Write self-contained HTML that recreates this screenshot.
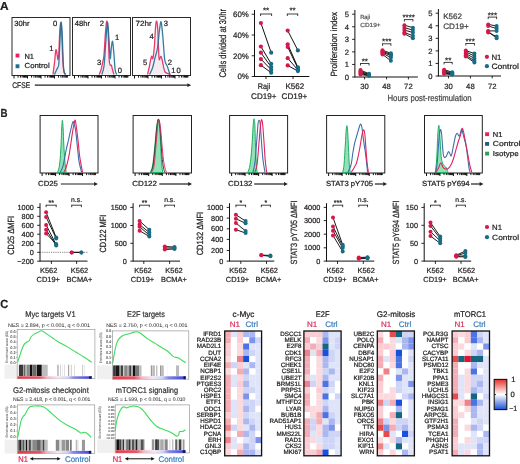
<!DOCTYPE html>
<html><head><meta charset="utf-8"><style>
html,body{margin:0;padding:0;background:#fff;}
svg{display:block;will-change:transform;}
text{font-family:"Liberation Sans", sans-serif;text-rendering:geometricPrecision;}
</style></head><body>
<svg width="520" height="464" viewBox="0 0 520 464">
<rect width="520" height="464" fill="#fff"/>
<text x="0.00" y="9.60" font-size="11.5" fill="#231f20" stroke="#231f20" stroke-width="0.22" font-weight="bold" textLength="8.6" lengthAdjust="spacingAndGlyphs">A</text>
<rect x="12.00" y="17.50" width="58.00" height="58.00" fill="none" stroke="#2b2b2b" stroke-width="1"/>
<rect x="72.50" y="17.50" width="58.00" height="58.00" fill="none" stroke="#2b2b2b" stroke-width="1"/>
<rect x="132.50" y="17.50" width="58.00" height="58.00" fill="none" stroke="#2b2b2b" stroke-width="1"/>
<path d="M53.00,74.50 C53.27,72.42 54.12,66.12 54.60,62.00 C55.08,57.88 55.47,50.97 55.90,49.80 C56.33,48.63 56.87,53.38 57.20,55.00 C57.53,56.62 57.63,59.67 57.90,59.50 C58.17,59.33 58.52,58.08 58.80,54.00 C59.08,49.92 59.30,40.17 59.60,35.00 C59.90,29.83 60.27,23.83 60.60,23.00 C60.93,22.17 61.27,24.67 61.60,30.00 C61.93,35.33 62.27,48.33 62.60,55.00 C62.93,61.67 63.20,66.75 63.60,70.00 C64.00,73.25 64.77,73.75 65.00,74.50 Z" fill="#f37aa0" fill-opacity="0.105"/>
<path d="M53.00,74.50 C53.27,72.42 54.12,66.12 54.60,62.00 C55.08,57.88 55.47,50.97 55.90,49.80 C56.33,48.63 56.87,53.38 57.20,55.00 C57.53,56.62 57.63,59.67 57.90,59.50 C58.17,59.33 58.52,58.08 58.80,54.00 C59.08,49.92 59.30,40.17 59.60,35.00 C59.90,29.83 60.27,23.83 60.60,23.00 C60.93,22.17 61.27,24.67 61.60,30.00 C61.93,35.33 62.27,48.33 62.60,55.00 C62.93,61.67 63.20,66.75 63.60,70.00 C64.00,73.25 64.77,73.75 65.00,74.50" fill="none" stroke="#e8245c" stroke-width="1.3" stroke-linejoin="round" stroke-opacity="0.9"/>
<path d="M54.50,74.50 C54.83,73.75 55.93,71.22 56.50,70.00 C57.07,68.78 57.52,68.20 57.90,67.20 C58.28,66.20 58.48,67.87 58.80,64.00 C59.12,60.13 59.43,50.93 59.80,44.00 C60.17,37.07 60.60,24.07 61.00,22.40 C61.40,20.73 61.83,27.40 62.20,34.00 C62.57,40.60 62.87,55.67 63.20,62.00 C63.53,68.33 63.73,69.92 64.20,72.00 C64.67,74.08 65.70,74.08 66.00,74.50 Z" fill="#6ab0d0" fill-opacity="0.06"/>
<path d="M54.50,74.50 C54.83,73.75 55.93,71.22 56.50,70.00 C57.07,68.78 57.52,68.20 57.90,67.20 C58.28,66.20 58.48,67.87 58.80,64.00 C59.12,60.13 59.43,50.93 59.80,44.00 C60.17,37.07 60.60,24.07 61.00,22.40 C61.40,20.73 61.83,27.40 62.20,34.00 C62.57,40.60 62.87,55.67 63.20,62.00 C63.53,68.33 63.73,69.92 64.20,72.00 C64.67,74.08 65.70,74.08 66.00,74.50" fill="none" stroke="#1f6f93" stroke-width="1.3" stroke-linejoin="round" stroke-opacity="0.9"/>
<path d="M99.10,74.50 C99.42,73.75 100.43,71.90 101.00,70.00 C101.57,68.10 102.00,65.60 102.50,63.10 C103.00,60.60 103.50,60.18 104.00,55.00 C104.50,49.82 105.02,37.65 105.50,32.00 C105.98,26.35 106.45,20.77 106.90,21.10 C107.35,21.43 107.82,27.52 108.20,34.00 C108.58,40.48 108.87,54.83 109.20,60.00 C109.53,65.17 109.85,64.13 110.20,65.00 C110.55,65.87 110.90,64.37 111.30,65.20 C111.70,66.03 112.15,68.45 112.60,70.00 C113.05,71.55 113.77,73.75 114.00,74.50 Z" fill="#f37aa0" fill-opacity="0.105"/>
<path d="M99.10,74.50 C99.42,73.75 100.43,71.90 101.00,70.00 C101.57,68.10 102.00,65.60 102.50,63.10 C103.00,60.60 103.50,60.18 104.00,55.00 C104.50,49.82 105.02,37.65 105.50,32.00 C105.98,26.35 106.45,20.77 106.90,21.10 C107.35,21.43 107.82,27.52 108.20,34.00 C108.58,40.48 108.87,54.83 109.20,60.00 C109.53,65.17 109.85,64.13 110.20,65.00 C110.55,65.87 110.90,64.37 111.30,65.20 C111.70,66.03 112.15,68.45 112.60,70.00 C113.05,71.55 113.77,73.75 114.00,74.50" fill="none" stroke="#e8245c" stroke-width="1.3" stroke-linejoin="round" stroke-opacity="0.9"/>
<path d="M101.80,74.50 C102.17,73.08 103.33,71.42 104.00,66.00 C104.67,60.58 105.22,49.27 105.80,42.00 C106.38,34.73 106.97,22.73 107.50,22.40 C108.03,22.07 108.55,34.00 109.00,40.00 C109.45,46.00 109.82,57.07 110.20,58.40 C110.58,59.73 110.90,50.83 111.30,48.00 C111.70,45.17 112.15,40.23 112.60,41.40 C113.05,42.57 113.57,50.23 114.00,55.00 C114.43,59.77 114.75,66.75 115.20,70.00 C115.65,73.25 116.45,73.75 116.70,74.50 Z" fill="#6ab0d0" fill-opacity="0.06"/>
<path d="M101.80,74.50 C102.17,73.08 103.33,71.42 104.00,66.00 C104.67,60.58 105.22,49.27 105.80,42.00 C106.38,34.73 106.97,22.73 107.50,22.40 C108.03,22.07 108.55,34.00 109.00,40.00 C109.45,46.00 109.82,57.07 110.20,58.40 C110.58,59.73 110.90,50.83 111.30,48.00 C111.70,45.17 112.15,40.23 112.60,41.40 C113.05,42.57 113.57,50.23 114.00,55.00 C114.43,59.77 114.75,66.75 115.20,70.00 C115.65,73.25 116.45,73.75 116.70,74.50" fill="none" stroke="#1f6f93" stroke-width="1.3" stroke-linejoin="round" stroke-opacity="0.9"/>
<path d="M147.50,74.50 C147.83,73.08 148.83,69.02 149.50,66.00 C150.17,62.98 150.93,57.67 151.50,56.40 C152.07,55.13 152.40,60.30 152.90,58.40 C153.40,56.50 154.07,50.07 154.50,45.00 C154.93,39.93 155.15,31.98 155.50,28.00 C155.85,24.02 156.22,20.77 156.60,21.10 C156.98,21.43 157.40,23.88 157.80,30.00 C158.20,36.12 158.60,53.22 159.00,57.80 C159.40,62.38 159.85,57.73 160.20,57.50 C160.55,57.27 160.77,55.98 161.10,56.40 C161.43,56.82 161.87,58.65 162.20,60.00 C162.53,61.35 162.62,62.50 163.10,64.50 C163.58,66.50 163.85,70.33 165.10,72.00 C166.35,73.67 169.68,74.08 170.60,74.50 Z" fill="#f37aa0" fill-opacity="0.105"/>
<path d="M147.50,74.50 C147.83,73.08 148.83,69.02 149.50,66.00 C150.17,62.98 150.93,57.67 151.50,56.40 C152.07,55.13 152.40,60.30 152.90,58.40 C153.40,56.50 154.07,50.07 154.50,45.00 C154.93,39.93 155.15,31.98 155.50,28.00 C155.85,24.02 156.22,20.77 156.60,21.10 C156.98,21.43 157.40,23.88 157.80,30.00 C158.20,36.12 158.60,53.22 159.00,57.80 C159.40,62.38 159.85,57.73 160.20,57.50 C160.55,57.27 160.77,55.98 161.10,56.40 C161.43,56.82 161.87,58.65 162.20,60.00 C162.53,61.35 162.62,62.50 163.10,64.50 C163.58,66.50 163.85,70.33 165.10,72.00 C166.35,73.67 169.68,74.08 170.60,74.50" fill="none" stroke="#e8245c" stroke-width="1.3" stroke-linejoin="round" stroke-opacity="0.9"/>
<path d="M149.50,74.50 C150.00,73.42 151.58,70.78 152.50,68.00 C153.42,65.22 154.17,61.13 155.00,57.80 C155.83,54.47 156.75,52.63 157.50,48.00 C158.25,43.37 158.90,34.37 159.50,30.00 C160.10,25.63 160.57,20.97 161.10,21.80 C161.63,22.63 162.13,29.00 162.70,35.00 C163.27,41.00 164.02,53.13 164.50,57.80 C164.98,62.47 165.15,61.65 165.60,63.00 C166.05,64.35 166.72,64.73 167.20,65.90 C167.68,67.07 168.05,68.57 168.50,70.00 C168.95,71.43 169.67,73.75 169.90,74.50 Z" fill="#6ab0d0" fill-opacity="0.06"/>
<path d="M149.50,74.50 C150.00,73.42 151.58,70.78 152.50,68.00 C153.42,65.22 154.17,61.13 155.00,57.80 C155.83,54.47 156.75,52.63 157.50,48.00 C158.25,43.37 158.90,34.37 159.50,30.00 C160.10,25.63 160.57,20.97 161.10,21.80 C161.63,22.63 162.13,29.00 162.70,35.00 C163.27,41.00 164.02,53.13 164.50,57.80 C164.98,62.47 165.15,61.65 165.60,63.00 C166.05,64.35 166.72,64.73 167.20,65.90 C167.68,67.07 168.05,68.57 168.50,70.00 C168.95,71.43 169.67,73.75 169.90,74.50" fill="none" stroke="#1f6f93" stroke-width="1.3" stroke-linejoin="round" stroke-opacity="0.9"/>
<line x1="14.00" y1="75.50" x2="14.00" y2="78.50" stroke="#111" stroke-width="1.0"/>
<line x1="18.06" y1="75.50" x2="18.06" y2="77.60" stroke="#111" stroke-width="1.0"/>
<line x1="20.44" y1="75.50" x2="20.44" y2="77.60" stroke="#111" stroke-width="1.0"/>
<line x1="22.13" y1="75.50" x2="22.13" y2="77.60" stroke="#111" stroke-width="1.0"/>
<line x1="23.44" y1="75.50" x2="23.44" y2="77.60" stroke="#111" stroke-width="1.0"/>
<line x1="24.51" y1="75.50" x2="24.51" y2="77.60" stroke="#111" stroke-width="1.0"/>
<line x1="25.41" y1="75.50" x2="25.41" y2="77.60" stroke="#111" stroke-width="1.0"/>
<line x1="26.19" y1="75.50" x2="26.19" y2="77.60" stroke="#111" stroke-width="1.0"/>
<line x1="26.88" y1="75.50" x2="26.88" y2="77.60" stroke="#111" stroke-width="1.0"/>
<line x1="27.50" y1="75.50" x2="27.50" y2="78.50" stroke="#111" stroke-width="1.0"/>
<line x1="31.56" y1="75.50" x2="31.56" y2="77.60" stroke="#111" stroke-width="1.0"/>
<line x1="33.94" y1="75.50" x2="33.94" y2="77.60" stroke="#111" stroke-width="1.0"/>
<line x1="35.63" y1="75.50" x2="35.63" y2="77.60" stroke="#111" stroke-width="1.0"/>
<line x1="36.94" y1="75.50" x2="36.94" y2="77.60" stroke="#111" stroke-width="1.0"/>
<line x1="38.01" y1="75.50" x2="38.01" y2="77.60" stroke="#111" stroke-width="1.0"/>
<line x1="38.91" y1="75.50" x2="38.91" y2="77.60" stroke="#111" stroke-width="1.0"/>
<line x1="39.69" y1="75.50" x2="39.69" y2="77.60" stroke="#111" stroke-width="1.0"/>
<line x1="40.38" y1="75.50" x2="40.38" y2="77.60" stroke="#111" stroke-width="1.0"/>
<line x1="41.00" y1="75.50" x2="41.00" y2="78.50" stroke="#111" stroke-width="1.0"/>
<line x1="45.06" y1="75.50" x2="45.06" y2="77.60" stroke="#111" stroke-width="1.0"/>
<line x1="47.44" y1="75.50" x2="47.44" y2="77.60" stroke="#111" stroke-width="1.0"/>
<line x1="49.13" y1="75.50" x2="49.13" y2="77.60" stroke="#111" stroke-width="1.0"/>
<line x1="50.44" y1="75.50" x2="50.44" y2="77.60" stroke="#111" stroke-width="1.0"/>
<line x1="51.51" y1="75.50" x2="51.51" y2="77.60" stroke="#111" stroke-width="1.0"/>
<line x1="52.41" y1="75.50" x2="52.41" y2="77.60" stroke="#111" stroke-width="1.0"/>
<line x1="53.19" y1="75.50" x2="53.19" y2="77.60" stroke="#111" stroke-width="1.0"/>
<line x1="53.88" y1="75.50" x2="53.88" y2="77.60" stroke="#111" stroke-width="1.0"/>
<line x1="54.50" y1="75.50" x2="54.50" y2="78.50" stroke="#111" stroke-width="1.0"/>
<line x1="58.56" y1="75.50" x2="58.56" y2="77.60" stroke="#111" stroke-width="1.0"/>
<line x1="60.94" y1="75.50" x2="60.94" y2="77.60" stroke="#111" stroke-width="1.0"/>
<line x1="62.63" y1="75.50" x2="62.63" y2="77.60" stroke="#111" stroke-width="1.0"/>
<line x1="63.94" y1="75.50" x2="63.94" y2="77.60" stroke="#111" stroke-width="1.0"/>
<line x1="65.01" y1="75.50" x2="65.01" y2="77.60" stroke="#111" stroke-width="1.0"/>
<line x1="65.91" y1="75.50" x2="65.91" y2="77.60" stroke="#111" stroke-width="1.0"/>
<line x1="66.69" y1="75.50" x2="66.69" y2="77.60" stroke="#111" stroke-width="1.0"/>
<line x1="67.38" y1="75.50" x2="67.38" y2="77.60" stroke="#111" stroke-width="1.0"/>
<line x1="74.50" y1="75.50" x2="74.50" y2="78.50" stroke="#111" stroke-width="1.0"/>
<line x1="78.56" y1="75.50" x2="78.56" y2="77.60" stroke="#111" stroke-width="1.0"/>
<line x1="80.94" y1="75.50" x2="80.94" y2="77.60" stroke="#111" stroke-width="1.0"/>
<line x1="82.63" y1="75.50" x2="82.63" y2="77.60" stroke="#111" stroke-width="1.0"/>
<line x1="83.94" y1="75.50" x2="83.94" y2="77.60" stroke="#111" stroke-width="1.0"/>
<line x1="85.01" y1="75.50" x2="85.01" y2="77.60" stroke="#111" stroke-width="1.0"/>
<line x1="85.91" y1="75.50" x2="85.91" y2="77.60" stroke="#111" stroke-width="1.0"/>
<line x1="86.69" y1="75.50" x2="86.69" y2="77.60" stroke="#111" stroke-width="1.0"/>
<line x1="87.38" y1="75.50" x2="87.38" y2="77.60" stroke="#111" stroke-width="1.0"/>
<line x1="88.00" y1="75.50" x2="88.00" y2="78.50" stroke="#111" stroke-width="1.0"/>
<line x1="92.06" y1="75.50" x2="92.06" y2="77.60" stroke="#111" stroke-width="1.0"/>
<line x1="94.44" y1="75.50" x2="94.44" y2="77.60" stroke="#111" stroke-width="1.0"/>
<line x1="96.13" y1="75.50" x2="96.13" y2="77.60" stroke="#111" stroke-width="1.0"/>
<line x1="97.44" y1="75.50" x2="97.44" y2="77.60" stroke="#111" stroke-width="1.0"/>
<line x1="98.51" y1="75.50" x2="98.51" y2="77.60" stroke="#111" stroke-width="1.0"/>
<line x1="99.41" y1="75.50" x2="99.41" y2="77.60" stroke="#111" stroke-width="1.0"/>
<line x1="100.19" y1="75.50" x2="100.19" y2="77.60" stroke="#111" stroke-width="1.0"/>
<line x1="100.88" y1="75.50" x2="100.88" y2="77.60" stroke="#111" stroke-width="1.0"/>
<line x1="101.50" y1="75.50" x2="101.50" y2="78.50" stroke="#111" stroke-width="1.0"/>
<line x1="105.56" y1="75.50" x2="105.56" y2="77.60" stroke="#111" stroke-width="1.0"/>
<line x1="107.94" y1="75.50" x2="107.94" y2="77.60" stroke="#111" stroke-width="1.0"/>
<line x1="109.63" y1="75.50" x2="109.63" y2="77.60" stroke="#111" stroke-width="1.0"/>
<line x1="110.94" y1="75.50" x2="110.94" y2="77.60" stroke="#111" stroke-width="1.0"/>
<line x1="112.01" y1="75.50" x2="112.01" y2="77.60" stroke="#111" stroke-width="1.0"/>
<line x1="112.91" y1="75.50" x2="112.91" y2="77.60" stroke="#111" stroke-width="1.0"/>
<line x1="113.69" y1="75.50" x2="113.69" y2="77.60" stroke="#111" stroke-width="1.0"/>
<line x1="114.38" y1="75.50" x2="114.38" y2="77.60" stroke="#111" stroke-width="1.0"/>
<line x1="115.00" y1="75.50" x2="115.00" y2="78.50" stroke="#111" stroke-width="1.0"/>
<line x1="119.06" y1="75.50" x2="119.06" y2="77.60" stroke="#111" stroke-width="1.0"/>
<line x1="121.44" y1="75.50" x2="121.44" y2="77.60" stroke="#111" stroke-width="1.0"/>
<line x1="123.13" y1="75.50" x2="123.13" y2="77.60" stroke="#111" stroke-width="1.0"/>
<line x1="124.44" y1="75.50" x2="124.44" y2="77.60" stroke="#111" stroke-width="1.0"/>
<line x1="125.51" y1="75.50" x2="125.51" y2="77.60" stroke="#111" stroke-width="1.0"/>
<line x1="126.41" y1="75.50" x2="126.41" y2="77.60" stroke="#111" stroke-width="1.0"/>
<line x1="127.19" y1="75.50" x2="127.19" y2="77.60" stroke="#111" stroke-width="1.0"/>
<line x1="127.88" y1="75.50" x2="127.88" y2="77.60" stroke="#111" stroke-width="1.0"/>
<line x1="134.50" y1="75.50" x2="134.50" y2="78.50" stroke="#111" stroke-width="1.0"/>
<line x1="138.56" y1="75.50" x2="138.56" y2="77.60" stroke="#111" stroke-width="1.0"/>
<line x1="140.94" y1="75.50" x2="140.94" y2="77.60" stroke="#111" stroke-width="1.0"/>
<line x1="142.63" y1="75.50" x2="142.63" y2="77.60" stroke="#111" stroke-width="1.0"/>
<line x1="143.94" y1="75.50" x2="143.94" y2="77.60" stroke="#111" stroke-width="1.0"/>
<line x1="145.01" y1="75.50" x2="145.01" y2="77.60" stroke="#111" stroke-width="1.0"/>
<line x1="145.91" y1="75.50" x2="145.91" y2="77.60" stroke="#111" stroke-width="1.0"/>
<line x1="146.69" y1="75.50" x2="146.69" y2="77.60" stroke="#111" stroke-width="1.0"/>
<line x1="147.38" y1="75.50" x2="147.38" y2="77.60" stroke="#111" stroke-width="1.0"/>
<line x1="148.00" y1="75.50" x2="148.00" y2="78.50" stroke="#111" stroke-width="1.0"/>
<line x1="152.06" y1="75.50" x2="152.06" y2="77.60" stroke="#111" stroke-width="1.0"/>
<line x1="154.44" y1="75.50" x2="154.44" y2="77.60" stroke="#111" stroke-width="1.0"/>
<line x1="156.13" y1="75.50" x2="156.13" y2="77.60" stroke="#111" stroke-width="1.0"/>
<line x1="157.44" y1="75.50" x2="157.44" y2="77.60" stroke="#111" stroke-width="1.0"/>
<line x1="158.51" y1="75.50" x2="158.51" y2="77.60" stroke="#111" stroke-width="1.0"/>
<line x1="159.41" y1="75.50" x2="159.41" y2="77.60" stroke="#111" stroke-width="1.0"/>
<line x1="160.19" y1="75.50" x2="160.19" y2="77.60" stroke="#111" stroke-width="1.0"/>
<line x1="160.88" y1="75.50" x2="160.88" y2="77.60" stroke="#111" stroke-width="1.0"/>
<line x1="161.50" y1="75.50" x2="161.50" y2="78.50" stroke="#111" stroke-width="1.0"/>
<line x1="165.56" y1="75.50" x2="165.56" y2="77.60" stroke="#111" stroke-width="1.0"/>
<line x1="167.94" y1="75.50" x2="167.94" y2="77.60" stroke="#111" stroke-width="1.0"/>
<line x1="169.63" y1="75.50" x2="169.63" y2="77.60" stroke="#111" stroke-width="1.0"/>
<line x1="170.94" y1="75.50" x2="170.94" y2="77.60" stroke="#111" stroke-width="1.0"/>
<line x1="172.01" y1="75.50" x2="172.01" y2="77.60" stroke="#111" stroke-width="1.0"/>
<line x1="172.91" y1="75.50" x2="172.91" y2="77.60" stroke="#111" stroke-width="1.0"/>
<line x1="173.69" y1="75.50" x2="173.69" y2="77.60" stroke="#111" stroke-width="1.0"/>
<line x1="174.38" y1="75.50" x2="174.38" y2="77.60" stroke="#111" stroke-width="1.0"/>
<line x1="175.00" y1="75.50" x2="175.00" y2="78.50" stroke="#111" stroke-width="1.0"/>
<line x1="179.06" y1="75.50" x2="179.06" y2="77.60" stroke="#111" stroke-width="1.0"/>
<line x1="181.44" y1="75.50" x2="181.44" y2="77.60" stroke="#111" stroke-width="1.0"/>
<line x1="183.13" y1="75.50" x2="183.13" y2="77.60" stroke="#111" stroke-width="1.0"/>
<line x1="184.44" y1="75.50" x2="184.44" y2="77.60" stroke="#111" stroke-width="1.0"/>
<line x1="185.51" y1="75.50" x2="185.51" y2="77.60" stroke="#111" stroke-width="1.0"/>
<line x1="186.41" y1="75.50" x2="186.41" y2="77.60" stroke="#111" stroke-width="1.0"/>
<line x1="187.19" y1="75.50" x2="187.19" y2="77.60" stroke="#111" stroke-width="1.0"/>
<line x1="187.88" y1="75.50" x2="187.88" y2="77.60" stroke="#111" stroke-width="1.0"/>
<text x="14.30" y="25.90" font-size="7.5" fill="#222" stroke="#222" stroke-width="0.22" textLength="15.3" lengthAdjust="spacingAndGlyphs">30hr</text>
<text x="74.80" y="25.90" font-size="7.5" fill="#222" stroke="#222" stroke-width="0.22" textLength="15.3" lengthAdjust="spacingAndGlyphs">48hr</text>
<text x="135.60" y="25.90" font-size="7.5" fill="#222" stroke="#222" stroke-width="0.22" textLength="16.2" lengthAdjust="spacingAndGlyphs">72hr</text>
<text x="55.20" y="26.00" font-size="7.6" text-anchor="middle" fill="#222" stroke="#222" stroke-width="0.22">0</text>
<text x="51.30" y="51.20" font-size="7.6" text-anchor="middle" fill="#222" stroke="#222" stroke-width="0.22">1</text>
<text x="101.80" y="25.80" font-size="7.6" text-anchor="middle" fill="#222" stroke="#222" stroke-width="0.22">2</text>
<text x="117.00" y="39.50" font-size="7.6" text-anchor="middle" fill="#222" stroke="#222" stroke-width="0.22">1</text>
<text x="99.10" y="64.50" font-size="7.6" text-anchor="middle" fill="#222" stroke="#222" stroke-width="0.22">3</text>
<text x="119.80" y="73.00" font-size="7.6" text-anchor="middle" fill="#222" stroke="#222" stroke-width="0.22">0</text>
<text x="165.80" y="25.80" font-size="7.6" text-anchor="middle" fill="#222" stroke="#222" stroke-width="0.22">3</text>
<text x="151.50" y="38.90" font-size="7.6" text-anchor="middle" fill="#222" stroke="#222" stroke-width="0.22">4</text>
<text x="145.20" y="65.10" font-size="7.6" text-anchor="middle" fill="#222" stroke="#222" stroke-width="0.22">5</text>
<text x="169.90" y="64.60" font-size="7.6" text-anchor="middle" fill="#222" stroke="#222" stroke-width="0.22">2</text>
<text x="173.30" y="72.60" font-size="7.6" text-anchor="middle" fill="#222" stroke="#222" stroke-width="0.22">1</text>
<text x="178.70" y="72.60" font-size="7.6" text-anchor="middle" fill="#222" stroke="#222" stroke-width="0.22">0</text>
<rect x="15.60" y="53.60" width="3.80" height="3.90" fill="#e8245c"/>
<text x="24.50" y="58.50" font-size="7.4" fill="#222" stroke="#222" stroke-width="0.22" textLength="9.5" lengthAdjust="spacingAndGlyphs">N1</text>
<rect x="15.60" y="64.30" width="3.80" height="3.90" fill="#1f6f93"/>
<text x="24.50" y="68.30" font-size="7.4" fill="#222" stroke="#222" stroke-width="0.22" textLength="25.2" lengthAdjust="spacingAndGlyphs">Control</text>
<text x="12.20" y="87.80" font-size="8.2" fill="#222" stroke="#222" stroke-width="0.22" textLength="18.0" lengthAdjust="spacingAndGlyphs">CFSE</text>
<line x1="34.80" y1="85.20" x2="187.90" y2="85.20" stroke="#231f20" stroke-width="1.2"/>
<path d="M191.20,85.20 L187.40,83.30 L187.40,87.10 Z" fill="#231f20"/>
<line x1="254.50" y1="10.00" x2="254.50" y2="77.00" stroke="#111" stroke-width="1"/>
<line x1="251.70" y1="76.50" x2="254.50" y2="76.50" stroke="#111" stroke-width="0.9"/>
<text x="248.90" y="79.25" font-size="7.9" text-anchor="end" fill="#231f20" stroke="#231f20" stroke-width="0.22">0%</text>
<line x1="251.70" y1="55.75" x2="254.50" y2="55.75" stroke="#111" stroke-width="0.9"/>
<text x="248.90" y="58.50" font-size="7.9" text-anchor="end" fill="#231f20" stroke="#231f20" stroke-width="0.22">20%</text>
<line x1="251.70" y1="35.00" x2="254.50" y2="35.00" stroke="#111" stroke-width="0.9"/>
<text x="248.90" y="37.75" font-size="7.9" text-anchor="end" fill="#231f20" stroke="#231f20" stroke-width="0.22">40%</text>
<line x1="251.70" y1="14.25" x2="254.50" y2="14.25" stroke="#111" stroke-width="0.9"/>
<text x="248.90" y="17.00" font-size="7.9" text-anchor="end" fill="#231f20" stroke="#231f20" stroke-width="0.22">60%</text>
<line x1="254.50" y1="76.50" x2="309.40" y2="76.50" stroke="#111" stroke-width="1"/>
<line x1="266.00" y1="76.50" x2="266.00" y2="79.10" stroke="#111" stroke-width="0.9"/>
<line x1="293.00" y1="76.50" x2="293.00" y2="79.10" stroke="#111" stroke-width="0.9"/>
<text x="226.30" y="43.30" font-size="9.8" text-anchor="middle" fill="#222" stroke="#222" stroke-width="0.22" textLength="68.6" lengthAdjust="spacingAndGlyphs" transform="rotate(-90 226.30 43.30)">Cells divided at 30hr</text>
<line x1="260.90" y1="23.00" x2="271.20" y2="52.70" stroke="#111" stroke-width="1.0"/>
<line x1="260.90" y1="46.50" x2="271.20" y2="63.80" stroke="#111" stroke-width="1.0"/>
<line x1="260.90" y1="52.70" x2="271.20" y2="67.00" stroke="#111" stroke-width="1.0"/>
<line x1="260.90" y1="59.10" x2="271.20" y2="69.70" stroke="#111" stroke-width="1.0"/>
<line x1="260.90" y1="65.20" x2="271.20" y2="72.70" stroke="#111" stroke-width="1.0"/>
<circle cx="260.90" cy="23.00" r="2.1" fill="#d6174a"/>
<circle cx="260.90" cy="46.50" r="2.1" fill="#d6174a"/>
<circle cx="260.90" cy="52.70" r="2.1" fill="#d6174a"/>
<circle cx="260.90" cy="59.10" r="2.1" fill="#d6174a"/>
<circle cx="260.90" cy="65.20" r="2.1" fill="#d6174a"/>
<circle cx="271.20" cy="52.70" r="2.1" fill="#186c86"/>
<circle cx="271.20" cy="63.80" r="2.1" fill="#186c86"/>
<circle cx="271.20" cy="67.00" r="2.1" fill="#186c86"/>
<circle cx="271.20" cy="69.70" r="2.1" fill="#186c86"/>
<circle cx="271.20" cy="72.70" r="2.1" fill="#186c86"/>
<line x1="287.70" y1="30.60" x2="297.90" y2="50.40" stroke="#111" stroke-width="1.0"/>
<line x1="287.70" y1="44.30" x2="297.90" y2="67.40" stroke="#111" stroke-width="1.0"/>
<line x1="287.70" y1="47.00" x2="297.90" y2="68.40" stroke="#111" stroke-width="1.0"/>
<line x1="287.70" y1="58.20" x2="297.90" y2="70.00" stroke="#111" stroke-width="1.0"/>
<line x1="287.70" y1="65.40" x2="297.90" y2="71.10" stroke="#111" stroke-width="1.0"/>
<circle cx="287.70" cy="30.60" r="2.1" fill="#d6174a"/>
<circle cx="287.70" cy="44.30" r="2.1" fill="#d6174a"/>
<circle cx="287.70" cy="47.00" r="2.1" fill="#d6174a"/>
<circle cx="287.70" cy="58.20" r="2.1" fill="#d6174a"/>
<circle cx="287.70" cy="65.40" r="2.1" fill="#d6174a"/>
<circle cx="297.90" cy="50.40" r="2.1" fill="#186c86"/>
<circle cx="297.90" cy="67.40" r="2.1" fill="#186c86"/>
<circle cx="297.90" cy="68.40" r="2.1" fill="#186c86"/>
<circle cx="297.90" cy="70.00" r="2.1" fill="#186c86"/>
<circle cx="297.90" cy="71.10" r="2.1" fill="#186c86"/>
<line x1="260.60" y1="14.00" x2="271.60" y2="14.00" stroke="#111" stroke-width="0.8"/>
<line x1="260.60" y1="13.60" x2="260.60" y2="16.00" stroke="#111" stroke-width="0.8"/>
<line x1="271.60" y1="13.60" x2="271.60" y2="16.00" stroke="#111" stroke-width="0.8"/>
<text x="266.10" y="13.00" font-size="8.0" text-anchor="middle" fill="#231f20" stroke="#231f20" stroke-width="0.22">**</text>
<line x1="287.30" y1="14.00" x2="297.70" y2="14.00" stroke="#111" stroke-width="0.8"/>
<line x1="287.30" y1="13.60" x2="287.30" y2="16.00" stroke="#111" stroke-width="0.8"/>
<line x1="297.70" y1="13.60" x2="297.70" y2="16.00" stroke="#111" stroke-width="0.8"/>
<text x="292.50" y="13.00" font-size="8.0" text-anchor="middle" fill="#231f20" stroke="#231f20" stroke-width="0.22">**</text>
<text x="264.05" y="89.10" font-size="8.1" text-anchor="middle" fill="#231f20" stroke="#231f20" stroke-width="0.22" textLength="12.5" lengthAdjust="spacingAndGlyphs">Raji</text>
<text x="263.85" y="99.00" font-size="8.1" text-anchor="middle" fill="#231f20" stroke="#231f20" stroke-width="0.22" textLength="25.5" lengthAdjust="spacingAndGlyphs">CD19+</text>
<text x="294.80" y="89.10" font-size="8.1" text-anchor="middle" fill="#231f20" stroke="#231f20" stroke-width="0.22" textLength="18.8" lengthAdjust="spacingAndGlyphs">K562</text>
<text x="294.40" y="99.00" font-size="8.1" text-anchor="middle" fill="#231f20" stroke="#231f20" stroke-width="0.22" textLength="25.6" lengthAdjust="spacingAndGlyphs">CD19+</text>
<line x1="354.90" y1="10.00" x2="354.90" y2="77.50" stroke="#111" stroke-width="1"/>
<line x1="352.10" y1="77.00" x2="354.90" y2="77.00" stroke="#111" stroke-width="0.9"/>
<text x="349.10" y="79.75" font-size="7.6" text-anchor="end" fill="#231f20" stroke="#231f20" stroke-width="0.22">0</text>
<line x1="352.10" y1="64.44" x2="354.90" y2="64.44" stroke="#111" stroke-width="0.9"/>
<text x="349.10" y="67.19" font-size="7.6" text-anchor="end" fill="#231f20" stroke="#231f20" stroke-width="0.22">1</text>
<line x1="352.10" y1="51.88" x2="354.90" y2="51.88" stroke="#111" stroke-width="0.9"/>
<text x="349.10" y="54.63" font-size="7.6" text-anchor="end" fill="#231f20" stroke="#231f20" stroke-width="0.22">2</text>
<line x1="352.10" y1="39.32" x2="354.90" y2="39.32" stroke="#111" stroke-width="0.9"/>
<text x="349.10" y="42.07" font-size="7.6" text-anchor="end" fill="#231f20" stroke="#231f20" stroke-width="0.22">3</text>
<line x1="352.10" y1="26.76" x2="354.90" y2="26.76" stroke="#111" stroke-width="0.9"/>
<text x="349.10" y="29.51" font-size="7.6" text-anchor="end" fill="#231f20" stroke="#231f20" stroke-width="0.22">4</text>
<line x1="352.10" y1="14.20" x2="354.90" y2="14.20" stroke="#111" stroke-width="0.9"/>
<text x="349.10" y="16.95" font-size="7.6" text-anchor="end" fill="#231f20" stroke="#231f20" stroke-width="0.22">5</text>
<line x1="354.90" y1="77.00" x2="417.90" y2="77.00" stroke="#111" stroke-width="1"/>
<line x1="364.60" y1="77.00" x2="364.60" y2="79.40" stroke="#111" stroke-width="0.9"/>
<line x1="386.60" y1="77.00" x2="386.60" y2="79.40" stroke="#111" stroke-width="0.9"/>
<line x1="408.40" y1="77.00" x2="408.40" y2="79.40" stroke="#111" stroke-width="0.9"/>
<text x="364.60" y="88.50" font-size="7.7" text-anchor="middle" fill="#231f20" stroke="#231f20" stroke-width="0.22">30</text>
<text x="386.60" y="88.50" font-size="7.7" text-anchor="middle" fill="#231f20" stroke="#231f20" stroke-width="0.22">48</text>
<text x="408.40" y="88.50" font-size="7.7" text-anchor="middle" fill="#231f20" stroke="#231f20" stroke-width="0.22">72</text>
<line x1="360.50" y1="70.00" x2="369.00" y2="73.80" stroke="#111" stroke-width="0.95"/>
<line x1="360.50" y1="71.30" x2="369.00" y2="74.40" stroke="#111" stroke-width="0.95"/>
<line x1="360.50" y1="72.50" x2="369.00" y2="74.90" stroke="#111" stroke-width="0.95"/>
<line x1="360.50" y1="73.60" x2="369.00" y2="75.30" stroke="#111" stroke-width="0.95"/>
<line x1="360.50" y1="74.60" x2="369.00" y2="75.70" stroke="#111" stroke-width="0.95"/>
<circle cx="360.50" cy="70.00" r="2.0" fill="#d6174a"/>
<circle cx="360.50" cy="71.30" r="2.0" fill="#d6174a"/>
<circle cx="360.50" cy="72.50" r="2.0" fill="#d6174a"/>
<circle cx="360.50" cy="73.60" r="2.0" fill="#d6174a"/>
<circle cx="360.50" cy="74.60" r="2.0" fill="#d6174a"/>
<circle cx="369.00" cy="73.80" r="2.0" fill="#186c86"/>
<circle cx="369.00" cy="74.40" r="2.0" fill="#186c86"/>
<circle cx="369.00" cy="74.90" r="2.0" fill="#186c86"/>
<circle cx="369.00" cy="75.30" r="2.0" fill="#186c86"/>
<circle cx="369.00" cy="75.70" r="2.0" fill="#186c86"/>
<line x1="360.50" y1="63.50" x2="369.00" y2="63.50" stroke="#111" stroke-width="0.8"/>
<line x1="360.50" y1="63.10" x2="360.50" y2="65.50" stroke="#111" stroke-width="0.8"/>
<line x1="369.00" y1="63.10" x2="369.00" y2="65.50" stroke="#111" stroke-width="0.8"/>
<text x="364.75" y="63.90" font-size="8.0" text-anchor="middle" fill="#231f20" stroke="#231f20" stroke-width="0.22">**</text>
<line x1="382.50" y1="50.30" x2="390.90" y2="53.20" stroke="#111" stroke-width="0.95"/>
<line x1="382.50" y1="51.30" x2="390.90" y2="54.40" stroke="#111" stroke-width="0.95"/>
<line x1="382.50" y1="52.30" x2="390.90" y2="55.50" stroke="#111" stroke-width="0.95"/>
<line x1="382.50" y1="53.20" x2="390.90" y2="57.60" stroke="#111" stroke-width="0.95"/>
<line x1="382.50" y1="54.40" x2="390.90" y2="60.80" stroke="#111" stroke-width="0.95"/>
<circle cx="382.50" cy="50.30" r="2.0" fill="#d6174a"/>
<circle cx="382.50" cy="51.30" r="2.0" fill="#d6174a"/>
<circle cx="382.50" cy="52.30" r="2.0" fill="#d6174a"/>
<circle cx="382.50" cy="53.20" r="2.0" fill="#d6174a"/>
<circle cx="382.50" cy="54.40" r="2.0" fill="#d6174a"/>
<circle cx="390.90" cy="53.20" r="2.0" fill="#186c86"/>
<circle cx="390.90" cy="54.40" r="2.0" fill="#186c86"/>
<circle cx="390.90" cy="55.50" r="2.0" fill="#186c86"/>
<circle cx="390.90" cy="57.60" r="2.0" fill="#186c86"/>
<circle cx="390.90" cy="60.80" r="2.0" fill="#186c86"/>
<line x1="382.50" y1="43.80" x2="390.90" y2="43.80" stroke="#111" stroke-width="0.8"/>
<line x1="382.50" y1="43.40" x2="382.50" y2="45.80" stroke="#111" stroke-width="0.8"/>
<line x1="390.90" y1="43.40" x2="390.90" y2="45.80" stroke="#111" stroke-width="0.8"/>
<text x="386.70" y="44.20" font-size="8.0" text-anchor="middle" fill="#231f20" stroke="#231f20" stroke-width="0.22">***</text>
<line x1="404.40" y1="25.20" x2="412.90" y2="27.70" stroke="#111" stroke-width="0.95"/>
<line x1="404.40" y1="27.70" x2="412.90" y2="30.10" stroke="#111" stroke-width="0.95"/>
<line x1="404.40" y1="30.10" x2="412.90" y2="32.50" stroke="#111" stroke-width="0.95"/>
<line x1="404.40" y1="32.50" x2="412.90" y2="35.70" stroke="#111" stroke-width="0.95"/>
<line x1="404.40" y1="33.80" x2="412.90" y2="38.20" stroke="#111" stroke-width="0.95"/>
<circle cx="404.40" cy="25.20" r="2.0" fill="#d6174a"/>
<circle cx="404.40" cy="27.70" r="2.0" fill="#d6174a"/>
<circle cx="404.40" cy="30.10" r="2.0" fill="#d6174a"/>
<circle cx="404.40" cy="32.50" r="2.0" fill="#d6174a"/>
<circle cx="404.40" cy="33.80" r="2.0" fill="#d6174a"/>
<circle cx="412.90" cy="27.70" r="2.0" fill="#186c86"/>
<circle cx="412.90" cy="30.10" r="2.0" fill="#186c86"/>
<circle cx="412.90" cy="32.50" r="2.0" fill="#186c86"/>
<circle cx="412.90" cy="35.70" r="2.0" fill="#186c86"/>
<circle cx="412.90" cy="38.20" r="2.0" fill="#186c86"/>
<line x1="404.40" y1="19.60" x2="412.90" y2="19.60" stroke="#111" stroke-width="0.8"/>
<line x1="404.40" y1="19.20" x2="404.40" y2="21.60" stroke="#111" stroke-width="0.8"/>
<line x1="412.90" y1="19.20" x2="412.90" y2="21.60" stroke="#111" stroke-width="0.8"/>
<text x="408.65" y="20.00" font-size="8.0" text-anchor="middle" fill="#231f20" stroke="#231f20" stroke-width="0.22">****</text>
<text x="337.40" y="44.30" font-size="9.0" text-anchor="middle" fill="#222" stroke="#222" stroke-width="0.22" textLength="64.6" lengthAdjust="spacingAndGlyphs" transform="rotate(-90 337.40 44.30)">Proliferation index</text>
<text x="360.20" y="19.20" font-size="5.9" fill="#555" stroke="#555" stroke-width="0.22" textLength="9.8" lengthAdjust="spacingAndGlyphs">Raji</text>
<text x="360.20" y="27.30" font-size="5.9" fill="#555" stroke="#555" stroke-width="0.22" textLength="20.5" lengthAdjust="spacingAndGlyphs">CD19+</text>
<line x1="438.40" y1="9.00" x2="438.40" y2="76.50" stroke="#111" stroke-width="1"/>
<line x1="435.60" y1="76.00" x2="438.40" y2="76.00" stroke="#111" stroke-width="0.9"/>
<text x="432.60" y="78.75" font-size="7.6" text-anchor="end" fill="#231f20" stroke="#231f20" stroke-width="0.22">0</text>
<line x1="435.60" y1="63.44" x2="438.40" y2="63.44" stroke="#111" stroke-width="0.9"/>
<text x="432.60" y="66.19" font-size="7.6" text-anchor="end" fill="#231f20" stroke="#231f20" stroke-width="0.22">1</text>
<line x1="435.60" y1="50.88" x2="438.40" y2="50.88" stroke="#111" stroke-width="0.9"/>
<text x="432.60" y="53.63" font-size="7.6" text-anchor="end" fill="#231f20" stroke="#231f20" stroke-width="0.22">2</text>
<line x1="435.60" y1="38.32" x2="438.40" y2="38.32" stroke="#111" stroke-width="0.9"/>
<text x="432.60" y="41.07" font-size="7.6" text-anchor="end" fill="#231f20" stroke="#231f20" stroke-width="0.22">3</text>
<line x1="435.60" y1="25.76" x2="438.40" y2="25.76" stroke="#111" stroke-width="0.9"/>
<text x="432.60" y="28.51" font-size="7.6" text-anchor="end" fill="#231f20" stroke="#231f20" stroke-width="0.22">4</text>
<line x1="435.60" y1="13.20" x2="438.40" y2="13.20" stroke="#111" stroke-width="0.9"/>
<text x="432.60" y="15.95" font-size="7.6" text-anchor="end" fill="#231f20" stroke="#231f20" stroke-width="0.22">5</text>
<line x1="438.40" y1="76.00" x2="501.00" y2="76.00" stroke="#111" stroke-width="1"/>
<line x1="448.50" y1="76.00" x2="448.50" y2="78.40" stroke="#111" stroke-width="0.9"/>
<line x1="470.40" y1="76.00" x2="470.40" y2="78.40" stroke="#111" stroke-width="0.9"/>
<line x1="492.20" y1="76.00" x2="492.20" y2="78.40" stroke="#111" stroke-width="0.9"/>
<text x="448.50" y="88.50" font-size="7.7" text-anchor="middle" fill="#231f20" stroke="#231f20" stroke-width="0.22">30</text>
<text x="470.40" y="88.50" font-size="7.7" text-anchor="middle" fill="#231f20" stroke="#231f20" stroke-width="0.22">48</text>
<text x="492.20" y="88.50" font-size="7.7" text-anchor="middle" fill="#231f20" stroke="#231f20" stroke-width="0.22">72</text>
<line x1="444.10" y1="69.70" x2="452.20" y2="72.20" stroke="#111" stroke-width="0.95"/>
<line x1="444.10" y1="71.00" x2="452.20" y2="73.00" stroke="#111" stroke-width="0.95"/>
<line x1="444.10" y1="72.20" x2="452.20" y2="73.60" stroke="#111" stroke-width="0.95"/>
<line x1="444.10" y1="73.00" x2="452.20" y2="74.20" stroke="#111" stroke-width="0.95"/>
<line x1="444.10" y1="73.80" x2="452.20" y2="74.60" stroke="#111" stroke-width="0.95"/>
<circle cx="444.10" cy="69.70" r="2.0" fill="#d6174a"/>
<circle cx="444.10" cy="71.00" r="2.0" fill="#d6174a"/>
<circle cx="444.10" cy="72.20" r="2.0" fill="#d6174a"/>
<circle cx="444.10" cy="73.00" r="2.0" fill="#d6174a"/>
<circle cx="444.10" cy="73.80" r="2.0" fill="#d6174a"/>
<circle cx="452.20" cy="72.20" r="2.0" fill="#186c86"/>
<circle cx="452.20" cy="73.00" r="2.0" fill="#186c86"/>
<circle cx="452.20" cy="73.60" r="2.0" fill="#186c86"/>
<circle cx="452.20" cy="74.20" r="2.0" fill="#186c86"/>
<circle cx="452.20" cy="74.60" r="2.0" fill="#186c86"/>
<line x1="444.10" y1="62.40" x2="452.20" y2="62.40" stroke="#111" stroke-width="0.8"/>
<line x1="444.10" y1="62.00" x2="444.10" y2="64.40" stroke="#111" stroke-width="0.8"/>
<line x1="452.20" y1="62.00" x2="452.20" y2="64.40" stroke="#111" stroke-width="0.8"/>
<text x="448.15" y="62.80" font-size="8.0" text-anchor="middle" fill="#231f20" stroke="#231f20" stroke-width="0.22">**</text>
<line x1="465.80" y1="50.60" x2="474.40" y2="53.50" stroke="#111" stroke-width="0.95"/>
<line x1="465.80" y1="51.90" x2="474.40" y2="56.00" stroke="#111" stroke-width="0.95"/>
<line x1="465.80" y1="53.50" x2="474.40" y2="58.40" stroke="#111" stroke-width="0.95"/>
<line x1="465.80" y1="55.20" x2="474.40" y2="60.80" stroke="#111" stroke-width="0.95"/>
<line x1="465.80" y1="56.50" x2="474.40" y2="62.40" stroke="#111" stroke-width="0.95"/>
<circle cx="465.80" cy="50.60" r="2.0" fill="#d6174a"/>
<circle cx="465.80" cy="51.90" r="2.0" fill="#d6174a"/>
<circle cx="465.80" cy="53.50" r="2.0" fill="#d6174a"/>
<circle cx="465.80" cy="55.20" r="2.0" fill="#d6174a"/>
<circle cx="465.80" cy="56.50" r="2.0" fill="#d6174a"/>
<circle cx="474.40" cy="53.50" r="2.0" fill="#186c86"/>
<circle cx="474.40" cy="56.00" r="2.0" fill="#186c86"/>
<circle cx="474.40" cy="58.40" r="2.0" fill="#186c86"/>
<circle cx="474.40" cy="60.80" r="2.0" fill="#186c86"/>
<circle cx="474.40" cy="62.40" r="2.0" fill="#186c86"/>
<line x1="465.80" y1="43.50" x2="474.40" y2="43.50" stroke="#111" stroke-width="0.8"/>
<line x1="465.80" y1="43.10" x2="465.80" y2="45.50" stroke="#111" stroke-width="0.8"/>
<line x1="474.40" y1="43.10" x2="474.40" y2="45.50" stroke="#111" stroke-width="0.8"/>
<text x="470.10" y="43.90" font-size="8.0" text-anchor="middle" fill="#231f20" stroke="#231f20" stroke-width="0.22">***</text>
<line x1="488.20" y1="24.40" x2="496.60" y2="26.00" stroke="#111" stroke-width="0.95"/>
<line x1="488.20" y1="26.00" x2="496.60" y2="28.50" stroke="#111" stroke-width="0.95"/>
<line x1="488.20" y1="30.90" x2="496.60" y2="30.90" stroke="#111" stroke-width="0.95"/>
<line x1="488.20" y1="32.50" x2="496.60" y2="36.60" stroke="#111" stroke-width="0.95"/>
<line x1="488.20" y1="31.50" x2="496.60" y2="38.20" stroke="#111" stroke-width="0.95"/>
<circle cx="488.20" cy="24.40" r="2.0" fill="#d6174a"/>
<circle cx="488.20" cy="26.00" r="2.0" fill="#d6174a"/>
<circle cx="488.20" cy="30.90" r="2.0" fill="#d6174a"/>
<circle cx="488.20" cy="32.50" r="2.0" fill="#d6174a"/>
<circle cx="488.20" cy="31.50" r="2.0" fill="#d6174a"/>
<circle cx="496.60" cy="26.00" r="2.0" fill="#186c86"/>
<circle cx="496.60" cy="28.50" r="2.0" fill="#186c86"/>
<circle cx="496.60" cy="30.90" r="2.0" fill="#186c86"/>
<circle cx="496.60" cy="36.60" r="2.0" fill="#186c86"/>
<circle cx="496.60" cy="38.20" r="2.0" fill="#186c86"/>
<line x1="488.20" y1="17.10" x2="496.60" y2="17.10" stroke="#111" stroke-width="0.8"/>
<line x1="488.20" y1="16.70" x2="488.20" y2="19.10" stroke="#111" stroke-width="0.8"/>
<line x1="496.60" y1="16.70" x2="496.60" y2="19.10" stroke="#111" stroke-width="0.8"/>
<text x="492.40" y="17.50" font-size="8.0" text-anchor="middle" fill="#231f20" stroke="#231f20" stroke-width="0.22">***</text>
<text x="443.20" y="18.80" font-size="7.9" fill="#444" stroke="#444" stroke-width="0.22" textLength="18.8" lengthAdjust="spacingAndGlyphs">K562</text>
<text x="443.20" y="28.50" font-size="7.9" fill="#444" stroke="#444" stroke-width="0.22" textLength="25.5" lengthAdjust="spacingAndGlyphs">CD19+</text>
<circle cx="486.90" cy="56.80" r="2.1" fill="#d6174a"/>
<text x="491.40" y="59.60" font-size="7.8" fill="#231f20" stroke="#231f20" stroke-width="0.22" textLength="10" lengthAdjust="spacingAndGlyphs">N1</text>
<circle cx="486.90" cy="66.20" r="2.1" fill="#186c86"/>
<text x="491.40" y="69.00" font-size="7.8" fill="#231f20" stroke="#231f20" stroke-width="0.22" textLength="27.5" lengthAdjust="spacingAndGlyphs">Control</text>
<text x="429.60" y="100.60" font-size="8.8" text-anchor="middle" fill="#444" stroke="#444" stroke-width="0.22" textLength="84.2" lengthAdjust="spacingAndGlyphs">Hours post-restimulation</text>
<text x="0.40" y="116.60" font-size="11.8" fill="#231f20" stroke="#231f20" stroke-width="0.22" font-weight="bold" textLength="7.0" lengthAdjust="spacingAndGlyphs">B</text>
<rect x="40.10" y="115.50" width="57.90" height="57.50" fill="#fff" stroke="#222" stroke-width="1"/>
<rect x="133.10" y="115.50" width="58.40" height="57.50" fill="#fff" stroke="#222" stroke-width="1"/>
<rect x="229.60" y="115.50" width="58.00" height="57.50" fill="#fff" stroke="#222" stroke-width="1"/>
<rect x="326.60" y="115.50" width="58.20" height="57.50" fill="#fff" stroke="#222" stroke-width="1"/>
<rect x="424.50" y="115.50" width="57.80" height="57.50" fill="#fff" stroke="#222" stroke-width="1"/>
<path d="M57.60,172.50 C57.92,171.25 58.97,168.75 59.50,165.00 C60.03,161.25 60.43,156.17 60.80,150.00 C61.17,143.83 61.43,132.97 61.70,128.00 C61.97,123.03 62.17,120.20 62.40,120.20 C62.63,120.20 62.87,123.87 63.10,128.00 C63.33,132.13 63.57,140.50 63.80,145.00 C64.03,149.50 64.25,151.50 64.50,155.00 C64.75,158.50 65.02,163.08 65.30,166.00 C65.58,168.92 66.05,171.42 66.20,172.50 Z" fill="#7fdcaa" stroke="#1fae62" stroke-width="1.0" stroke-linejoin="round" fill-opacity="0.85"/>
<path d="M60.20,172.50 C60.67,171.42 62.00,169.78 63.00,166.00 C64.00,162.22 65.28,154.13 66.20,149.80 C67.12,145.47 67.78,143.15 68.50,140.00 C69.22,136.85 69.78,133.92 70.50,130.90 C71.22,127.88 72.18,123.05 72.80,121.90 C73.42,120.75 73.72,122.50 74.20,124.00 C74.68,125.50 75.15,126.90 75.70,130.90 C76.25,134.90 76.93,142.83 77.50,148.00 C78.07,153.17 78.40,157.82 79.10,161.90 C79.80,165.98 81.27,170.73 81.70,172.50" fill="none" stroke="#3b6fae" stroke-width="1.1" stroke-linejoin="round"/>
<path d="M63.60,172.50 C64.00,171.75 65.13,170.63 66.00,168.00 C66.87,165.37 68.05,160.37 68.80,156.70 C69.55,153.03 69.93,149.73 70.50,146.00 C71.07,142.27 71.62,137.97 72.20,134.30 C72.78,130.63 73.50,126.35 74.00,124.00 C74.50,121.65 74.78,119.53 75.20,120.20 C75.62,120.87 75.98,124.22 76.50,128.00 C77.02,131.78 77.80,138.40 78.30,142.90 C78.80,147.40 79.07,151.55 79.50,155.00 C79.93,158.45 80.38,160.68 80.90,163.60 C81.42,166.52 82.32,171.02 82.60,172.50" fill="none" stroke="#e2245a" stroke-width="1.1" stroke-linejoin="round"/>
<path d="M150.20,172.50 C150.58,171.42 151.78,169.75 152.50,166.00 C153.22,162.25 153.87,156.00 154.50,150.00 C155.13,144.00 155.75,135.00 156.30,130.00 C156.85,125.00 157.38,121.50 157.80,120.00 C158.22,118.50 158.43,119.00 158.80,121.00 C159.17,123.00 159.63,126.83 160.00,132.00 C160.37,137.17 160.70,146.50 161.00,152.00 C161.30,157.50 161.50,161.58 161.80,165.00 C162.10,168.42 162.63,171.25 162.80,172.50 Z" fill="#7fdcaa" stroke="#1fae62" stroke-width="1.0" stroke-linejoin="round" fill-opacity="0.85"/>
<path d="M150.80,172.50 C151.17,171.42 152.30,170.08 153.00,166.00 C153.70,161.92 154.37,154.33 155.00,148.00 C155.63,141.67 156.27,132.72 156.80,128.00 C157.33,123.28 157.75,120.70 158.20,119.70 C158.65,118.70 159.07,118.95 159.50,122.00 C159.93,125.05 160.38,132.33 160.80,138.00 C161.22,143.67 161.55,151.00 162.00,156.00 C162.45,161.00 163.00,165.25 163.50,168.00 C164.00,170.75 164.75,171.75 165.00,172.50" fill="none" stroke="#2a2a40" stroke-width="0.9" stroke-linejoin="round"/>
<path d="M151.50,172.50 C151.92,171.42 153.25,170.58 154.00,166.00 C154.75,161.42 155.37,152.00 156.00,145.00 C156.63,138.00 157.30,128.08 157.80,124.00 C158.30,119.92 158.55,119.83 159.00,120.50 C159.45,121.17 160.00,123.92 160.50,128.00 C161.00,132.08 161.50,139.67 162.00,145.00 C162.50,150.33 163.00,156.17 163.50,160.00 C164.00,163.83 164.50,165.92 165.00,168.00 C165.50,170.08 166.25,171.75 166.50,172.50" fill="none" stroke="#e2245a" stroke-width="0.9" stroke-linejoin="round"/>
<path d="M247.80,172.50 C248.17,171.25 249.33,169.08 250.00,165.00 C250.67,160.92 251.27,154.67 251.80,148.00 C252.33,141.33 252.83,129.87 253.20,125.00 C253.57,120.13 253.73,118.97 254.00,118.80 C254.27,118.63 254.55,119.63 254.80,124.00 C255.05,128.37 255.23,138.17 255.50,145.00 C255.77,151.83 256.12,160.42 256.40,165.00 C256.68,169.58 257.07,171.25 257.20,172.50 Z" fill="#7fdcaa" stroke="#1fae62" stroke-width="1.0" stroke-linejoin="round" fill-opacity="0.85"/>
<path d="M252.90,172.50 C253.25,170.75 254.35,167.42 255.00,162.00 C255.65,156.58 256.30,146.33 256.80,140.00 C257.30,133.67 257.63,127.30 258.00,124.00 C258.37,120.70 258.63,120.20 259.00,120.20 C259.37,120.20 259.78,120.37 260.20,124.00 C260.62,127.63 261.03,136.00 261.50,142.00 C261.97,148.00 262.42,154.92 263.00,160.00 C263.58,165.08 264.67,170.42 265.00,172.50" fill="none" stroke="#3b6fae" stroke-width="1.1" stroke-linejoin="round"/>
<path d="M254.70,172.50 C255.08,171.25 256.32,169.58 257.00,165.00 C257.68,160.42 258.22,151.67 258.80,145.00 C259.38,138.33 260.05,129.22 260.50,125.00 C260.95,120.78 261.15,119.87 261.50,119.70 C261.85,119.53 262.18,120.28 262.60,124.00 C263.02,127.72 263.57,136.00 264.00,142.00 C264.43,148.00 264.75,154.92 265.20,160.00 C265.65,165.08 266.45,170.42 266.70,172.50" fill="none" stroke="#e2245a" stroke-width="1.1" stroke-linejoin="round"/>
<path d="M342.60,172.50 C342.83,171.25 343.55,169.58 344.00,165.00 C344.45,160.42 344.93,150.83 345.30,145.00 C345.67,139.17 345.93,133.22 346.20,130.00 C346.47,126.78 346.67,125.70 346.90,125.70 C347.13,125.70 347.33,126.28 347.60,130.00 C347.87,133.72 348.22,142.17 348.50,148.00 C348.78,153.83 349.00,160.92 349.30,165.00 C349.60,169.08 350.13,171.25 350.30,172.50 Z" fill="#7fdcaa" stroke="#1fae62" stroke-width="1.0" stroke-linejoin="round" fill-opacity="0.85"/>
<path d="M347.80,172.50 C348.33,171.25 350.13,168.42 351.00,165.00 C351.87,161.58 352.38,155.68 353.00,152.00 C353.62,148.32 354.03,145.73 354.70,142.90 C355.37,140.07 356.23,137.65 357.00,135.00 C357.77,132.35 358.68,128.83 359.30,127.00 C359.92,125.17 360.25,123.83 360.70,124.00 C361.15,124.17 361.53,125.33 362.00,128.00 C362.47,130.67 363.00,136.33 363.50,140.00 C364.00,143.67 364.60,147.22 365.00,150.00 C365.40,152.78 365.47,152.95 365.90,156.70 C366.33,160.45 367.32,169.87 367.60,172.50" fill="none" stroke="#3b6fae" stroke-width="1.1" stroke-linejoin="round"/>
<path d="M351.20,172.50 C351.75,171.58 353.62,168.58 354.50,167.00 C355.38,165.42 355.90,164.72 356.50,163.00 C357.10,161.28 357.55,159.20 358.10,156.70 C358.65,154.20 359.28,150.87 359.80,148.00 C360.32,145.13 360.73,142.17 361.20,139.50 C361.67,136.83 362.17,133.58 362.60,132.00 C363.03,130.42 363.43,129.67 363.80,130.00 C364.17,130.33 364.45,130.98 364.80,134.00 C365.15,137.02 365.53,143.43 365.90,148.10 C366.27,152.77 366.58,157.93 367.00,162.00 C367.42,166.07 368.17,170.75 368.40,172.50" fill="none" stroke="#e2245a" stroke-width="1.1" stroke-linejoin="round"/>
<path d="M435.30,172.50 C435.52,170.42 436.18,166.25 436.60,160.00 C437.02,153.75 437.43,140.78 437.80,135.00 C438.17,129.22 438.47,125.30 438.80,125.30 C439.13,125.30 439.43,130.05 439.80,135.00 C440.17,139.95 440.55,150.33 441.00,155.00 C441.45,159.67 441.92,161.17 442.50,163.00 C443.08,164.83 443.83,165.17 444.50,166.00 C445.17,166.83 445.92,166.92 446.50,168.00 C447.08,169.08 447.75,171.75 448.00,172.50 Z" fill="#7fdcaa" stroke="#1fae62" stroke-width="1.0" stroke-linejoin="round" fill-opacity="0.85"/>
<path d="M435.30,172.50 C435.58,171.25 436.47,169.58 437.00,165.00 C437.53,160.42 438.00,150.68 438.50,145.00 C439.00,139.32 439.50,132.90 440.00,130.90 C440.50,128.90 440.93,128.98 441.50,133.00 C442.07,137.02 442.65,151.05 443.40,155.00 C444.15,158.95 445.13,157.27 446.00,156.70 C446.87,156.13 447.73,151.73 448.60,151.60 C449.47,151.47 450.47,156.48 451.20,155.90 C451.93,155.32 452.28,151.42 453.00,148.10 C453.72,144.78 454.80,138.45 455.50,136.00 C456.20,133.55 456.53,133.40 457.20,133.40 C457.87,133.40 458.77,136.72 459.50,136.00 C460.23,135.28 460.97,129.23 461.60,129.10 C462.23,128.97 462.58,132.60 463.30,135.20 C464.02,137.80 465.18,141.12 465.90,144.70 C466.62,148.28 467.08,152.82 467.60,156.70 C468.12,160.58 468.57,165.37 469.00,168.00 C469.43,170.63 470.00,171.75 470.20,172.50" fill="none" stroke="#3b6fae" stroke-width="1.1" stroke-linejoin="round"/>
<path d="M435.70,172.50 C436.17,171.75 437.63,169.62 438.50,168.00 C439.37,166.38 440.08,162.82 440.90,162.80 C441.72,162.78 442.25,166.90 443.40,167.90 C444.55,168.90 446.50,169.37 447.80,168.80 C449.10,168.23 450.17,166.47 451.20,164.50 C452.23,162.53 453.13,159.73 454.00,157.00 C454.87,154.27 455.65,150.77 456.40,148.10 C457.15,145.43 457.87,143.02 458.50,141.00 C459.13,138.98 459.70,137.67 460.20,136.00 C460.70,134.33 461.13,132.28 461.50,131.00 C461.87,129.72 462.05,128.13 462.40,128.30 C462.75,128.47 463.17,130.13 463.60,132.00 C464.03,133.87 464.33,135.95 465.00,139.50 C465.67,143.05 466.90,149.55 467.60,153.30 C468.30,157.05 468.77,159.72 469.20,162.00 C469.63,164.28 469.75,165.25 470.20,167.00 C470.65,168.75 471.62,171.58 471.90,172.50" fill="none" stroke="#e2245a" stroke-width="1.1" stroke-linejoin="round"/>
<line x1="42.10" y1="173.00" x2="42.10" y2="176.00" stroke="#111" stroke-width="1.0"/>
<line x1="46.16" y1="173.00" x2="46.16" y2="175.10" stroke="#111" stroke-width="1.0"/>
<line x1="48.53" y1="173.00" x2="48.53" y2="175.10" stroke="#111" stroke-width="1.0"/>
<line x1="50.21" y1="173.00" x2="50.21" y2="175.10" stroke="#111" stroke-width="1.0"/>
<line x1="51.52" y1="173.00" x2="51.52" y2="175.10" stroke="#111" stroke-width="1.0"/>
<line x1="52.59" y1="173.00" x2="52.59" y2="175.10" stroke="#111" stroke-width="1.0"/>
<line x1="53.49" y1="173.00" x2="53.49" y2="175.10" stroke="#111" stroke-width="1.0"/>
<line x1="54.27" y1="173.00" x2="54.27" y2="175.10" stroke="#111" stroke-width="1.0"/>
<line x1="54.96" y1="173.00" x2="54.96" y2="175.10" stroke="#111" stroke-width="1.0"/>
<line x1="55.58" y1="173.00" x2="55.58" y2="176.00" stroke="#111" stroke-width="1.0"/>
<line x1="59.63" y1="173.00" x2="59.63" y2="175.10" stroke="#111" stroke-width="1.0"/>
<line x1="62.00" y1="173.00" x2="62.00" y2="175.10" stroke="#111" stroke-width="1.0"/>
<line x1="63.69" y1="173.00" x2="63.69" y2="175.10" stroke="#111" stroke-width="1.0"/>
<line x1="64.99" y1="173.00" x2="64.99" y2="175.10" stroke="#111" stroke-width="1.0"/>
<line x1="66.06" y1="173.00" x2="66.06" y2="175.10" stroke="#111" stroke-width="1.0"/>
<line x1="66.96" y1="173.00" x2="66.96" y2="175.10" stroke="#111" stroke-width="1.0"/>
<line x1="67.74" y1="173.00" x2="67.74" y2="175.10" stroke="#111" stroke-width="1.0"/>
<line x1="68.43" y1="173.00" x2="68.43" y2="175.10" stroke="#111" stroke-width="1.0"/>
<line x1="69.05" y1="173.00" x2="69.05" y2="176.00" stroke="#111" stroke-width="1.0"/>
<line x1="73.11" y1="173.00" x2="73.11" y2="175.10" stroke="#111" stroke-width="1.0"/>
<line x1="75.48" y1="173.00" x2="75.48" y2="175.10" stroke="#111" stroke-width="1.0"/>
<line x1="77.16" y1="173.00" x2="77.16" y2="175.10" stroke="#111" stroke-width="1.0"/>
<line x1="78.47" y1="173.00" x2="78.47" y2="175.10" stroke="#111" stroke-width="1.0"/>
<line x1="79.54" y1="173.00" x2="79.54" y2="175.10" stroke="#111" stroke-width="1.0"/>
<line x1="80.44" y1="173.00" x2="80.44" y2="175.10" stroke="#111" stroke-width="1.0"/>
<line x1="81.22" y1="173.00" x2="81.22" y2="175.10" stroke="#111" stroke-width="1.0"/>
<line x1="81.91" y1="173.00" x2="81.91" y2="175.10" stroke="#111" stroke-width="1.0"/>
<line x1="82.53" y1="173.00" x2="82.53" y2="176.00" stroke="#111" stroke-width="1.0"/>
<line x1="86.58" y1="173.00" x2="86.58" y2="175.10" stroke="#111" stroke-width="1.0"/>
<line x1="88.95" y1="173.00" x2="88.95" y2="175.10" stroke="#111" stroke-width="1.0"/>
<line x1="90.64" y1="173.00" x2="90.64" y2="175.10" stroke="#111" stroke-width="1.0"/>
<line x1="91.94" y1="173.00" x2="91.94" y2="175.10" stroke="#111" stroke-width="1.0"/>
<line x1="93.01" y1="173.00" x2="93.01" y2="175.10" stroke="#111" stroke-width="1.0"/>
<line x1="93.91" y1="173.00" x2="93.91" y2="175.10" stroke="#111" stroke-width="1.0"/>
<line x1="94.69" y1="173.00" x2="94.69" y2="175.10" stroke="#111" stroke-width="1.0"/>
<line x1="95.38" y1="173.00" x2="95.38" y2="175.10" stroke="#111" stroke-width="1.0"/>
<line x1="135.10" y1="173.00" x2="135.10" y2="176.00" stroke="#111" stroke-width="1.0"/>
<line x1="139.19" y1="173.00" x2="139.19" y2="175.10" stroke="#111" stroke-width="1.0"/>
<line x1="141.59" y1="173.00" x2="141.59" y2="175.10" stroke="#111" stroke-width="1.0"/>
<line x1="143.29" y1="173.00" x2="143.29" y2="175.10" stroke="#111" stroke-width="1.0"/>
<line x1="144.61" y1="173.00" x2="144.61" y2="175.10" stroke="#111" stroke-width="1.0"/>
<line x1="145.68" y1="173.00" x2="145.68" y2="175.10" stroke="#111" stroke-width="1.0"/>
<line x1="146.59" y1="173.00" x2="146.59" y2="175.10" stroke="#111" stroke-width="1.0"/>
<line x1="147.38" y1="173.00" x2="147.38" y2="175.10" stroke="#111" stroke-width="1.0"/>
<line x1="148.08" y1="173.00" x2="148.08" y2="175.10" stroke="#111" stroke-width="1.0"/>
<line x1="148.70" y1="173.00" x2="148.70" y2="176.00" stroke="#111" stroke-width="1.0"/>
<line x1="152.79" y1="173.00" x2="152.79" y2="175.10" stroke="#111" stroke-width="1.0"/>
<line x1="155.19" y1="173.00" x2="155.19" y2="175.10" stroke="#111" stroke-width="1.0"/>
<line x1="156.89" y1="173.00" x2="156.89" y2="175.10" stroke="#111" stroke-width="1.0"/>
<line x1="158.21" y1="173.00" x2="158.21" y2="175.10" stroke="#111" stroke-width="1.0"/>
<line x1="159.28" y1="173.00" x2="159.28" y2="175.10" stroke="#111" stroke-width="1.0"/>
<line x1="160.19" y1="173.00" x2="160.19" y2="175.10" stroke="#111" stroke-width="1.0"/>
<line x1="160.98" y1="173.00" x2="160.98" y2="175.10" stroke="#111" stroke-width="1.0"/>
<line x1="161.68" y1="173.00" x2="161.68" y2="175.10" stroke="#111" stroke-width="1.0"/>
<line x1="162.30" y1="173.00" x2="162.30" y2="176.00" stroke="#111" stroke-width="1.0"/>
<line x1="166.39" y1="173.00" x2="166.39" y2="175.10" stroke="#111" stroke-width="1.0"/>
<line x1="168.79" y1="173.00" x2="168.79" y2="175.10" stroke="#111" stroke-width="1.0"/>
<line x1="170.49" y1="173.00" x2="170.49" y2="175.10" stroke="#111" stroke-width="1.0"/>
<line x1="171.81" y1="173.00" x2="171.81" y2="175.10" stroke="#111" stroke-width="1.0"/>
<line x1="172.88" y1="173.00" x2="172.88" y2="175.10" stroke="#111" stroke-width="1.0"/>
<line x1="173.79" y1="173.00" x2="173.79" y2="175.10" stroke="#111" stroke-width="1.0"/>
<line x1="174.58" y1="173.00" x2="174.58" y2="175.10" stroke="#111" stroke-width="1.0"/>
<line x1="175.28" y1="173.00" x2="175.28" y2="175.10" stroke="#111" stroke-width="1.0"/>
<line x1="175.90" y1="173.00" x2="175.90" y2="176.00" stroke="#111" stroke-width="1.0"/>
<line x1="179.99" y1="173.00" x2="179.99" y2="175.10" stroke="#111" stroke-width="1.0"/>
<line x1="182.39" y1="173.00" x2="182.39" y2="175.10" stroke="#111" stroke-width="1.0"/>
<line x1="184.09" y1="173.00" x2="184.09" y2="175.10" stroke="#111" stroke-width="1.0"/>
<line x1="185.41" y1="173.00" x2="185.41" y2="175.10" stroke="#111" stroke-width="1.0"/>
<line x1="186.48" y1="173.00" x2="186.48" y2="175.10" stroke="#111" stroke-width="1.0"/>
<line x1="187.39" y1="173.00" x2="187.39" y2="175.10" stroke="#111" stroke-width="1.0"/>
<line x1="188.18" y1="173.00" x2="188.18" y2="175.10" stroke="#111" stroke-width="1.0"/>
<line x1="188.88" y1="173.00" x2="188.88" y2="175.10" stroke="#111" stroke-width="1.0"/>
<line x1="231.60" y1="173.00" x2="231.60" y2="176.00" stroke="#111" stroke-width="1.0"/>
<line x1="235.66" y1="173.00" x2="235.66" y2="175.10" stroke="#111" stroke-width="1.0"/>
<line x1="238.04" y1="173.00" x2="238.04" y2="175.10" stroke="#111" stroke-width="1.0"/>
<line x1="239.73" y1="173.00" x2="239.73" y2="175.10" stroke="#111" stroke-width="1.0"/>
<line x1="241.04" y1="173.00" x2="241.04" y2="175.10" stroke="#111" stroke-width="1.0"/>
<line x1="242.11" y1="173.00" x2="242.11" y2="175.10" stroke="#111" stroke-width="1.0"/>
<line x1="243.01" y1="173.00" x2="243.01" y2="175.10" stroke="#111" stroke-width="1.0"/>
<line x1="243.79" y1="173.00" x2="243.79" y2="175.10" stroke="#111" stroke-width="1.0"/>
<line x1="244.48" y1="173.00" x2="244.48" y2="175.10" stroke="#111" stroke-width="1.0"/>
<line x1="245.10" y1="173.00" x2="245.10" y2="176.00" stroke="#111" stroke-width="1.0"/>
<line x1="249.16" y1="173.00" x2="249.16" y2="175.10" stroke="#111" stroke-width="1.0"/>
<line x1="251.54" y1="173.00" x2="251.54" y2="175.10" stroke="#111" stroke-width="1.0"/>
<line x1="253.23" y1="173.00" x2="253.23" y2="175.10" stroke="#111" stroke-width="1.0"/>
<line x1="254.54" y1="173.00" x2="254.54" y2="175.10" stroke="#111" stroke-width="1.0"/>
<line x1="255.61" y1="173.00" x2="255.61" y2="175.10" stroke="#111" stroke-width="1.0"/>
<line x1="256.51" y1="173.00" x2="256.51" y2="175.10" stroke="#111" stroke-width="1.0"/>
<line x1="257.29" y1="173.00" x2="257.29" y2="175.10" stroke="#111" stroke-width="1.0"/>
<line x1="257.98" y1="173.00" x2="257.98" y2="175.10" stroke="#111" stroke-width="1.0"/>
<line x1="258.60" y1="173.00" x2="258.60" y2="176.00" stroke="#111" stroke-width="1.0"/>
<line x1="262.66" y1="173.00" x2="262.66" y2="175.10" stroke="#111" stroke-width="1.0"/>
<line x1="265.04" y1="173.00" x2="265.04" y2="175.10" stroke="#111" stroke-width="1.0"/>
<line x1="266.73" y1="173.00" x2="266.73" y2="175.10" stroke="#111" stroke-width="1.0"/>
<line x1="268.04" y1="173.00" x2="268.04" y2="175.10" stroke="#111" stroke-width="1.0"/>
<line x1="269.11" y1="173.00" x2="269.11" y2="175.10" stroke="#111" stroke-width="1.0"/>
<line x1="270.01" y1="173.00" x2="270.01" y2="175.10" stroke="#111" stroke-width="1.0"/>
<line x1="270.79" y1="173.00" x2="270.79" y2="175.10" stroke="#111" stroke-width="1.0"/>
<line x1="271.48" y1="173.00" x2="271.48" y2="175.10" stroke="#111" stroke-width="1.0"/>
<line x1="272.10" y1="173.00" x2="272.10" y2="176.00" stroke="#111" stroke-width="1.0"/>
<line x1="276.16" y1="173.00" x2="276.16" y2="175.10" stroke="#111" stroke-width="1.0"/>
<line x1="278.54" y1="173.00" x2="278.54" y2="175.10" stroke="#111" stroke-width="1.0"/>
<line x1="280.23" y1="173.00" x2="280.23" y2="175.10" stroke="#111" stroke-width="1.0"/>
<line x1="281.54" y1="173.00" x2="281.54" y2="175.10" stroke="#111" stroke-width="1.0"/>
<line x1="282.61" y1="173.00" x2="282.61" y2="175.10" stroke="#111" stroke-width="1.0"/>
<line x1="283.51" y1="173.00" x2="283.51" y2="175.10" stroke="#111" stroke-width="1.0"/>
<line x1="284.29" y1="173.00" x2="284.29" y2="175.10" stroke="#111" stroke-width="1.0"/>
<line x1="284.98" y1="173.00" x2="284.98" y2="175.10" stroke="#111" stroke-width="1.0"/>
<line x1="328.60" y1="173.00" x2="328.60" y2="176.00" stroke="#111" stroke-width="1.0"/>
<line x1="332.68" y1="173.00" x2="332.68" y2="175.10" stroke="#111" stroke-width="1.0"/>
<line x1="335.06" y1="173.00" x2="335.06" y2="175.10" stroke="#111" stroke-width="1.0"/>
<line x1="336.76" y1="173.00" x2="336.76" y2="175.10" stroke="#111" stroke-width="1.0"/>
<line x1="338.07" y1="173.00" x2="338.07" y2="175.10" stroke="#111" stroke-width="1.0"/>
<line x1="339.14" y1="173.00" x2="339.14" y2="175.10" stroke="#111" stroke-width="1.0"/>
<line x1="340.05" y1="173.00" x2="340.05" y2="175.10" stroke="#111" stroke-width="1.0"/>
<line x1="340.84" y1="173.00" x2="340.84" y2="175.10" stroke="#111" stroke-width="1.0"/>
<line x1="341.53" y1="173.00" x2="341.53" y2="175.10" stroke="#111" stroke-width="1.0"/>
<line x1="342.15" y1="173.00" x2="342.15" y2="176.00" stroke="#111" stroke-width="1.0"/>
<line x1="346.23" y1="173.00" x2="346.23" y2="175.10" stroke="#111" stroke-width="1.0"/>
<line x1="348.61" y1="173.00" x2="348.61" y2="175.10" stroke="#111" stroke-width="1.0"/>
<line x1="350.31" y1="173.00" x2="350.31" y2="175.10" stroke="#111" stroke-width="1.0"/>
<line x1="351.62" y1="173.00" x2="351.62" y2="175.10" stroke="#111" stroke-width="1.0"/>
<line x1="352.69" y1="173.00" x2="352.69" y2="175.10" stroke="#111" stroke-width="1.0"/>
<line x1="353.60" y1="173.00" x2="353.60" y2="175.10" stroke="#111" stroke-width="1.0"/>
<line x1="354.39" y1="173.00" x2="354.39" y2="175.10" stroke="#111" stroke-width="1.0"/>
<line x1="355.08" y1="173.00" x2="355.08" y2="175.10" stroke="#111" stroke-width="1.0"/>
<line x1="355.70" y1="173.00" x2="355.70" y2="176.00" stroke="#111" stroke-width="1.0"/>
<line x1="359.78" y1="173.00" x2="359.78" y2="175.10" stroke="#111" stroke-width="1.0"/>
<line x1="362.16" y1="173.00" x2="362.16" y2="175.10" stroke="#111" stroke-width="1.0"/>
<line x1="363.86" y1="173.00" x2="363.86" y2="175.10" stroke="#111" stroke-width="1.0"/>
<line x1="365.17" y1="173.00" x2="365.17" y2="175.10" stroke="#111" stroke-width="1.0"/>
<line x1="366.24" y1="173.00" x2="366.24" y2="175.10" stroke="#111" stroke-width="1.0"/>
<line x1="367.15" y1="173.00" x2="367.15" y2="175.10" stroke="#111" stroke-width="1.0"/>
<line x1="367.94" y1="173.00" x2="367.94" y2="175.10" stroke="#111" stroke-width="1.0"/>
<line x1="368.63" y1="173.00" x2="368.63" y2="175.10" stroke="#111" stroke-width="1.0"/>
<line x1="369.25" y1="173.00" x2="369.25" y2="176.00" stroke="#111" stroke-width="1.0"/>
<line x1="373.33" y1="173.00" x2="373.33" y2="175.10" stroke="#111" stroke-width="1.0"/>
<line x1="375.71" y1="173.00" x2="375.71" y2="175.10" stroke="#111" stroke-width="1.0"/>
<line x1="377.41" y1="173.00" x2="377.41" y2="175.10" stroke="#111" stroke-width="1.0"/>
<line x1="378.72" y1="173.00" x2="378.72" y2="175.10" stroke="#111" stroke-width="1.0"/>
<line x1="379.79" y1="173.00" x2="379.79" y2="175.10" stroke="#111" stroke-width="1.0"/>
<line x1="380.70" y1="173.00" x2="380.70" y2="175.10" stroke="#111" stroke-width="1.0"/>
<line x1="381.49" y1="173.00" x2="381.49" y2="175.10" stroke="#111" stroke-width="1.0"/>
<line x1="382.18" y1="173.00" x2="382.18" y2="175.10" stroke="#111" stroke-width="1.0"/>
<line x1="426.50" y1="173.00" x2="426.50" y2="176.00" stroke="#111" stroke-width="1.0"/>
<line x1="430.55" y1="173.00" x2="430.55" y2="175.10" stroke="#111" stroke-width="1.0"/>
<line x1="432.92" y1="173.00" x2="432.92" y2="175.10" stroke="#111" stroke-width="1.0"/>
<line x1="434.60" y1="173.00" x2="434.60" y2="175.10" stroke="#111" stroke-width="1.0"/>
<line x1="435.90" y1="173.00" x2="435.90" y2="175.10" stroke="#111" stroke-width="1.0"/>
<line x1="436.97" y1="173.00" x2="436.97" y2="175.10" stroke="#111" stroke-width="1.0"/>
<line x1="437.87" y1="173.00" x2="437.87" y2="175.10" stroke="#111" stroke-width="1.0"/>
<line x1="438.65" y1="173.00" x2="438.65" y2="175.10" stroke="#111" stroke-width="1.0"/>
<line x1="439.33" y1="173.00" x2="439.33" y2="175.10" stroke="#111" stroke-width="1.0"/>
<line x1="439.95" y1="173.00" x2="439.95" y2="176.00" stroke="#111" stroke-width="1.0"/>
<line x1="444.00" y1="173.00" x2="444.00" y2="175.10" stroke="#111" stroke-width="1.0"/>
<line x1="446.37" y1="173.00" x2="446.37" y2="175.10" stroke="#111" stroke-width="1.0"/>
<line x1="448.05" y1="173.00" x2="448.05" y2="175.10" stroke="#111" stroke-width="1.0"/>
<line x1="449.35" y1="173.00" x2="449.35" y2="175.10" stroke="#111" stroke-width="1.0"/>
<line x1="450.42" y1="173.00" x2="450.42" y2="175.10" stroke="#111" stroke-width="1.0"/>
<line x1="451.32" y1="173.00" x2="451.32" y2="175.10" stroke="#111" stroke-width="1.0"/>
<line x1="452.10" y1="173.00" x2="452.10" y2="175.10" stroke="#111" stroke-width="1.0"/>
<line x1="452.78" y1="173.00" x2="452.78" y2="175.10" stroke="#111" stroke-width="1.0"/>
<line x1="453.40" y1="173.00" x2="453.40" y2="176.00" stroke="#111" stroke-width="1.0"/>
<line x1="457.45" y1="173.00" x2="457.45" y2="175.10" stroke="#111" stroke-width="1.0"/>
<line x1="459.82" y1="173.00" x2="459.82" y2="175.10" stroke="#111" stroke-width="1.0"/>
<line x1="461.50" y1="173.00" x2="461.50" y2="175.10" stroke="#111" stroke-width="1.0"/>
<line x1="462.80" y1="173.00" x2="462.80" y2="175.10" stroke="#111" stroke-width="1.0"/>
<line x1="463.87" y1="173.00" x2="463.87" y2="175.10" stroke="#111" stroke-width="1.0"/>
<line x1="464.77" y1="173.00" x2="464.77" y2="175.10" stroke="#111" stroke-width="1.0"/>
<line x1="465.55" y1="173.00" x2="465.55" y2="175.10" stroke="#111" stroke-width="1.0"/>
<line x1="466.23" y1="173.00" x2="466.23" y2="175.10" stroke="#111" stroke-width="1.0"/>
<line x1="466.85" y1="173.00" x2="466.85" y2="176.00" stroke="#111" stroke-width="1.0"/>
<line x1="470.90" y1="173.00" x2="470.90" y2="175.10" stroke="#111" stroke-width="1.0"/>
<line x1="473.27" y1="173.00" x2="473.27" y2="175.10" stroke="#111" stroke-width="1.0"/>
<line x1="474.95" y1="173.00" x2="474.95" y2="175.10" stroke="#111" stroke-width="1.0"/>
<line x1="476.25" y1="173.00" x2="476.25" y2="175.10" stroke="#111" stroke-width="1.0"/>
<line x1="477.32" y1="173.00" x2="477.32" y2="175.10" stroke="#111" stroke-width="1.0"/>
<line x1="478.22" y1="173.00" x2="478.22" y2="175.10" stroke="#111" stroke-width="1.0"/>
<line x1="479.00" y1="173.00" x2="479.00" y2="175.10" stroke="#111" stroke-width="1.0"/>
<line x1="479.68" y1="173.00" x2="479.68" y2="175.10" stroke="#111" stroke-width="1.0"/>
<text x="38.10" y="186.40" font-size="7.4" fill="#222" stroke="#222" stroke-width="0.22" textLength="19.8" lengthAdjust="spacingAndGlyphs">CD25</text>
<line x1="60.80" y1="184.00" x2="94.60" y2="184.00" stroke="#231f20" stroke-width="1.2"/>
<path d="M97.90,184.00 L94.10,182.10 L94.10,185.90 Z" fill="#231f20"/>
<text x="132.20" y="186.40" font-size="7.4" fill="#222" stroke="#222" stroke-width="0.22" textLength="24.8" lengthAdjust="spacingAndGlyphs">CD122</text>
<line x1="159.30" y1="184.00" x2="188.70" y2="184.00" stroke="#231f20" stroke-width="1.2"/>
<path d="M192.00,184.00 L188.20,182.10 L188.20,185.90 Z" fill="#231f20"/>
<text x="228.00" y="186.40" font-size="7.4" fill="#222" stroke="#222" stroke-width="0.22" textLength="24.5" lengthAdjust="spacingAndGlyphs">CD132</text>
<line x1="254.00" y1="184.00" x2="284.50" y2="184.00" stroke="#231f20" stroke-width="1.2"/>
<path d="M287.80,184.00 L284.00,182.10 L284.00,185.90 Z" fill="#231f20"/>
<text x="325.90" y="186.40" font-size="7.4" fill="#222" stroke="#222" stroke-width="0.22" textLength="47.1" lengthAdjust="spacingAndGlyphs">STAT3 pY705</text>
<line x1="374.90" y1="184.00" x2="383.70" y2="184.00" stroke="#231f20" stroke-width="1.2"/>
<path d="M387.00,184.00 L383.20,182.10 L383.20,185.90 Z" fill="#231f20"/>
<text x="422.00" y="186.40" font-size="7.4" fill="#222" stroke="#222" stroke-width="0.22" textLength="47.7" lengthAdjust="spacingAndGlyphs">STAT5 pY694</text>
<line x1="471.00" y1="184.00" x2="480.10" y2="184.00" stroke="#231f20" stroke-width="1.2"/>
<path d="M483.40,184.00 L479.60,182.10 L479.60,185.90 Z" fill="#231f20"/>
<rect x="485.10" y="132.30" width="4.00" height="3.80" fill="#e2245a"/>
<text x="492.80" y="136.60" font-size="7.2" fill="#222" stroke="#222" stroke-width="0.22" textLength="9.6" lengthAdjust="spacingAndGlyphs">N1</text>
<rect x="485.10" y="142.00" width="4.00" height="3.80" fill="#1c5f7c"/>
<text x="492.80" y="146.30" font-size="7.2" fill="#222" stroke="#222" stroke-width="0.22" textLength="27.5" lengthAdjust="spacingAndGlyphs">Control</text>
<rect x="485.10" y="151.70" width="4.00" height="3.80" fill="#27a25c"/>
<text x="492.80" y="156.00" font-size="7.2" fill="#222" stroke="#222" stroke-width="0.22" textLength="25.8" lengthAdjust="spacingAndGlyphs">Isotype</text>
<line x1="40.00" y1="203.20" x2="40.00" y2="261.60" stroke="#111" stroke-width="1"/>
<line x1="37.20" y1="207.40" x2="40.00" y2="207.40" stroke="#111" stroke-width="0.9"/>
<text x="33.80" y="210.00" font-size="7.3" text-anchor="end" fill="#231f20" stroke="#231f20" stroke-width="0.22">1000</text>
<line x1="37.20" y1="216.30" x2="40.00" y2="216.30" stroke="#111" stroke-width="0.9"/>
<text x="33.80" y="218.90" font-size="7.3" text-anchor="end" fill="#231f20" stroke="#231f20" stroke-width="0.22">800</text>
<line x1="37.20" y1="225.30" x2="40.00" y2="225.30" stroke="#111" stroke-width="0.9"/>
<text x="33.80" y="227.90" font-size="7.3" text-anchor="end" fill="#231f20" stroke="#231f20" stroke-width="0.22">600</text>
<line x1="37.20" y1="234.20" x2="40.00" y2="234.20" stroke="#111" stroke-width="0.9"/>
<text x="33.80" y="236.80" font-size="7.3" text-anchor="end" fill="#231f20" stroke="#231f20" stroke-width="0.22">400</text>
<line x1="37.20" y1="243.30" x2="40.00" y2="243.30" stroke="#111" stroke-width="0.9"/>
<text x="33.80" y="245.90" font-size="7.3" text-anchor="end" fill="#231f20" stroke="#231f20" stroke-width="0.22">200</text>
<line x1="37.20" y1="252.30" x2="40.00" y2="252.30" stroke="#111" stroke-width="0.9"/>
<text x="33.80" y="254.90" font-size="7.3" text-anchor="end" fill="#231f20" stroke="#231f20" stroke-width="0.22">0</text>
<line x1="37.20" y1="261.20" x2="40.00" y2="261.20" stroke="#111" stroke-width="0.9"/>
<text x="33.80" y="263.80" font-size="7.3" text-anchor="end" fill="#231f20" stroke="#231f20" stroke-width="0.22">−200</text>
<line x1="40.00" y1="261.10" x2="87.50" y2="261.10" stroke="#111" stroke-width="1"/>
<line x1="51.40" y1="261.10" x2="51.40" y2="263.90" stroke="#111" stroke-width="0.9"/>
<line x1="76.60" y1="261.10" x2="76.60" y2="263.90" stroke="#111" stroke-width="0.9"/>
<line x1="40.00" y1="252.30" x2="87.50" y2="252.30" stroke="#333" stroke-width="0.6" stroke-dasharray="1.2,1"/>
<text x="14.30" y="235.40" font-size="9.0" text-anchor="middle" fill="#222" stroke="#222" stroke-width="0.22" textLength="38.8" lengthAdjust="spacingAndGlyphs" transform="rotate(-90 14.30 235.40)">CD25 ΔMFI</text>
<line x1="46.10" y1="212.30" x2="56.20" y2="237.50" stroke="#111" stroke-width="0.95"/>
<line x1="46.10" y1="217.10" x2="56.20" y2="238.40" stroke="#111" stroke-width="0.95"/>
<line x1="46.10" y1="224.90" x2="56.20" y2="244.70" stroke="#111" stroke-width="0.95"/>
<line x1="46.10" y1="229.70" x2="56.20" y2="245.60" stroke="#111" stroke-width="0.95"/>
<line x1="46.10" y1="233.60" x2="56.20" y2="244.00" stroke="#111" stroke-width="0.95"/>
<circle cx="46.10" cy="212.30" r="2.0" fill="#d6174a"/>
<circle cx="46.10" cy="217.10" r="2.0" fill="#d6174a"/>
<circle cx="46.10" cy="224.90" r="2.0" fill="#d6174a"/>
<circle cx="46.10" cy="229.70" r="2.0" fill="#d6174a"/>
<circle cx="46.10" cy="233.60" r="2.0" fill="#d6174a"/>
<circle cx="56.20" cy="237.50" r="2.0" fill="#186c86"/>
<circle cx="56.20" cy="238.40" r="2.0" fill="#186c86"/>
<circle cx="56.20" cy="244.70" r="2.0" fill="#186c86"/>
<circle cx="56.20" cy="245.60" r="2.0" fill="#186c86"/>
<circle cx="56.20" cy="244.00" r="2.0" fill="#186c86"/>
<line x1="71.70" y1="252.40" x2="81.40" y2="252.40" stroke="#111" stroke-width="0.95"/>
<line x1="71.70" y1="252.40" x2="81.40" y2="252.40" stroke="#111" stroke-width="0.95"/>
<circle cx="71.70" cy="252.40" r="2.0" fill="#d6174a"/>
<circle cx="71.70" cy="252.40" r="2.0" fill="#d6174a"/>
<circle cx="81.40" cy="252.40" r="2.0" fill="#186c86"/>
<circle cx="81.40" cy="252.40" r="2.0" fill="#186c86"/>
<line x1="46.10" y1="205.20" x2="56.20" y2="205.20" stroke="#111" stroke-width="0.8"/>
<line x1="46.10" y1="204.80" x2="46.10" y2="207.20" stroke="#111" stroke-width="0.8"/>
<line x1="56.20" y1="204.80" x2="56.20" y2="207.20" stroke="#111" stroke-width="0.8"/>
<text x="51.15" y="204.70" font-size="7.0" text-anchor="middle" fill="#231f20" stroke="#231f20" stroke-width="0.22">**</text>
<line x1="71.70" y1="205.20" x2="81.40" y2="205.20" stroke="#111" stroke-width="0.8"/>
<line x1="71.70" y1="204.80" x2="71.70" y2="207.20" stroke="#111" stroke-width="0.8"/>
<line x1="81.40" y1="204.80" x2="81.40" y2="207.20" stroke="#111" stroke-width="0.8"/>
<text x="76.55" y="202.30" font-size="6.8" text-anchor="middle" fill="#231f20" stroke="#231f20" stroke-width="0.22">n.s.</text>
<text x="48.70" y="273.30" font-size="7.4" text-anchor="middle" fill="#231f20" stroke="#231f20" stroke-width="0.22" textLength="17.3" lengthAdjust="spacingAndGlyphs">K562</text>
<text x="48.20" y="282.40" font-size="7.4" text-anchor="middle" fill="#231f20" stroke="#231f20" stroke-width="0.22" textLength="23.4" lengthAdjust="spacingAndGlyphs">CD19+</text>
<text x="79.50" y="273.30" font-size="7.4" text-anchor="middle" fill="#231f20" stroke="#231f20" stroke-width="0.22" textLength="17.3" lengthAdjust="spacingAndGlyphs">K562</text>
<text x="79.50" y="282.40" font-size="7.4" text-anchor="middle" fill="#231f20" stroke="#231f20" stroke-width="0.22" textLength="25.8" lengthAdjust="spacingAndGlyphs">BCMA+</text>
<line x1="133.10" y1="203.20" x2="133.10" y2="261.60" stroke="#111" stroke-width="1"/>
<line x1="130.30" y1="207.40" x2="133.10" y2="207.40" stroke="#111" stroke-width="0.9"/>
<text x="126.90" y="210.00" font-size="7.3" text-anchor="end" fill="#231f20" stroke="#231f20" stroke-width="0.22">1500</text>
<line x1="130.30" y1="225.50" x2="133.10" y2="225.50" stroke="#111" stroke-width="0.9"/>
<text x="126.90" y="228.10" font-size="7.3" text-anchor="end" fill="#231f20" stroke="#231f20" stroke-width="0.22">1000</text>
<line x1="130.30" y1="243.30" x2="133.10" y2="243.30" stroke="#111" stroke-width="0.9"/>
<text x="126.90" y="245.90" font-size="7.3" text-anchor="end" fill="#231f20" stroke="#231f20" stroke-width="0.22">500</text>
<line x1="130.30" y1="261.10" x2="133.10" y2="261.10" stroke="#111" stroke-width="0.9"/>
<text x="126.90" y="263.70" font-size="7.3" text-anchor="end" fill="#231f20" stroke="#231f20" stroke-width="0.22">0</text>
<line x1="133.10" y1="261.10" x2="180.00" y2="261.10" stroke="#111" stroke-width="1"/>
<line x1="143.80" y1="261.10" x2="143.80" y2="263.90" stroke="#111" stroke-width="0.9"/>
<line x1="169.60" y1="261.10" x2="169.60" y2="263.90" stroke="#111" stroke-width="0.9"/>
<text x="105.70" y="233.60" font-size="9.0" text-anchor="middle" fill="#222" stroke="#222" stroke-width="0.22" textLength="37.8" lengthAdjust="spacingAndGlyphs" transform="rotate(-90 105.70 233.60)">CD122 MFI</text>
<line x1="139.60" y1="221.00" x2="149.30" y2="229.70" stroke="#111" stroke-width="0.95"/>
<line x1="139.60" y1="224.50" x2="149.30" y2="232.60" stroke="#111" stroke-width="0.95"/>
<line x1="139.60" y1="226.80" x2="149.30" y2="235.00" stroke="#111" stroke-width="0.95"/>
<line x1="139.60" y1="230.70" x2="149.30" y2="236.50" stroke="#111" stroke-width="0.95"/>
<circle cx="139.60" cy="221.00" r="2.0" fill="#d6174a"/>
<circle cx="139.60" cy="224.50" r="2.0" fill="#d6174a"/>
<circle cx="139.60" cy="226.80" r="2.0" fill="#d6174a"/>
<circle cx="139.60" cy="230.70" r="2.0" fill="#d6174a"/>
<circle cx="149.30" cy="229.70" r="2.0" fill="#186c86"/>
<circle cx="149.30" cy="232.60" r="2.0" fill="#186c86"/>
<circle cx="149.30" cy="235.00" r="2.0" fill="#186c86"/>
<circle cx="149.30" cy="236.50" r="2.0" fill="#186c86"/>
<line x1="164.80" y1="246.50" x2="174.50" y2="247.00" stroke="#111" stroke-width="0.95"/>
<line x1="164.80" y1="248.00" x2="174.50" y2="248.00" stroke="#111" stroke-width="0.95"/>
<line x1="164.80" y1="249.50" x2="174.50" y2="249.00" stroke="#111" stroke-width="0.95"/>
<circle cx="164.80" cy="246.50" r="2.0" fill="#d6174a"/>
<circle cx="164.80" cy="248.00" r="2.0" fill="#d6174a"/>
<circle cx="164.80" cy="249.50" r="2.0" fill="#d6174a"/>
<circle cx="174.50" cy="247.00" r="2.0" fill="#186c86"/>
<circle cx="174.50" cy="248.00" r="2.0" fill="#186c86"/>
<circle cx="174.50" cy="249.00" r="2.0" fill="#186c86"/>
<line x1="139.60" y1="205.20" x2="149.30" y2="205.20" stroke="#111" stroke-width="0.8"/>
<line x1="139.60" y1="204.80" x2="139.60" y2="207.20" stroke="#111" stroke-width="0.8"/>
<line x1="149.30" y1="204.80" x2="149.30" y2="207.20" stroke="#111" stroke-width="0.8"/>
<text x="144.45" y="204.70" font-size="7.0" text-anchor="middle" fill="#231f20" stroke="#231f20" stroke-width="0.22">**</text>
<line x1="164.80" y1="205.20" x2="174.50" y2="205.20" stroke="#111" stroke-width="0.8"/>
<line x1="164.80" y1="204.80" x2="164.80" y2="207.20" stroke="#111" stroke-width="0.8"/>
<line x1="174.50" y1="204.80" x2="174.50" y2="207.20" stroke="#111" stroke-width="0.8"/>
<text x="169.65" y="202.30" font-size="6.8" text-anchor="middle" fill="#231f20" stroke="#231f20" stroke-width="0.22">n.s.</text>
<text x="143.00" y="273.30" font-size="7.4" text-anchor="middle" fill="#231f20" stroke="#231f20" stroke-width="0.22" textLength="17.3" lengthAdjust="spacingAndGlyphs">K562</text>
<text x="142.50" y="282.40" font-size="7.4" text-anchor="middle" fill="#231f20" stroke="#231f20" stroke-width="0.22" textLength="23.4" lengthAdjust="spacingAndGlyphs">CD19+</text>
<text x="174.00" y="273.30" font-size="7.4" text-anchor="middle" fill="#231f20" stroke="#231f20" stroke-width="0.22" textLength="17.3" lengthAdjust="spacingAndGlyphs">K562</text>
<text x="173.90" y="282.40" font-size="7.4" text-anchor="middle" fill="#231f20" stroke="#231f20" stroke-width="0.22" textLength="25.8" lengthAdjust="spacingAndGlyphs">BCMA+</text>
<line x1="229.50" y1="203.20" x2="229.50" y2="261.60" stroke="#111" stroke-width="1"/>
<line x1="226.70" y1="207.40" x2="229.50" y2="207.40" stroke="#111" stroke-width="0.9"/>
<text x="223.30" y="210.00" font-size="7.3" text-anchor="end" fill="#231f20" stroke="#231f20" stroke-width="0.22">1000</text>
<line x1="226.70" y1="218.10" x2="229.50" y2="218.10" stroke="#111" stroke-width="0.9"/>
<text x="223.30" y="220.70" font-size="7.3" text-anchor="end" fill="#231f20" stroke="#231f20" stroke-width="0.22">800</text>
<line x1="226.70" y1="228.80" x2="229.50" y2="228.80" stroke="#111" stroke-width="0.9"/>
<text x="223.30" y="231.40" font-size="7.3" text-anchor="end" fill="#231f20" stroke="#231f20" stroke-width="0.22">600</text>
<line x1="226.70" y1="239.40" x2="229.50" y2="239.40" stroke="#111" stroke-width="0.9"/>
<text x="223.30" y="242.00" font-size="7.3" text-anchor="end" fill="#231f20" stroke="#231f20" stroke-width="0.22">400</text>
<line x1="226.70" y1="250.50" x2="229.50" y2="250.50" stroke="#111" stroke-width="0.9"/>
<text x="223.30" y="253.10" font-size="7.3" text-anchor="end" fill="#231f20" stroke="#231f20" stroke-width="0.22">200</text>
<line x1="226.70" y1="261.10" x2="229.50" y2="261.10" stroke="#111" stroke-width="0.9"/>
<text x="223.30" y="263.70" font-size="7.3" text-anchor="end" fill="#231f20" stroke="#231f20" stroke-width="0.22">0</text>
<line x1="229.50" y1="261.10" x2="274.30" y2="261.10" stroke="#111" stroke-width="1"/>
<line x1="240.80" y1="261.10" x2="240.80" y2="263.90" stroke="#111" stroke-width="0.9"/>
<line x1="266.50" y1="261.10" x2="266.50" y2="263.90" stroke="#111" stroke-width="0.9"/>
<text x="203.20" y="233.60" font-size="9.0" text-anchor="middle" fill="#222" stroke="#222" stroke-width="0.22" textLength="43.4" lengthAdjust="spacingAndGlyphs" transform="rotate(-90 203.20 233.60)">CD132 ΔMFI</text>
<line x1="235.90" y1="214.80" x2="245.60" y2="221.00" stroke="#111" stroke-width="0.95"/>
<line x1="235.90" y1="218.70" x2="245.60" y2="223.30" stroke="#111" stroke-width="0.95"/>
<line x1="235.90" y1="223.00" x2="245.60" y2="231.00" stroke="#111" stroke-width="0.95"/>
<line x1="235.90" y1="229.70" x2="245.60" y2="233.00" stroke="#111" stroke-width="0.95"/>
<circle cx="235.90" cy="214.80" r="2.0" fill="#d6174a"/>
<circle cx="235.90" cy="218.70" r="2.0" fill="#d6174a"/>
<circle cx="235.90" cy="223.00" r="2.0" fill="#d6174a"/>
<circle cx="235.90" cy="229.70" r="2.0" fill="#d6174a"/>
<circle cx="245.60" cy="221.00" r="2.0" fill="#186c86"/>
<circle cx="245.60" cy="223.30" r="2.0" fill="#186c86"/>
<circle cx="245.60" cy="231.00" r="2.0" fill="#186c86"/>
<circle cx="245.60" cy="233.00" r="2.0" fill="#186c86"/>
<line x1="261.30" y1="255.00" x2="270.40" y2="255.50" stroke="#111" stroke-width="0.95"/>
<line x1="261.30" y1="255.30" x2="270.40" y2="256.30" stroke="#111" stroke-width="0.95"/>
<circle cx="261.30" cy="255.00" r="2.0" fill="#d6174a"/>
<circle cx="261.30" cy="255.30" r="2.0" fill="#d6174a"/>
<circle cx="270.40" cy="255.50" r="2.0" fill="#186c86"/>
<circle cx="270.40" cy="256.30" r="2.0" fill="#186c86"/>
<line x1="235.90" y1="205.20" x2="245.60" y2="205.20" stroke="#111" stroke-width="0.8"/>
<line x1="235.90" y1="204.80" x2="235.90" y2="207.20" stroke="#111" stroke-width="0.8"/>
<line x1="245.60" y1="204.80" x2="245.60" y2="207.20" stroke="#111" stroke-width="0.8"/>
<text x="240.75" y="204.70" font-size="7.0" text-anchor="middle" fill="#231f20" stroke="#231f20" stroke-width="0.22">*</text>
<line x1="261.30" y1="205.20" x2="270.40" y2="205.20" stroke="#111" stroke-width="0.8"/>
<line x1="261.30" y1="204.80" x2="261.30" y2="207.20" stroke="#111" stroke-width="0.8"/>
<line x1="270.40" y1="204.80" x2="270.40" y2="207.20" stroke="#111" stroke-width="0.8"/>
<text x="265.85" y="204.70" font-size="7.0" text-anchor="middle" fill="#231f20" stroke="#231f20" stroke-width="0.22">*</text>
<text x="238.00" y="273.30" font-size="7.4" text-anchor="middle" fill="#231f20" stroke="#231f20" stroke-width="0.22" textLength="17.3" lengthAdjust="spacingAndGlyphs">K562</text>
<text x="237.50" y="282.40" font-size="7.4" text-anchor="middle" fill="#231f20" stroke="#231f20" stroke-width="0.22" textLength="23.4" lengthAdjust="spacingAndGlyphs">CD19+</text>
<text x="269.30" y="273.30" font-size="7.4" text-anchor="middle" fill="#231f20" stroke="#231f20" stroke-width="0.22" textLength="17.3" lengthAdjust="spacingAndGlyphs">K562</text>
<text x="268.50" y="282.40" font-size="7.4" text-anchor="middle" fill="#231f20" stroke="#231f20" stroke-width="0.22" textLength="25.8" lengthAdjust="spacingAndGlyphs">BCMA+</text>
<line x1="326.50" y1="203.20" x2="326.50" y2="261.60" stroke="#111" stroke-width="1"/>
<line x1="323.70" y1="207.40" x2="326.50" y2="207.40" stroke="#111" stroke-width="0.9"/>
<text x="320.30" y="210.00" font-size="7.3" text-anchor="end" fill="#231f20" stroke="#231f20" stroke-width="0.22">4000</text>
<line x1="323.70" y1="220.60" x2="326.50" y2="220.60" stroke="#111" stroke-width="0.9"/>
<text x="320.30" y="223.20" font-size="7.3" text-anchor="end" fill="#231f20" stroke="#231f20" stroke-width="0.22">3000</text>
<line x1="323.70" y1="234.20" x2="326.50" y2="234.20" stroke="#111" stroke-width="0.9"/>
<text x="320.30" y="236.80" font-size="7.3" text-anchor="end" fill="#231f20" stroke="#231f20" stroke-width="0.22">2000</text>
<line x1="323.70" y1="247.80" x2="326.50" y2="247.80" stroke="#111" stroke-width="0.9"/>
<text x="320.30" y="250.40" font-size="7.3" text-anchor="end" fill="#231f20" stroke="#231f20" stroke-width="0.22">1000</text>
<line x1="323.70" y1="261.10" x2="326.50" y2="261.10" stroke="#111" stroke-width="0.9"/>
<text x="320.30" y="263.70" font-size="7.3" text-anchor="end" fill="#231f20" stroke="#231f20" stroke-width="0.22">0</text>
<line x1="326.50" y1="261.10" x2="374.30" y2="261.10" stroke="#111" stroke-width="1"/>
<line x1="337.50" y1="261.10" x2="337.50" y2="263.90" stroke="#111" stroke-width="0.9"/>
<line x1="363.30" y1="261.10" x2="363.30" y2="263.90" stroke="#111" stroke-width="0.9"/>
<text x="297.00" y="232.50" font-size="9.0" text-anchor="middle" fill="#222" stroke="#222" stroke-width="0.22" textLength="63.8" lengthAdjust="spacingAndGlyphs" transform="rotate(-90 297.00 232.50)">STAT3 pY705 ΔMFI</text>
<line x1="333.00" y1="217.50" x2="342.70" y2="244.80" stroke="#111" stroke-width="0.95"/>
<line x1="333.00" y1="226.40" x2="342.70" y2="246.20" stroke="#111" stroke-width="0.95"/>
<line x1="333.00" y1="230.70" x2="342.70" y2="248.10" stroke="#111" stroke-width="0.95"/>
<line x1="333.00" y1="235.50" x2="342.70" y2="251.60" stroke="#111" stroke-width="0.95"/>
<circle cx="333.00" cy="217.50" r="2.0" fill="#d6174a"/>
<circle cx="333.00" cy="226.40" r="2.0" fill="#d6174a"/>
<circle cx="333.00" cy="230.70" r="2.0" fill="#d6174a"/>
<circle cx="333.00" cy="235.50" r="2.0" fill="#d6174a"/>
<circle cx="342.70" cy="244.80" r="2.0" fill="#186c86"/>
<circle cx="342.70" cy="246.20" r="2.0" fill="#186c86"/>
<circle cx="342.70" cy="248.10" r="2.0" fill="#186c86"/>
<circle cx="342.70" cy="251.60" r="2.0" fill="#186c86"/>
<line x1="358.80" y1="257.50" x2="367.50" y2="257.20" stroke="#111" stroke-width="0.95"/>
<line x1="358.80" y1="258.20" x2="367.50" y2="257.80" stroke="#111" stroke-width="0.95"/>
<line x1="358.80" y1="258.80" x2="367.50" y2="258.40" stroke="#111" stroke-width="0.95"/>
<circle cx="358.80" cy="257.50" r="2.0" fill="#d6174a"/>
<circle cx="358.80" cy="258.20" r="2.0" fill="#d6174a"/>
<circle cx="358.80" cy="258.80" r="2.0" fill="#d6174a"/>
<circle cx="367.50" cy="257.20" r="2.0" fill="#186c86"/>
<circle cx="367.50" cy="257.80" r="2.0" fill="#186c86"/>
<circle cx="367.50" cy="258.40" r="2.0" fill="#186c86"/>
<line x1="333.00" y1="205.20" x2="342.70" y2="205.20" stroke="#111" stroke-width="0.8"/>
<line x1="333.00" y1="204.80" x2="333.00" y2="207.20" stroke="#111" stroke-width="0.8"/>
<line x1="342.70" y1="204.80" x2="342.70" y2="207.20" stroke="#111" stroke-width="0.8"/>
<text x="337.85" y="204.70" font-size="7.0" text-anchor="middle" fill="#231f20" stroke="#231f20" stroke-width="0.22">***</text>
<line x1="358.80" y1="205.20" x2="367.50" y2="205.20" stroke="#111" stroke-width="0.8"/>
<line x1="358.80" y1="204.80" x2="358.80" y2="207.20" stroke="#111" stroke-width="0.8"/>
<line x1="367.50" y1="204.80" x2="367.50" y2="207.20" stroke="#111" stroke-width="0.8"/>
<text x="363.15" y="202.30" font-size="6.8" text-anchor="middle" fill="#231f20" stroke="#231f20" stroke-width="0.22">n.s.</text>
<text x="335.20" y="273.30" font-size="7.4" text-anchor="middle" fill="#231f20" stroke="#231f20" stroke-width="0.22" textLength="17.3" lengthAdjust="spacingAndGlyphs">K562</text>
<text x="334.90" y="282.40" font-size="7.4" text-anchor="middle" fill="#231f20" stroke="#231f20" stroke-width="0.22" textLength="23.4" lengthAdjust="spacingAndGlyphs">CD19+</text>
<text x="366.20" y="273.30" font-size="7.4" text-anchor="middle" fill="#231f20" stroke="#231f20" stroke-width="0.22" textLength="17.3" lengthAdjust="spacingAndGlyphs">K562</text>
<text x="365.60" y="282.40" font-size="7.4" text-anchor="middle" fill="#231f20" stroke="#231f20" stroke-width="0.22" textLength="25.8" lengthAdjust="spacingAndGlyphs">BCMA+</text>
<line x1="424.20" y1="203.20" x2="424.20" y2="261.60" stroke="#111" stroke-width="1"/>
<line x1="421.40" y1="207.40" x2="424.20" y2="207.40" stroke="#111" stroke-width="0.9"/>
<text x="418.00" y="210.00" font-size="7.3" text-anchor="end" fill="#231f20" stroke="#231f20" stroke-width="0.22">150</text>
<line x1="421.40" y1="225.30" x2="424.20" y2="225.30" stroke="#111" stroke-width="0.9"/>
<text x="418.00" y="227.90" font-size="7.3" text-anchor="end" fill="#231f20" stroke="#231f20" stroke-width="0.22">100</text>
<line x1="421.40" y1="243.30" x2="424.20" y2="243.30" stroke="#111" stroke-width="0.9"/>
<text x="418.00" y="245.90" font-size="7.3" text-anchor="end" fill="#231f20" stroke="#231f20" stroke-width="0.22">50</text>
<line x1="421.40" y1="261.10" x2="424.20" y2="261.10" stroke="#111" stroke-width="0.9"/>
<text x="418.00" y="263.70" font-size="7.3" text-anchor="end" fill="#231f20" stroke="#231f20" stroke-width="0.22">0</text>
<line x1="424.20" y1="261.10" x2="471.20" y2="261.10" stroke="#111" stroke-width="1"/>
<line x1="435.40" y1="261.10" x2="435.40" y2="263.90" stroke="#111" stroke-width="0.9"/>
<line x1="461.00" y1="261.10" x2="461.00" y2="263.90" stroke="#111" stroke-width="0.9"/>
<text x="398.60" y="232.50" font-size="9.0" text-anchor="middle" fill="#222" stroke="#222" stroke-width="0.22" textLength="63.8" lengthAdjust="spacingAndGlyphs" transform="rotate(-90 398.60 232.50)">STAT5 pY694 ΔMFI</text>
<line x1="430.50" y1="222.60" x2="440.20" y2="236.50" stroke="#111" stroke-width="0.95"/>
<line x1="430.50" y1="225.90" x2="440.20" y2="238.40" stroke="#111" stroke-width="0.95"/>
<line x1="430.50" y1="231.70" x2="440.20" y2="240.80" stroke="#111" stroke-width="0.95"/>
<line x1="430.50" y1="236.10" x2="440.20" y2="243.30" stroke="#111" stroke-width="0.95"/>
<circle cx="430.50" cy="222.60" r="2.0" fill="#d6174a"/>
<circle cx="430.50" cy="225.90" r="2.0" fill="#d6174a"/>
<circle cx="430.50" cy="231.70" r="2.0" fill="#d6174a"/>
<circle cx="430.50" cy="236.10" r="2.0" fill="#d6174a"/>
<circle cx="440.20" cy="236.50" r="2.0" fill="#186c86"/>
<circle cx="440.20" cy="238.40" r="2.0" fill="#186c86"/>
<circle cx="440.20" cy="240.80" r="2.0" fill="#186c86"/>
<circle cx="440.20" cy="243.30" r="2.0" fill="#186c86"/>
<line x1="456.30" y1="255.20" x2="465.40" y2="251.00" stroke="#111" stroke-width="0.95"/>
<line x1="456.30" y1="255.70" x2="465.40" y2="253.00" stroke="#111" stroke-width="0.95"/>
<line x1="456.30" y1="256.20" x2="465.40" y2="255.90" stroke="#111" stroke-width="0.95"/>
<line x1="456.30" y1="256.70" x2="465.40" y2="256.90" stroke="#111" stroke-width="0.95"/>
<circle cx="456.30" cy="255.20" r="2.0" fill="#d6174a"/>
<circle cx="456.30" cy="255.70" r="2.0" fill="#d6174a"/>
<circle cx="456.30" cy="256.20" r="2.0" fill="#d6174a"/>
<circle cx="456.30" cy="256.70" r="2.0" fill="#d6174a"/>
<circle cx="465.40" cy="251.00" r="2.0" fill="#186c86"/>
<circle cx="465.40" cy="253.00" r="2.0" fill="#186c86"/>
<circle cx="465.40" cy="255.90" r="2.0" fill="#186c86"/>
<circle cx="465.40" cy="256.90" r="2.0" fill="#186c86"/>
<line x1="430.50" y1="205.20" x2="440.20" y2="205.20" stroke="#111" stroke-width="0.8"/>
<line x1="430.50" y1="204.80" x2="430.50" y2="207.20" stroke="#111" stroke-width="0.8"/>
<line x1="440.20" y1="204.80" x2="440.20" y2="207.20" stroke="#111" stroke-width="0.8"/>
<text x="435.35" y="204.70" font-size="7.0" text-anchor="middle" fill="#231f20" stroke="#231f20" stroke-width="0.22">*</text>
<line x1="456.30" y1="205.20" x2="465.40" y2="205.20" stroke="#111" stroke-width="0.8"/>
<line x1="456.30" y1="204.80" x2="456.30" y2="207.20" stroke="#111" stroke-width="0.8"/>
<line x1="465.40" y1="204.80" x2="465.40" y2="207.20" stroke="#111" stroke-width="0.8"/>
<text x="460.85" y="202.30" font-size="6.8" text-anchor="middle" fill="#231f20" stroke="#231f20" stroke-width="0.22">n.s.</text>
<text x="435.20" y="273.30" font-size="7.4" text-anchor="middle" fill="#231f20" stroke="#231f20" stroke-width="0.22" textLength="17.3" lengthAdjust="spacingAndGlyphs">K562</text>
<text x="435.00" y="282.40" font-size="7.4" text-anchor="middle" fill="#231f20" stroke="#231f20" stroke-width="0.22" textLength="23.4" lengthAdjust="spacingAndGlyphs">CD19+</text>
<text x="466.50" y="273.30" font-size="7.4" text-anchor="middle" fill="#231f20" stroke="#231f20" stroke-width="0.22" textLength="17.3" lengthAdjust="spacingAndGlyphs">K562</text>
<text x="465.60" y="282.40" font-size="7.4" text-anchor="middle" fill="#231f20" stroke="#231f20" stroke-width="0.22" textLength="25.8" lengthAdjust="spacingAndGlyphs">BCMA+</text>
<circle cx="487.00" cy="227.00" r="2.1" fill="#d6174a"/>
<text x="492.10" y="229.90" font-size="7.5" fill="#231f20" stroke="#231f20" stroke-width="0.22" textLength="10" lengthAdjust="spacingAndGlyphs">N1</text>
<circle cx="487.00" cy="237.20" r="2.1" fill="#186c86"/>
<text x="492.10" y="240.10" font-size="7.5" fill="#231f20" stroke="#231f20" stroke-width="0.22" textLength="27" lengthAdjust="spacingAndGlyphs">Control</text>
<text x="0.20" y="307.80" font-size="11.8" fill="#231f20" stroke="#231f20" stroke-width="0.22" font-weight="bold" textLength="8.0" lengthAdjust="spacingAndGlyphs">C</text>
<text x="50.40" y="317.10" font-size="8.2" text-anchor="middle" fill="#333" stroke="#333" stroke-width="0.22" textLength="50.4" lengthAdjust="spacingAndGlyphs">Myc targets V1</text>
<text x="49.10" y="326.80" font-size="5.2" text-anchor="middle" fill="#444" stroke="#444" stroke-width="0.08" textLength="82" lengthAdjust="spacingAndGlyphs">NES = 2.894, p &lt; 0.001, q &lt; 0.001</text>
<rect x="4.50" y="364.70" width="12.70" height="14.00" fill="#f0f0f0"/>
<rect x="17.20" y="329.50" width="77.70" height="49.20" fill="#fff" stroke="#999" stroke-width="0.7"/>
<line x1="16.00" y1="362.40" x2="17.20" y2="362.40" stroke="#666" stroke-width="0.4"/>
<text x="15.60" y="363.77" font-size="3.8" text-anchor="end" fill="#3a3a3a" stroke="#3a3a3a" stroke-width="0.06">0.0</text>
<line x1="16.00" y1="357.32" x2="17.20" y2="357.32" stroke="#666" stroke-width="0.4"/>
<text x="15.60" y="358.69" font-size="3.8" text-anchor="end" fill="#3a3a3a" stroke="#3a3a3a" stroke-width="0.06">0.1</text>
<line x1="16.00" y1="352.24" x2="17.20" y2="352.24" stroke="#666" stroke-width="0.4"/>
<text x="15.60" y="353.61" font-size="3.8" text-anchor="end" fill="#3a3a3a" stroke="#3a3a3a" stroke-width="0.06">0.2</text>
<line x1="16.00" y1="347.16" x2="17.20" y2="347.16" stroke="#666" stroke-width="0.4"/>
<text x="15.60" y="348.53" font-size="3.8" text-anchor="end" fill="#3a3a3a" stroke="#3a3a3a" stroke-width="0.06">0.3</text>
<line x1="16.00" y1="342.08" x2="17.20" y2="342.08" stroke="#666" stroke-width="0.4"/>
<text x="15.60" y="343.45" font-size="3.8" text-anchor="end" fill="#3a3a3a" stroke="#3a3a3a" stroke-width="0.06">0.4</text>
<line x1="16.00" y1="337.00" x2="17.20" y2="337.00" stroke="#666" stroke-width="0.4"/>
<text x="15.60" y="338.37" font-size="3.8" text-anchor="end" fill="#3a3a3a" stroke="#3a3a3a" stroke-width="0.06">0.5</text>
<line x1="16.00" y1="331.92" x2="17.20" y2="331.92" stroke="#666" stroke-width="0.4"/>
<text x="15.60" y="333.29" font-size="3.8" text-anchor="end" fill="#3a3a3a" stroke="#3a3a3a" stroke-width="0.06">0.6</text>
<text x="7.60" y="346.95" font-size="3.4" text-anchor="middle" fill="#444" stroke="#444" stroke-width="0.05" textLength="31.899999999999977" lengthAdjust="spacingAndGlyphs" transform="rotate(-90 7.60 346.95)">Enrichment score (ES)</text>
<rect x="18.90" y="364.70" width="4.30" height="11.40" fill="#3a3a3a"/>
<rect x="23.20" y="364.70" width="1.00" height="11.40" fill="#999"/>
<rect x="24.20" y="364.70" width="0.80" height="11.40" fill="#444"/>
<rect x="25.00" y="364.70" width="1.70" height="11.40" fill="#aaa"/>
<rect x="26.70" y="364.70" width="2.80" height="11.40" fill="#8a8a8a"/>
<rect x="29.70" y="364.70" width="2.60" height="11.40" fill="#111"/>
<rect x="32.30" y="364.70" width="4.40" height="11.40" fill="#6a6a6a"/>
<rect x="37.00" y="364.70" width="4.80" height="11.40" fill="#111"/>
<rect x="41.80" y="364.70" width="5.90" height="11.40" fill="#bdbdbd"/>
<rect x="57.10" y="364.70" width="1.70" height="11.40" fill="#bbb"/>
<rect x="60.20" y="364.70" width="0.80" height="11.40" fill="#ccc"/>
<rect x="62.20" y="364.70" width="0.50" height="11.40" fill="#ddd"/>
<rect x="64.40" y="364.70" width="0.60" height="11.40" fill="#ccc"/>
<rect x="68.10" y="364.70" width="0.90" height="11.40" fill="#999"/>
<rect x="69.70" y="364.70" width="0.50" height="11.40" fill="#ccc"/>
<rect x="71.00" y="364.70" width="0.60" height="11.40" fill="#bbb"/>
<rect x="74.10" y="364.70" width="0.60" height="11.40" fill="#ccc"/>
<rect x="82.00" y="364.70" width="0.70" height="11.40" fill="#bbb"/>
<rect x="83.90" y="364.70" width="0.50" height="11.40" fill="#ccc"/>
<linearGradient id="g17329" x1="0" x2="1" y1="0" y2="0"><stop offset="0" stop-color="#e03a48"/><stop offset="0.3" stop-color="#e25566"/><stop offset="0.4" stop-color="#f0b8c8"/><stop offset="0.55" stop-color="#f3e8f3"/><stop offset="0.68" stop-color="#d2d2f2"/><stop offset="0.76" stop-color="#8585e6"/><stop offset="1" stop-color="#4040d8"/></linearGradient>
<rect x="17.60" y="376.30" width="74.10" height="2.40" fill="url(#g17329)"/>
<rect x="89.10" y="376.30" width="2.60" height="2.40" fill="#14145a"/>
<path d="M17.70,361.90 C17.95,361.17 18.47,359.68 19.20,357.50 C19.93,355.32 21.30,350.95 22.10,348.80 C22.90,346.65 23.35,345.62 24.00,344.60 C24.65,343.58 25.35,343.22 26.00,342.70 C26.65,342.18 27.37,341.82 27.90,341.50 C28.43,341.18 28.72,341.50 29.20,340.80 C29.68,340.10 30.05,338.37 30.80,337.30 C31.55,336.23 32.58,335.20 33.70,334.40 C34.82,333.60 36.38,333.07 37.50,332.50 C38.62,331.93 39.60,331.25 40.40,331.00 C41.20,330.75 41.33,330.58 42.30,331.00 C43.27,331.42 44.58,332.42 46.20,333.50 C47.82,334.58 50.08,336.17 52.00,337.50 C53.92,338.83 55.15,339.93 57.70,341.50 C60.25,343.07 64.10,345.03 67.30,346.90 C70.50,348.77 74.02,350.93 76.90,352.70 C79.78,354.47 82.13,355.90 84.60,357.50 C87.07,359.10 90.52,361.50 91.70,362.30" fill="none" stroke="#3ddc5a" stroke-width="1.1" stroke-linejoin="round"/>
<text x="145.90" y="317.00" font-size="8.2" text-anchor="middle" fill="#333" stroke="#333" stroke-width="0.22" textLength="37.8" lengthAdjust="spacingAndGlyphs">E2F targets</text>
<text x="146.90" y="326.70" font-size="5.2" text-anchor="middle" fill="#444" stroke="#444" stroke-width="0.08" textLength="81.4" lengthAdjust="spacingAndGlyphs">NES = 2.750, p &lt; 0.001, q &lt; 0.001</text>
<rect x="97.20" y="365.40" width="15.30" height="13.80" fill="#f0f0f0"/>
<rect x="112.50" y="330.90" width="76.30" height="48.30" fill="#fff" stroke="#999" stroke-width="0.7"/>
<line x1="111.30" y1="362.80" x2="112.50" y2="362.80" stroke="#666" stroke-width="0.4"/>
<text x="111.20" y="364.17" font-size="3.8" text-anchor="end" fill="#3a3a3a" stroke="#3a3a3a" stroke-width="0.06">0.0</text>
<line x1="111.30" y1="357.50" x2="112.50" y2="357.50" stroke="#666" stroke-width="0.4"/>
<text x="111.20" y="358.87" font-size="3.8" text-anchor="end" fill="#3a3a3a" stroke="#3a3a3a" stroke-width="0.06">0.1</text>
<line x1="111.30" y1="352.20" x2="112.50" y2="352.20" stroke="#666" stroke-width="0.4"/>
<text x="111.20" y="353.57" font-size="3.8" text-anchor="end" fill="#3a3a3a" stroke="#3a3a3a" stroke-width="0.06">0.2</text>
<line x1="111.30" y1="346.90" x2="112.50" y2="346.90" stroke="#666" stroke-width="0.4"/>
<text x="111.20" y="348.27" font-size="3.8" text-anchor="end" fill="#3a3a3a" stroke="#3a3a3a" stroke-width="0.06">0.3</text>
<line x1="111.30" y1="341.60" x2="112.50" y2="341.60" stroke="#666" stroke-width="0.4"/>
<text x="111.20" y="342.97" font-size="3.8" text-anchor="end" fill="#3a3a3a" stroke="#3a3a3a" stroke-width="0.06">0.4</text>
<line x1="111.30" y1="336.30" x2="112.50" y2="336.30" stroke="#666" stroke-width="0.4"/>
<text x="111.20" y="337.67" font-size="3.8" text-anchor="end" fill="#3a3a3a" stroke="#3a3a3a" stroke-width="0.06">0.5</text>
<line x1="111.30" y1="331.00" x2="112.50" y2="331.00" stroke="#666" stroke-width="0.4"/>
<text x="111.20" y="332.37" font-size="3.8" text-anchor="end" fill="#3a3a3a" stroke="#3a3a3a" stroke-width="0.06">0.6</text>
<text x="101.90" y="347.85" font-size="3.4" text-anchor="middle" fill="#444" stroke="#444" stroke-width="0.05" textLength="30.900000000000034" lengthAdjust="spacingAndGlyphs" transform="rotate(-90 101.90 347.85)">Enrichment score (ES)</text>
<rect x="113.10" y="365.40" width="2.70" height="10.80" fill="#3a3a3a"/>
<rect x="115.80" y="365.40" width="3.80" height="10.80" fill="#1a1a1a"/>
<rect x="119.60" y="365.40" width="1.40" height="10.80" fill="#999"/>
<rect x="121.00" y="365.40" width="2.10" height="10.80" fill="#444"/>
<rect x="123.10" y="365.40" width="1.10" height="10.80" fill="#ccc"/>
<rect x="124.20" y="365.40" width="2.80" height="10.80" fill="#888"/>
<rect x="127.00" y="365.40" width="2.20" height="10.80" fill="#aaa"/>
<rect x="129.20" y="365.40" width="1.80" height="10.80" fill="#444"/>
<rect x="131.00" y="365.40" width="2.00" height="10.80" fill="#aaa"/>
<rect x="133.00" y="365.40" width="2.00" height="10.80" fill="#111"/>
<rect x="135.00" y="365.40" width="4.20" height="10.80" fill="#777"/>
<rect x="139.20" y="365.40" width="2.30" height="10.80" fill="#bbb"/>
<rect x="150.80" y="365.40" width="1.70" height="10.80" fill="#999"/>
<rect x="153.20" y="365.40" width="1.50" height="10.80" fill="#aaa"/>
<rect x="156.10" y="365.40" width="1.30" height="10.80" fill="#bbb"/>
<rect x="160.00" y="365.40" width="1.60" height="10.80" fill="#999"/>
<rect x="162.20" y="365.40" width="1.40" height="10.80" fill="#aaa"/>
<rect x="167.00" y="365.40" width="0.50" height="10.80" fill="#eee"/>
<rect x="176.00" y="365.40" width="3.10" height="10.80" fill="#bbb"/>
<linearGradient id="g112330" x1="0" x2="1" y1="0" y2="0"><stop offset="0" stop-color="#e03a48"/><stop offset="0.3" stop-color="#e25566"/><stop offset="0.4" stop-color="#f0b8c8"/><stop offset="0.55" stop-color="#f3e8f3"/><stop offset="0.68" stop-color="#d2d2f2"/><stop offset="0.76" stop-color="#8585e6"/><stop offset="1" stop-color="#4040d8"/></linearGradient>
<rect x="112.90" y="376.30" width="72.80" height="2.90" fill="url(#g112330)"/>
<rect x="183.50" y="376.30" width="2.20" height="2.90" fill="#14145a"/>
<path d="M112.80,362.80 C113.07,361.18 113.82,356.17 114.40,353.10 C114.98,350.03 115.65,346.65 116.30,344.40 C116.95,342.15 117.48,340.88 118.30,339.60 C119.12,338.32 120.23,337.45 121.20,336.70 C122.17,335.95 122.82,335.58 124.10,335.10 C125.38,334.62 127.28,334.25 128.90,333.80 C130.52,333.35 132.50,332.73 133.80,332.40 C135.10,332.07 135.58,331.67 136.70,331.80 C137.82,331.93 138.73,332.07 140.50,333.20 C142.27,334.33 144.87,336.90 147.30,338.60 C149.73,340.30 152.67,341.88 155.10,343.40 C157.53,344.92 159.80,346.40 161.90,347.70 C164.00,349.00 165.77,349.72 167.70,351.20 C169.63,352.68 171.73,355.47 173.50,356.60 C175.27,357.73 176.27,356.97 178.30,358.00 C180.33,359.03 184.47,362.00 185.70,362.80" fill="none" stroke="#3ddc5a" stroke-width="1.1" stroke-linejoin="round"/>
<text x="50.90" y="392.50" font-size="8.2" text-anchor="middle" fill="#333" stroke="#333" stroke-width="0.22" textLength="75.8" lengthAdjust="spacingAndGlyphs">G2-mitosis checkpoint</text>
<text x="51.70" y="401.00" font-size="5.2" text-anchor="middle" fill="#444" stroke="#444" stroke-width="0.08" textLength="77.4" lengthAdjust="spacingAndGlyphs">NES = 2.418, p &lt; 0.001, q &lt; 0.001</text>
<rect x="4.60" y="439.80" width="12.70" height="13.80" fill="#f0f0f0"/>
<rect x="17.30" y="404.90" width="77.40" height="48.70" fill="#fff" stroke="#999" stroke-width="0.7"/>
<line x1="16.10" y1="437.10" x2="17.30" y2="437.10" stroke="#666" stroke-width="0.4"/>
<text x="15.60" y="438.47" font-size="3.8" text-anchor="end" fill="#3a3a3a" stroke="#3a3a3a" stroke-width="0.06">0.0</text>
<line x1="16.10" y1="431.04" x2="17.30" y2="431.04" stroke="#666" stroke-width="0.4"/>
<text x="15.60" y="432.41" font-size="3.8" text-anchor="end" fill="#3a3a3a" stroke="#3a3a3a" stroke-width="0.06">0.1</text>
<line x1="16.10" y1="424.98" x2="17.30" y2="424.98" stroke="#666" stroke-width="0.4"/>
<text x="15.60" y="426.35" font-size="3.8" text-anchor="end" fill="#3a3a3a" stroke="#3a3a3a" stroke-width="0.06">0.2</text>
<line x1="16.10" y1="418.92" x2="17.30" y2="418.92" stroke="#666" stroke-width="0.4"/>
<text x="15.60" y="420.29" font-size="3.8" text-anchor="end" fill="#3a3a3a" stroke="#3a3a3a" stroke-width="0.06">0.3</text>
<line x1="16.10" y1="412.86" x2="17.30" y2="412.86" stroke="#666" stroke-width="0.4"/>
<text x="15.60" y="414.23" font-size="3.8" text-anchor="end" fill="#3a3a3a" stroke="#3a3a3a" stroke-width="0.06">0.4</text>
<line x1="16.10" y1="406.80" x2="17.30" y2="406.80" stroke="#666" stroke-width="0.4"/>
<text x="15.60" y="408.17" font-size="3.8" text-anchor="end" fill="#3a3a3a" stroke="#3a3a3a" stroke-width="0.06">0.5</text>
<text x="8.10" y="422.00" font-size="3.4" text-anchor="middle" fill="#444" stroke="#444" stroke-width="0.05" textLength="31.200000000000045" lengthAdjust="spacingAndGlyphs" transform="rotate(-90 8.10 422.00)">Enrichment score (ES)</text>
<rect x="17.70" y="439.80" width="1.50" height="11.00" fill="#777"/>
<rect x="19.20" y="439.80" width="2.30" height="11.00" fill="#222"/>
<rect x="21.50" y="439.80" width="1.20" height="11.00" fill="#888"/>
<rect x="22.70" y="439.80" width="1.90" height="11.00" fill="#555"/>
<rect x="24.60" y="439.80" width="1.20" height="11.00" fill="#bbb"/>
<rect x="25.80" y="439.80" width="1.50" height="11.00" fill="#111"/>
<rect x="27.30" y="439.80" width="1.90" height="11.00" fill="#aaa"/>
<rect x="29.20" y="439.80" width="1.60" height="11.00" fill="#222"/>
<rect x="30.80" y="439.80" width="1.50" height="11.00" fill="#bbb"/>
<rect x="32.30" y="439.80" width="4.70" height="11.00" fill="#888"/>
<rect x="37.00" y="439.80" width="3.80" height="11.00" fill="#666"/>
<rect x="40.80" y="439.80" width="1.90" height="11.00" fill="#aaa"/>
<rect x="42.70" y="439.80" width="1.90" height="11.00" fill="#444"/>
<rect x="44.60" y="439.80" width="3.10" height="11.00" fill="#bbb"/>
<rect x="55.80" y="439.80" width="3.50" height="11.00" fill="#888"/>
<rect x="59.30" y="439.80" width="1.30" height="11.00" fill="#ccc"/>
<rect x="61.50" y="439.80" width="4.00" height="11.00" fill="#999"/>
<rect x="65.90" y="439.80" width="3.10" height="11.00" fill="#888"/>
<rect x="69.90" y="439.80" width="1.80" height="11.00" fill="#777"/>
<rect x="75.70" y="439.80" width="1.70" height="11.00" fill="#bbb"/>
<rect x="78.10" y="439.80" width="0.50" height="11.00" fill="#ddd"/>
<rect x="81.90" y="439.80" width="3.10" height="11.00" fill="#999"/>
<linearGradient id="g17404" x1="0" x2="1" y1="0" y2="0"><stop offset="0" stop-color="#e03a48"/><stop offset="0.3" stop-color="#e25566"/><stop offset="0.4" stop-color="#f0b8c8"/><stop offset="0.55" stop-color="#f3e8f3"/><stop offset="0.68" stop-color="#d2d2f2"/><stop offset="0.76" stop-color="#8585e6"/><stop offset="1" stop-color="#4040d8"/></linearGradient>
<rect x="17.70" y="450.90" width="73.50" height="2.70" fill="url(#g17404)"/>
<rect x="88.90" y="450.90" width="2.30" height="2.70" fill="#14145a"/>
<path d="M17.70,437.30 C17.95,436.08 18.62,432.82 19.20,430.00 C19.78,427.18 20.55,422.65 21.20,420.40 C21.85,418.15 22.47,417.47 23.10,416.50 C23.73,415.53 24.37,415.55 25.00,414.60 C25.63,413.65 26.27,411.92 26.90,410.80 C27.53,409.68 28.15,408.62 28.80,407.90 C29.45,407.18 29.83,406.82 30.80,406.50 C31.77,406.18 33.00,406.08 34.60,406.00 C36.20,405.92 38.63,405.68 40.40,406.00 C42.17,406.32 43.28,406.62 45.20,407.90 C47.12,409.18 49.50,411.62 51.90,413.70 C54.30,415.78 57.03,418.48 59.60,420.40 C62.17,422.32 64.73,423.77 67.30,425.20 C69.87,426.63 72.75,427.72 75.00,429.00 C77.25,430.28 79.20,432.35 80.80,432.90 C82.40,433.45 83.48,432.15 84.60,432.30 C85.72,432.45 86.40,432.93 87.50,433.80 C88.60,434.67 90.58,436.88 91.20,437.50" fill="none" stroke="#3ddc5a" stroke-width="1.1" stroke-linejoin="round"/>
<text x="146.90" y="393.00" font-size="8.2" text-anchor="middle" fill="#333" stroke="#333" stroke-width="0.22" textLength="62.2" lengthAdjust="spacingAndGlyphs">mTORC1 signaling</text>
<text x="146.70" y="401.00" font-size="5.2" text-anchor="middle" fill="#444" stroke="#444" stroke-width="0.08" textLength="77.4" lengthAdjust="spacingAndGlyphs">NES = 1.599, p &lt; 0.001, q = 0.010</text>
<rect x="97.20" y="439.40" width="18.00" height="13.50" fill="#f0f0f0"/>
<rect x="115.20" y="404.90" width="74.20" height="48.00" fill="#fff" stroke="#999" stroke-width="0.7"/>
<line x1="114.00" y1="438.00" x2="115.20" y2="438.00" stroke="#666" stroke-width="0.4"/>
<text x="114.20" y="439.08" font-size="3.0" text-anchor="end" fill="#3a3a3a" stroke="#3a3a3a" stroke-width="0.06">−0.10</text>
<line x1="114.00" y1="434.55" x2="115.20" y2="434.55" stroke="#666" stroke-width="0.4"/>
<text x="114.20" y="435.63" font-size="3.0" text-anchor="end" fill="#3a3a3a" stroke="#3a3a3a" stroke-width="0.06">−0.05</text>
<line x1="114.00" y1="431.10" x2="115.20" y2="431.10" stroke="#666" stroke-width="0.4"/>
<text x="114.20" y="432.18" font-size="3.0" text-anchor="end" fill="#3a3a3a" stroke="#3a3a3a" stroke-width="0.06">0.00</text>
<line x1="114.00" y1="427.65" x2="115.20" y2="427.65" stroke="#666" stroke-width="0.4"/>
<text x="114.20" y="428.73" font-size="3.0" text-anchor="end" fill="#3a3a3a" stroke="#3a3a3a" stroke-width="0.06">0.05</text>
<line x1="114.00" y1="424.20" x2="115.20" y2="424.20" stroke="#666" stroke-width="0.4"/>
<text x="114.20" y="425.28" font-size="3.0" text-anchor="end" fill="#3a3a3a" stroke="#3a3a3a" stroke-width="0.06">0.10</text>
<line x1="114.00" y1="420.75" x2="115.20" y2="420.75" stroke="#666" stroke-width="0.4"/>
<text x="114.20" y="421.83" font-size="3.0" text-anchor="end" fill="#3a3a3a" stroke="#3a3a3a" stroke-width="0.06">0.15</text>
<line x1="114.00" y1="417.30" x2="115.20" y2="417.30" stroke="#666" stroke-width="0.4"/>
<text x="114.20" y="418.38" font-size="3.0" text-anchor="end" fill="#3a3a3a" stroke="#3a3a3a" stroke-width="0.06">0.20</text>
<line x1="114.00" y1="413.85" x2="115.20" y2="413.85" stroke="#666" stroke-width="0.4"/>
<text x="114.20" y="414.93" font-size="3.0" text-anchor="end" fill="#3a3a3a" stroke="#3a3a3a" stroke-width="0.06">0.25</text>
<line x1="114.00" y1="410.40" x2="115.20" y2="410.40" stroke="#666" stroke-width="0.4"/>
<text x="114.20" y="411.48" font-size="3.0" text-anchor="end" fill="#3a3a3a" stroke="#3a3a3a" stroke-width="0.06">0.30</text>
<line x1="114.00" y1="406.95" x2="115.20" y2="406.95" stroke="#666" stroke-width="0.4"/>
<text x="114.20" y="408.03" font-size="3.0" text-anchor="end" fill="#3a3a3a" stroke="#3a3a3a" stroke-width="0.06">0.35</text>
<text x="101.50" y="422.45" font-size="3.4" text-anchor="middle" fill="#444" stroke="#444" stroke-width="0.05" textLength="32.10000000000002" lengthAdjust="spacingAndGlyphs" transform="rotate(-90 101.50 422.45)">Enrichment score (ES)</text>
<rect x="115.30" y="439.40" width="1.20" height="10.70" fill="#888"/>
<rect x="116.50" y="439.40" width="2.70" height="10.70" fill="#111"/>
<rect x="119.20" y="439.40" width="2.30" height="10.70" fill="#444"/>
<rect x="121.50" y="439.40" width="1.30" height="10.70" fill="#999"/>
<rect x="122.80" y="439.40" width="1.40" height="10.70" fill="#333"/>
<rect x="124.20" y="439.40" width="1.90" height="10.70" fill="#ccc"/>
<rect x="126.10" y="439.40" width="2.70" height="10.70" fill="#777"/>
<rect x="128.80" y="439.40" width="1.90" height="10.70" fill="#333"/>
<rect x="130.70" y="439.40" width="1.30" height="10.70" fill="#bbb"/>
<rect x="132.00" y="439.40" width="2.20" height="10.70" fill="#555"/>
<rect x="134.20" y="439.40" width="1.50" height="10.70" fill="#999"/>
<rect x="135.70" y="439.40" width="1.90" height="10.70" fill="#222"/>
<rect x="137.60" y="439.40" width="3.10" height="10.70" fill="#bbb"/>
<rect x="140.70" y="439.40" width="3.10" height="10.70" fill="#555"/>
<rect x="143.80" y="439.40" width="1.20" height="10.70" fill="#ccc"/>
<rect x="151.80" y="439.40" width="2.20" height="10.70" fill="#999"/>
<rect x="154.80" y="439.40" width="4.50" height="10.70" fill="#555"/>
<rect x="156.20" y="439.40" width="0.80" height="10.70" fill="#333"/>
<rect x="159.30" y="439.40" width="0.90" height="10.70" fill="#ccc"/>
<rect x="160.20" y="439.40" width="3.50" height="10.70" fill="#aaa"/>
<rect x="164.60" y="439.40" width="3.10" height="10.70" fill="#888"/>
<rect x="169.50" y="439.40" width="0.80" height="10.70" fill="#ccc"/>
<rect x="172.10" y="439.40" width="1.30" height="10.70" fill="#bbb"/>
<rect x="175.20" y="439.40" width="2.20" height="10.70" fill="#666"/>
<rect x="178.70" y="439.40" width="2.70" height="10.70" fill="#444"/>
<rect x="182.70" y="439.40" width="1.80" height="10.70" fill="#999"/>
<linearGradient id="g115404" x1="0" x2="1" y1="0" y2="0"><stop offset="0" stop-color="#e03a48"/><stop offset="0.3" stop-color="#e25566"/><stop offset="0.4" stop-color="#f0b8c8"/><stop offset="0.55" stop-color="#f3e8f3"/><stop offset="0.68" stop-color="#d2d2f2"/><stop offset="0.76" stop-color="#8585e6"/><stop offset="1" stop-color="#4040d8"/></linearGradient>
<rect x="115.60" y="450.20" width="69.80" height="2.70" fill="url(#g115404)"/>
<rect x="182.70" y="450.20" width="2.70" height="2.70" fill="#14145a"/>
<path d="M115.20,431.00 C115.37,429.72 115.72,425.87 116.20,423.30 C116.68,420.73 117.47,417.68 118.10,415.60 C118.73,413.52 119.37,412.08 120.00,410.80 C120.63,409.52 121.27,408.55 121.90,407.90 C122.53,407.25 123.00,406.90 123.80,406.90 C124.60,406.90 125.57,407.97 126.70,407.90 C127.83,407.83 129.47,406.82 130.60,406.50 C131.73,406.18 132.38,406.00 133.50,406.00 C134.62,406.00 136.02,406.08 137.30,406.50 C138.58,406.92 139.92,407.47 141.20,408.50 C142.48,409.53 143.40,410.72 145.00,412.70 C146.60,414.68 148.88,418.15 150.80,420.40 C152.72,422.65 154.58,424.77 156.50,426.20 C158.42,427.63 160.22,428.12 162.30,429.00 C164.38,429.88 167.08,430.63 169.00,431.50 C170.92,432.37 172.52,433.42 173.80,434.20 C175.08,434.98 175.88,436.10 176.70,436.20 C177.52,436.30 178.22,435.58 178.70,434.80 C179.18,434.02 178.97,432.05 179.60,431.50 C180.23,430.95 181.55,431.78 182.50,431.50 C183.45,431.22 184.83,430.08 185.30,429.80" fill="none" stroke="#3ddc5a" stroke-width="1.1" stroke-linejoin="round"/>
<text x="18.30" y="461.80" font-size="8.2" fill="#e0245a" stroke="#e0245a" stroke-width="0.22" textLength="9.6" lengthAdjust="spacingAndGlyphs">N1</text>
<line x1="32.30" y1="458.80" x2="58.10" y2="458.80" stroke="#111" stroke-width="1"/>
<path d="M29.80,458.8 L33.20,457 L33.20,460.6 Z" fill="#111"/>
<path d="M60.60,458.8 L57.20,457 L57.20,460.6 Z" fill="#111"/>
<text x="65.00" y="461.80" font-size="8.2" fill="#3c7dc0" stroke="#3c7dc0" stroke-width="0.22" textLength="25.5" lengthAdjust="spacingAndGlyphs">Control</text>
<text x="112.70" y="461.80" font-size="8.2" fill="#e0245a" stroke="#e0245a" stroke-width="0.22" textLength="9.6" lengthAdjust="spacingAndGlyphs">N1</text>
<line x1="127.30" y1="458.80" x2="152.10" y2="458.80" stroke="#111" stroke-width="1"/>
<path d="M124.80,458.8 L128.20,457 L128.20,460.6 Z" fill="#111"/>
<path d="M154.60,458.8 L151.20,457 L151.20,460.6 Z" fill="#111"/>
<text x="158.50" y="461.80" font-size="8.2" fill="#3c7dc0" stroke="#3c7dc0" stroke-width="0.22" textLength="25.5" lengthAdjust="spacingAndGlyphs">Control</text>
<text x="243.50" y="317.00" font-size="8.2" text-anchor="middle" fill="#222" stroke="#222" stroke-width="0.22" textLength="21.9" lengthAdjust="spacingAndGlyphs">c-Myc</text>
<text x="234.80" y="327.20" font-size="8.0" text-anchor="middle" fill="#d8305a" stroke="#d8305a" stroke-width="0.22">N1</text>
<text x="251.80" y="327.20" font-size="8.0" text-anchor="middle" fill="#3c7dc0" stroke="#3c7dc0" stroke-width="0.22">Ctrl</text>
<rect x="224.70" y="331.00" width="6.20" height="6.29" fill="#f5adb5"/>
<rect x="230.85" y="331.00" width="6.20" height="6.29" fill="#e0e4f9"/>
<rect x="237.00" y="331.00" width="6.20" height="6.29" fill="#f9cdd3"/>
<rect x="243.15" y="331.00" width="6.20" height="6.29" fill="#aab7f1"/>
<rect x="249.30" y="331.00" width="6.20" height="6.29" fill="#aab7f1"/>
<rect x="255.45" y="331.00" width="6.20" height="6.29" fill="#ffffff"/>
<text x="221.20" y="335.82" font-size="6.25" text-anchor="end" fill="#222" stroke="#222" stroke-width="0.22">IFRD1</text>
<rect x="224.70" y="337.24" width="6.20" height="6.29" fill="#f5adb5"/>
<rect x="230.85" y="337.24" width="6.20" height="6.29" fill="#ffffff"/>
<rect x="237.00" y="337.24" width="6.20" height="6.29" fill="#f9cdd3"/>
<rect x="243.15" y="337.24" width="6.20" height="6.29" fill="#ffffff"/>
<rect x="249.30" y="337.24" width="6.20" height="6.29" fill="#7d94ea"/>
<rect x="255.45" y="337.24" width="6.20" height="6.29" fill="#ced5f6"/>
<text x="221.20" y="342.06" font-size="6.25" text-anchor="end" fill="#222" stroke="#222" stroke-width="0.22">RAD23B</text>
<rect x="224.70" y="343.48" width="6.20" height="6.29" fill="#f9cdd3"/>
<rect x="230.85" y="343.48" width="6.20" height="6.29" fill="#ffffff"/>
<rect x="237.00" y="343.48" width="6.20" height="6.29" fill="#fbdade"/>
<rect x="243.15" y="343.48" width="6.20" height="6.29" fill="#4c73e2"/>
<rect x="249.30" y="343.48" width="6.20" height="6.29" fill="#e0e4f9"/>
<rect x="255.45" y="343.48" width="6.20" height="6.29" fill="#e0e4f9"/>
<text x="221.20" y="348.30" font-size="6.25" text-anchor="end" fill="#222" stroke="#222" stroke-width="0.22">MAD2L1</text>
<rect x="224.70" y="349.72" width="6.20" height="6.29" fill="#f9cdd3"/>
<rect x="230.85" y="349.72" width="6.20" height="6.29" fill="#ffffff"/>
<rect x="237.00" y="349.72" width="6.20" height="6.29" fill="#fbdade"/>
<rect x="243.15" y="349.72" width="6.20" height="6.29" fill="#aab7f1"/>
<rect x="249.30" y="349.72" width="6.20" height="6.29" fill="#ced5f6"/>
<rect x="255.45" y="349.72" width="6.20" height="6.29" fill="#e0e4f9"/>
<text x="221.20" y="354.54" font-size="6.25" text-anchor="end" fill="#222" stroke="#222" stroke-width="0.22">DUT</text>
<rect x="224.70" y="355.96" width="6.20" height="6.29" fill="#fbdade"/>
<rect x="230.85" y="355.96" width="6.20" height="6.29" fill="#ffffff"/>
<rect x="237.00" y="355.96" width="6.20" height="6.29" fill="#ee8289"/>
<rect x="243.15" y="355.96" width="6.20" height="6.29" fill="#1651e0"/>
<rect x="249.30" y="355.96" width="6.20" height="6.29" fill="#ffffff"/>
<rect x="255.45" y="355.96" width="6.20" height="6.29" fill="#e0e4f9"/>
<text x="221.20" y="360.78" font-size="6.25" text-anchor="end" fill="#222" stroke="#222" stroke-width="0.22">CCNA2</text>
<rect x="224.70" y="362.20" width="6.20" height="6.29" fill="#f5adb5"/>
<rect x="230.85" y="362.20" width="6.20" height="6.29" fill="#ced5f6"/>
<rect x="237.00" y="362.20" width="6.20" height="6.29" fill="#f9cdd3"/>
<rect x="243.15" y="362.20" width="6.20" height="6.29" fill="#e0e4f9"/>
<rect x="249.30" y="362.20" width="6.20" height="6.29" fill="#aab7f1"/>
<rect x="255.45" y="362.20" width="6.20" height="6.29" fill="#e0e4f9"/>
<text x="221.20" y="367.02" font-size="6.25" text-anchor="end" fill="#222" stroke="#222" stroke-width="0.22">EIF4E</text>
<rect x="224.70" y="368.44" width="6.20" height="6.29" fill="#fbdade"/>
<rect x="230.85" y="368.44" width="6.20" height="6.29" fill="#ffffff"/>
<rect x="237.00" y="368.44" width="6.20" height="6.29" fill="#f5adb5"/>
<rect x="243.15" y="368.44" width="6.20" height="6.29" fill="#aab7f1"/>
<rect x="249.30" y="368.44" width="6.20" height="6.29" fill="#ffffff"/>
<rect x="255.45" y="368.44" width="6.20" height="6.29" fill="#e0e4f9"/>
<text x="221.20" y="373.26" font-size="6.25" text-anchor="end" fill="#222" stroke="#222" stroke-width="0.22">NCBP1</text>
<rect x="224.70" y="374.68" width="6.20" height="6.29" fill="#f5adb5"/>
<rect x="230.85" y="374.68" width="6.20" height="6.29" fill="#e0e4f9"/>
<rect x="237.00" y="374.68" width="6.20" height="6.29" fill="#fbdade"/>
<rect x="243.15" y="374.68" width="6.20" height="6.29" fill="#ced5f6"/>
<rect x="249.30" y="374.68" width="6.20" height="6.29" fill="#e0e4f9"/>
<rect x="255.45" y="374.68" width="6.20" height="6.29" fill="#e0e4f9"/>
<text x="221.20" y="379.50" font-size="6.25" text-anchor="end" fill="#222" stroke="#222" stroke-width="0.22">EIF2S2</text>
<rect x="224.70" y="380.92" width="6.20" height="6.29" fill="#f5adb5"/>
<rect x="230.85" y="380.92" width="6.20" height="6.29" fill="#e0e4f9"/>
<rect x="237.00" y="380.92" width="6.20" height="6.29" fill="#f9cdd3"/>
<rect x="243.15" y="380.92" width="6.20" height="6.29" fill="#aab7f1"/>
<rect x="249.30" y="380.92" width="6.20" height="6.29" fill="#e0e4f9"/>
<rect x="255.45" y="380.92" width="6.20" height="6.29" fill="#e0e4f9"/>
<text x="221.20" y="385.74" font-size="6.25" text-anchor="end" fill="#222" stroke="#222" stroke-width="0.22">PTGES3</text>
<rect x="224.70" y="387.16" width="6.20" height="6.29" fill="#f5adb5"/>
<rect x="230.85" y="387.16" width="6.20" height="6.29" fill="#ffffff"/>
<rect x="237.00" y="387.16" width="6.20" height="6.29" fill="#fbdade"/>
<rect x="243.15" y="387.16" width="6.20" height="6.29" fill="#ced5f6"/>
<rect x="249.30" y="387.16" width="6.20" height="6.29" fill="#ced5f6"/>
<rect x="255.45" y="387.16" width="6.20" height="6.29" fill="#e0e4f9"/>
<text x="221.20" y="391.98" font-size="6.25" text-anchor="end" fill="#222" stroke="#222" stroke-width="0.22">ORC2</text>
<rect x="224.70" y="393.40" width="6.20" height="6.29" fill="#f5adb5"/>
<rect x="230.85" y="393.40" width="6.20" height="6.29" fill="#ffffff"/>
<rect x="237.00" y="393.40" width="6.20" height="6.29" fill="#fbdade"/>
<rect x="243.15" y="393.40" width="6.20" height="6.29" fill="#7d94ea"/>
<rect x="249.30" y="393.40" width="6.20" height="6.29" fill="#ffffff"/>
<rect x="255.45" y="393.40" width="6.20" height="6.29" fill="#e0e4f9"/>
<text x="221.20" y="398.22" font-size="6.25" text-anchor="end" fill="#222" stroke="#222" stroke-width="0.22">HSPE1</text>
<rect x="224.70" y="399.64" width="6.20" height="6.29" fill="#f5adb5"/>
<rect x="230.85" y="399.64" width="6.20" height="6.29" fill="#e0e4f9"/>
<rect x="237.00" y="399.64" width="6.20" height="6.29" fill="#fbdade"/>
<rect x="243.15" y="399.64" width="6.20" height="6.29" fill="#ced5f6"/>
<rect x="249.30" y="399.64" width="6.20" height="6.29" fill="#ced5f6"/>
<rect x="255.45" y="399.64" width="6.20" height="6.29" fill="#e0e4f9"/>
<text x="221.20" y="404.46" font-size="6.25" text-anchor="end" fill="#222" stroke="#222" stroke-width="0.22">ETF1</text>
<rect x="224.70" y="405.88" width="6.20" height="6.29" fill="#f5adb5"/>
<rect x="230.85" y="405.88" width="6.20" height="6.29" fill="#e0e4f9"/>
<rect x="237.00" y="405.88" width="6.20" height="6.29" fill="#fbdade"/>
<rect x="243.15" y="405.88" width="6.20" height="6.29" fill="#aab7f1"/>
<rect x="249.30" y="405.88" width="6.20" height="6.29" fill="#ced5f6"/>
<rect x="255.45" y="405.88" width="6.20" height="6.29" fill="#ffffff"/>
<text x="221.20" y="410.70" font-size="6.25" text-anchor="end" fill="#222" stroke="#222" stroke-width="0.22">ODC1</text>
<rect x="224.70" y="412.12" width="6.20" height="6.29" fill="#f9cdd3"/>
<rect x="230.85" y="412.12" width="6.20" height="6.29" fill="#e0e4f9"/>
<rect x="237.00" y="412.12" width="6.20" height="6.29" fill="#fbdade"/>
<rect x="243.15" y="412.12" width="6.20" height="6.29" fill="#ced5f6"/>
<rect x="249.30" y="412.12" width="6.20" height="6.29" fill="#e0e4f9"/>
<rect x="255.45" y="412.12" width="6.20" height="6.29" fill="#e0e4f9"/>
<text x="221.20" y="416.94" font-size="6.25" text-anchor="end" fill="#222" stroke="#222" stroke-width="0.22">SERBP1</text>
<rect x="224.70" y="418.36" width="6.20" height="6.29" fill="#f5adb5"/>
<rect x="230.85" y="418.36" width="6.20" height="6.29" fill="#ffffff"/>
<rect x="237.00" y="418.36" width="6.20" height="6.29" fill="#fbdade"/>
<rect x="243.15" y="418.36" width="6.20" height="6.29" fill="#aab7f1"/>
<rect x="249.30" y="418.36" width="6.20" height="6.29" fill="#ced5f6"/>
<rect x="255.45" y="418.36" width="6.20" height="6.29" fill="#e0e4f9"/>
<text x="221.20" y="423.18" font-size="6.25" text-anchor="end" fill="#222" stroke="#222" stroke-width="0.22">HSPD1</text>
<rect x="224.70" y="424.60" width="6.20" height="6.29" fill="#ee8289"/>
<rect x="230.85" y="424.60" width="6.20" height="6.29" fill="#ced5f6"/>
<rect x="237.00" y="424.60" width="6.20" height="6.29" fill="#fbdade"/>
<rect x="243.15" y="424.60" width="6.20" height="6.29" fill="#e0e4f9"/>
<rect x="249.30" y="424.60" width="6.20" height="6.29" fill="#aab7f1"/>
<rect x="255.45" y="424.60" width="6.20" height="6.29" fill="#e0e4f9"/>
<text x="221.20" y="429.42" font-size="6.25" text-anchor="end" fill="#222" stroke="#222" stroke-width="0.22">HDAC2</text>
<rect x="224.70" y="430.84" width="6.20" height="6.29" fill="#f9cdd3"/>
<rect x="230.85" y="430.84" width="6.20" height="6.29" fill="#ffffff"/>
<rect x="237.00" y="430.84" width="6.20" height="6.29" fill="#f5adb5"/>
<rect x="243.15" y="430.84" width="6.20" height="6.29" fill="#aab7f1"/>
<rect x="249.30" y="430.84" width="6.20" height="6.29" fill="#ced5f6"/>
<rect x="255.45" y="430.84" width="6.20" height="6.29" fill="#ffffff"/>
<text x="221.20" y="435.66" font-size="6.25" text-anchor="end" fill="#222" stroke="#222" stroke-width="0.22">PCNA</text>
<rect x="224.70" y="437.08" width="6.20" height="6.29" fill="#ee8289"/>
<rect x="230.85" y="437.08" width="6.20" height="6.29" fill="#e0e4f9"/>
<rect x="237.00" y="437.08" width="6.20" height="6.29" fill="#ffffff"/>
<rect x="243.15" y="437.08" width="6.20" height="6.29" fill="#e0e4f9"/>
<rect x="249.30" y="437.08" width="6.20" height="6.29" fill="#ced5f6"/>
<rect x="255.45" y="437.08" width="6.20" height="6.29" fill="#7d94ea"/>
<text x="221.20" y="441.90" font-size="6.25" text-anchor="end" fill="#222" stroke="#222" stroke-width="0.22">ERH</text>
<rect x="224.70" y="443.32" width="6.20" height="6.29" fill="#f9cdd3"/>
<rect x="230.85" y="443.32" width="6.20" height="6.29" fill="#e0e4f9"/>
<rect x="237.00" y="443.32" width="6.20" height="6.29" fill="#fbdade"/>
<rect x="243.15" y="443.32" width="6.20" height="6.29" fill="#aab7f1"/>
<rect x="249.30" y="443.32" width="6.20" height="6.29" fill="#ced5f6"/>
<rect x="255.45" y="443.32" width="6.20" height="6.29" fill="#ffffff"/>
<text x="221.20" y="448.14" font-size="6.25" text-anchor="end" fill="#222" stroke="#222" stroke-width="0.22">GNL3</text>
<rect x="224.70" y="449.56" width="6.20" height="6.29" fill="#fbdade"/>
<rect x="230.85" y="449.56" width="6.20" height="6.29" fill="#ffffff"/>
<rect x="237.00" y="449.56" width="6.20" height="6.29" fill="#f5adb5"/>
<rect x="243.15" y="449.56" width="6.20" height="6.29" fill="#aab7f1"/>
<rect x="249.30" y="449.56" width="6.20" height="6.29" fill="#aab7f1"/>
<rect x="255.45" y="449.56" width="6.20" height="6.29" fill="#e0e4f9"/>
<text x="221.20" y="454.38" font-size="6.25" text-anchor="end" fill="#222" stroke="#222" stroke-width="0.22">C1QBP</text>
<rect x="224.70" y="331.00" width="36.90" height="124.80" fill="none" stroke="#111" stroke-width="1.3"/>
<text x="322.60" y="317.00" font-size="8.2" text-anchor="middle" fill="#222" stroke="#222" stroke-width="0.22" textLength="13.8" lengthAdjust="spacingAndGlyphs">E2F</text>
<text x="312.20" y="327.20" font-size="8.0" text-anchor="middle" fill="#d8305a" stroke="#d8305a" stroke-width="0.22">N1</text>
<text x="331.40" y="327.20" font-size="8.0" text-anchor="middle" fill="#3c7dc0" stroke="#3c7dc0" stroke-width="0.22">Ctrl</text>
<rect x="303.90" y="331.00" width="6.25" height="6.29" fill="#f9cdd3"/>
<rect x="310.10" y="331.00" width="6.25" height="6.29" fill="#f9cdd3"/>
<rect x="316.30" y="331.00" width="6.25" height="6.29" fill="#f9cdd3"/>
<rect x="322.50" y="331.00" width="6.25" height="6.29" fill="#aab7f1"/>
<rect x="328.70" y="331.00" width="6.25" height="6.29" fill="#e0e4f9"/>
<rect x="334.90" y="331.00" width="6.25" height="6.29" fill="#e0e4f9"/>
<text x="301.50" y="335.82" font-size="6.25" text-anchor="end" fill="#222" stroke="#222" stroke-width="0.22">DSCC1</text>
<rect x="303.90" y="337.24" width="6.25" height="6.29" fill="#f5adb5"/>
<rect x="310.10" y="337.24" width="6.25" height="6.29" fill="#ffffff"/>
<rect x="316.30" y="337.24" width="6.25" height="6.29" fill="#fbdade"/>
<rect x="322.50" y="337.24" width="6.25" height="6.29" fill="#7d94ea"/>
<rect x="328.70" y="337.24" width="6.25" height="6.29" fill="#e0e4f9"/>
<rect x="334.90" y="337.24" width="6.25" height="6.29" fill="#ced5f6"/>
<text x="301.50" y="342.06" font-size="6.25" text-anchor="end" fill="#222" stroke="#222" stroke-width="0.22">MELK</text>
<rect x="303.90" y="343.48" width="6.25" height="6.29" fill="#f9cdd3"/>
<rect x="310.10" y="343.48" width="6.25" height="6.29" fill="#f5adb5"/>
<rect x="316.30" y="343.48" width="6.25" height="6.29" fill="#f9cdd3"/>
<rect x="322.50" y="343.48" width="6.25" height="6.29" fill="#13677f"/>
<rect x="328.70" y="343.48" width="6.25" height="6.29" fill="#e0e4f9"/>
<rect x="334.90" y="343.48" width="6.25" height="6.29" fill="#ced5f6"/>
<text x="301.50" y="348.30" font-size="6.25" text-anchor="end" fill="#222" stroke="#222" stroke-width="0.22">E2F8</text>
<rect x="303.90" y="349.72" width="6.25" height="6.29" fill="#ee8289"/>
<rect x="310.10" y="349.72" width="6.25" height="6.29" fill="#e0e4f9"/>
<rect x="316.30" y="349.72" width="6.25" height="6.29" fill="#f5adb5"/>
<rect x="322.50" y="349.72" width="6.25" height="6.29" fill="#1651e0"/>
<rect x="328.70" y="349.72" width="6.25" height="6.29" fill="#ced5f6"/>
<rect x="334.90" y="349.72" width="6.25" height="6.29" fill="#e0e4f9"/>
<text x="301.50" y="354.54" font-size="6.25" text-anchor="end" fill="#222" stroke="#222" stroke-width="0.22">CDK1</text>
<rect x="303.90" y="355.96" width="6.25" height="6.29" fill="#f5adb5"/>
<rect x="310.10" y="355.96" width="6.25" height="6.29" fill="#ffffff"/>
<rect x="316.30" y="355.96" width="6.25" height="6.29" fill="#fbdade"/>
<rect x="322.50" y="355.96" width="6.25" height="6.29" fill="#aab7f1"/>
<rect x="328.70" y="355.96" width="6.25" height="6.29" fill="#ced5f6"/>
<rect x="334.90" y="355.96" width="6.25" height="6.29" fill="#e0e4f9"/>
<text x="301.50" y="360.78" font-size="6.25" text-anchor="end" fill="#222" stroke="#222" stroke-width="0.22">RFC3</text>
<rect x="303.90" y="362.20" width="6.25" height="6.29" fill="#f5adb5"/>
<rect x="310.10" y="362.20" width="6.25" height="6.29" fill="#ffffff"/>
<rect x="316.30" y="362.20" width="6.25" height="6.29" fill="#fbdade"/>
<rect x="322.50" y="362.20" width="6.25" height="6.29" fill="#aab7f1"/>
<rect x="328.70" y="362.20" width="6.25" height="6.29" fill="#e0e4f9"/>
<rect x="334.90" y="362.20" width="6.25" height="6.29" fill="#e0e4f9"/>
<text x="301.50" y="367.02" font-size="6.25" text-anchor="end" fill="#222" stroke="#222" stroke-width="0.22">CHEK1</text>
<rect x="303.90" y="368.44" width="6.25" height="6.29" fill="#f5adb5"/>
<rect x="310.10" y="368.44" width="6.25" height="6.29" fill="#ffffff"/>
<rect x="316.30" y="368.44" width="6.25" height="6.29" fill="#fbdade"/>
<rect x="322.50" y="368.44" width="6.25" height="6.29" fill="#ced5f6"/>
<rect x="328.70" y="368.44" width="6.25" height="6.29" fill="#aab7f1"/>
<rect x="334.90" y="368.44" width="6.25" height="6.29" fill="#e0e4f9"/>
<text x="301.50" y="373.26" font-size="6.25" text-anchor="end" fill="#222" stroke="#222" stroke-width="0.22">CSE1L</text>
<rect x="303.90" y="374.68" width="6.25" height="6.29" fill="#f9cdd3"/>
<rect x="310.10" y="374.68" width="6.25" height="6.29" fill="#e0e4f9"/>
<rect x="316.30" y="374.68" width="6.25" height="6.29" fill="#fbdade"/>
<rect x="322.50" y="374.68" width="6.25" height="6.29" fill="#aab7f1"/>
<rect x="328.70" y="374.68" width="6.25" height="6.29" fill="#e0e4f9"/>
<rect x="334.90" y="374.68" width="6.25" height="6.29" fill="#e0e4f9"/>
<text x="301.50" y="379.50" font-size="6.25" text-anchor="end" fill="#222" stroke="#222" stroke-width="0.22">UBE2T</text>
<rect x="303.90" y="380.92" width="6.25" height="6.29" fill="#ee8289"/>
<rect x="310.10" y="380.92" width="6.25" height="6.29" fill="#ced5f6"/>
<rect x="316.30" y="380.92" width="6.25" height="6.29" fill="#fbdade"/>
<rect x="322.50" y="380.92" width="6.25" height="6.29" fill="#4c73e2"/>
<rect x="328.70" y="380.92" width="6.25" height="6.29" fill="#ced5f6"/>
<rect x="334.90" y="380.92" width="6.25" height="6.29" fill="#ffffff"/>
<text x="301.50" y="385.74" font-size="6.25" text-anchor="end" fill="#222" stroke="#222" stroke-width="0.22">BRMS1L</text>
<rect x="303.90" y="387.16" width="6.25" height="6.29" fill="#f9cdd3"/>
<rect x="310.10" y="387.16" width="6.25" height="6.29" fill="#ffffff"/>
<rect x="316.30" y="387.16" width="6.25" height="6.29" fill="#f9cdd3"/>
<rect x="322.50" y="387.16" width="6.25" height="6.29" fill="#ced5f6"/>
<rect x="328.70" y="387.16" width="6.25" height="6.29" fill="#e0e4f9"/>
<rect x="334.90" y="387.16" width="6.25" height="6.29" fill="#ffffff"/>
<text x="301.50" y="391.98" font-size="6.25" text-anchor="end" fill="#222" stroke="#222" stroke-width="0.22">PRPS1</text>
<rect x="303.90" y="393.40" width="6.25" height="6.29" fill="#f5adb5"/>
<rect x="310.10" y="393.40" width="6.25" height="6.29" fill="#ffffff"/>
<rect x="316.30" y="393.40" width="6.25" height="6.29" fill="#fbdade"/>
<rect x="322.50" y="393.40" width="6.25" height="6.29" fill="#4c73e2"/>
<rect x="328.70" y="393.40" width="6.25" height="6.29" fill="#ffffff"/>
<rect x="334.90" y="393.40" width="6.25" height="6.29" fill="#ced5f6"/>
<text x="301.50" y="398.22" font-size="6.25" text-anchor="end" fill="#222" stroke="#222" stroke-width="0.22">SMC4</text>
<rect x="303.90" y="399.64" width="6.25" height="6.29" fill="#f5adb5"/>
<rect x="310.10" y="399.64" width="6.25" height="6.29" fill="#ffffff"/>
<rect x="316.30" y="399.64" width="6.25" height="6.29" fill="#fbdade"/>
<rect x="322.50" y="399.64" width="6.25" height="6.29" fill="#ced5f6"/>
<rect x="328.70" y="399.64" width="6.25" height="6.29" fill="#e0e4f9"/>
<rect x="334.90" y="399.64" width="6.25" height="6.29" fill="#e0e4f9"/>
<text x="301.50" y="404.46" font-size="6.25" text-anchor="end" fill="#222" stroke="#222" stroke-width="0.22">MTHFD2</text>
<rect x="303.90" y="405.88" width="6.25" height="6.29" fill="#f9cdd3"/>
<rect x="310.10" y="405.88" width="6.25" height="6.29" fill="#fbdade"/>
<rect x="316.30" y="405.88" width="6.25" height="6.29" fill="#fbdade"/>
<rect x="322.50" y="405.88" width="6.25" height="6.29" fill="#aab7f1"/>
<rect x="328.70" y="405.88" width="6.25" height="6.29" fill="#e0e4f9"/>
<rect x="334.90" y="405.88" width="6.25" height="6.29" fill="#e0e4f9"/>
<text x="301.50" y="410.70" font-size="6.25" text-anchor="end" fill="#222" stroke="#222" stroke-width="0.22">LYAR</text>
<rect x="303.90" y="412.12" width="6.25" height="6.29" fill="#ffffff"/>
<rect x="310.10" y="412.12" width="6.25" height="6.29" fill="#fbdade"/>
<rect x="316.30" y="412.12" width="6.25" height="6.29" fill="#f5adb5"/>
<rect x="322.50" y="412.12" width="6.25" height="6.29" fill="#4c73e2"/>
<rect x="328.70" y="412.12" width="6.25" height="6.29" fill="#ced5f6"/>
<rect x="334.90" y="412.12" width="6.25" height="6.29" fill="#e0e4f9"/>
<text x="301.50" y="416.94" font-size="6.25" text-anchor="end" fill="#222" stroke="#222" stroke-width="0.22">BUB1B</text>
<rect x="303.90" y="418.36" width="6.25" height="6.29" fill="#f5adb5"/>
<rect x="310.10" y="418.36" width="6.25" height="6.29" fill="#ced5f6"/>
<rect x="316.30" y="418.36" width="6.25" height="6.29" fill="#f5adb5"/>
<rect x="322.50" y="418.36" width="6.25" height="6.29" fill="#e0e4f9"/>
<rect x="328.70" y="418.36" width="6.25" height="6.29" fill="#aab7f1"/>
<rect x="334.90" y="418.36" width="6.25" height="6.29" fill="#e0e4f9"/>
<text x="301.50" y="423.18" font-size="6.25" text-anchor="end" fill="#222" stroke="#222" stroke-width="0.22">RAD51AP1</text>
<rect x="303.90" y="424.60" width="6.25" height="6.29" fill="#f5adb5"/>
<rect x="310.10" y="424.60" width="6.25" height="6.29" fill="#ced5f6"/>
<rect x="316.30" y="424.60" width="6.25" height="6.29" fill="#fbdade"/>
<rect x="322.50" y="424.60" width="6.25" height="6.29" fill="#aab7f1"/>
<rect x="328.70" y="424.60" width="6.25" height="6.29" fill="#7d94ea"/>
<rect x="334.90" y="424.60" width="6.25" height="6.29" fill="#ffffff"/>
<text x="301.50" y="429.42" font-size="6.25" text-anchor="end" fill="#222" stroke="#222" stroke-width="0.22">HUS1</text>
<rect x="303.90" y="430.84" width="6.25" height="6.29" fill="#f5adb5"/>
<rect x="310.10" y="430.84" width="6.25" height="6.29" fill="#e0e4f9"/>
<rect x="316.30" y="430.84" width="6.25" height="6.29" fill="#fbdade"/>
<rect x="322.50" y="430.84" width="6.25" height="6.29" fill="#aab7f1"/>
<rect x="328.70" y="430.84" width="6.25" height="6.29" fill="#ced5f6"/>
<rect x="334.90" y="430.84" width="6.25" height="6.29" fill="#ced5f6"/>
<text x="301.50" y="435.66" font-size="6.25" text-anchor="end" fill="#222" stroke="#222" stroke-width="0.22">MMS22L</text>
<rect x="303.90" y="437.08" width="6.25" height="6.29" fill="#f9cdd3"/>
<rect x="310.10" y="437.08" width="6.25" height="6.29" fill="#fbdade"/>
<rect x="316.30" y="437.08" width="6.25" height="6.29" fill="#e0e4f9"/>
<rect x="322.50" y="437.08" width="6.25" height="6.29" fill="#ced5f6"/>
<rect x="328.70" y="437.08" width="6.25" height="6.29" fill="#ced5f6"/>
<rect x="334.90" y="437.08" width="6.25" height="6.29" fill="#e0e4f9"/>
<text x="301.50" y="441.90" font-size="6.25" text-anchor="end" fill="#222" stroke="#222" stroke-width="0.22">RAD1</text>
<rect x="303.90" y="443.32" width="6.25" height="6.29" fill="#f9cdd3"/>
<rect x="310.10" y="443.32" width="6.25" height="6.29" fill="#ffffff"/>
<rect x="316.30" y="443.32" width="6.25" height="6.29" fill="#fbdade"/>
<rect x="322.50" y="443.32" width="6.25" height="6.29" fill="#ced5f6"/>
<rect x="328.70" y="443.32" width="6.25" height="6.29" fill="#ced5f6"/>
<rect x="334.90" y="443.32" width="6.25" height="6.29" fill="#e0e4f9"/>
<text x="301.50" y="448.14" font-size="6.25" text-anchor="end" fill="#222" stroke="#222" stroke-width="0.22">CKS2</text>
<rect x="303.90" y="449.56" width="6.25" height="6.29" fill="#f9cdd3"/>
<rect x="310.10" y="449.56" width="6.25" height="6.29" fill="#f9cdd3"/>
<rect x="316.30" y="449.56" width="6.25" height="6.29" fill="#f5adb5"/>
<rect x="322.50" y="449.56" width="6.25" height="6.29" fill="#1651e0"/>
<rect x="328.70" y="449.56" width="6.25" height="6.29" fill="#ffffff"/>
<rect x="334.90" y="449.56" width="6.25" height="6.29" fill="#e0e4f9"/>
<text x="301.50" y="454.38" font-size="6.25" text-anchor="end" fill="#222" stroke="#222" stroke-width="0.22">MKI67</text>
<rect x="303.90" y="331.00" width="37.20" height="124.80" fill="none" stroke="#111" stroke-width="1.3"/>
<text x="396.00" y="317.00" font-size="8.2" text-anchor="middle" fill="#222" stroke="#222" stroke-width="0.22" textLength="38.5" lengthAdjust="spacingAndGlyphs">G2-mitosis</text>
<text x="386.00" y="327.20" font-size="8.0" text-anchor="middle" fill="#d8305a" stroke="#d8305a" stroke-width="0.22">N1</text>
<text x="405.00" y="327.20" font-size="8.0" text-anchor="middle" fill="#3c7dc0" stroke="#3c7dc0" stroke-width="0.22">Ctrl</text>
<rect x="377.30" y="331.00" width="6.23" height="6.29" fill="#fbdade"/>
<rect x="383.48" y="331.00" width="6.23" height="6.29" fill="#ffffff"/>
<rect x="389.67" y="331.00" width="6.23" height="6.29" fill="#e64a4c"/>
<rect x="395.85" y="331.00" width="6.23" height="6.29" fill="#13677f"/>
<rect x="402.03" y="331.00" width="6.23" height="6.29" fill="#ced5f6"/>
<rect x="408.22" y="331.00" width="6.23" height="6.29" fill="#ced5f6"/>
<text x="374.30" y="335.82" font-size="6.25" text-anchor="end" fill="#222" stroke="#222" stroke-width="0.22">UBE2C</text>
<rect x="377.30" y="337.24" width="6.23" height="6.29" fill="#f5adb5"/>
<rect x="383.48" y="337.24" width="6.23" height="6.29" fill="#ffffff"/>
<rect x="389.67" y="337.24" width="6.23" height="6.29" fill="#fbdade"/>
<rect x="395.85" y="337.24" width="6.23" height="6.29" fill="#e0e4f9"/>
<rect x="402.03" y="337.24" width="6.23" height="6.29" fill="#aab7f1"/>
<rect x="408.22" y="337.24" width="6.23" height="6.29" fill="#7d94ea"/>
<text x="374.30" y="342.06" font-size="6.25" text-anchor="end" fill="#222" stroke="#222" stroke-width="0.22">POLQ</text>
<rect x="377.30" y="343.48" width="6.23" height="6.29" fill="#f9cdd3"/>
<rect x="383.48" y="343.48" width="6.23" height="6.29" fill="#f9cdd3"/>
<rect x="389.67" y="343.48" width="6.23" height="6.29" fill="#fbdade"/>
<rect x="395.85" y="343.48" width="6.23" height="6.29" fill="#ffffff"/>
<rect x="402.03" y="343.48" width="6.23" height="6.29" fill="#aab7f1"/>
<rect x="408.22" y="343.48" width="6.23" height="6.29" fill="#7d94ea"/>
<text x="374.30" y="348.30" font-size="6.25" text-anchor="end" fill="#222" stroke="#222" stroke-width="0.22">CENPA</text>
<rect x="377.30" y="349.72" width="6.23" height="6.29" fill="#f9cdd3"/>
<rect x="383.48" y="349.72" width="6.23" height="6.29" fill="#ffffff"/>
<rect x="389.67" y="349.72" width="6.23" height="6.29" fill="#f9cdd3"/>
<rect x="395.85" y="349.72" width="6.23" height="6.29" fill="#1651e0"/>
<rect x="402.03" y="349.72" width="6.23" height="6.29" fill="#ffffff"/>
<rect x="408.22" y="349.72" width="6.23" height="6.29" fill="#e0e4f9"/>
<text x="374.30" y="354.54" font-size="6.25" text-anchor="end" fill="#222" stroke="#222" stroke-width="0.22">DBF4</text>
<rect x="377.30" y="355.96" width="6.23" height="6.29" fill="#f5adb5"/>
<rect x="383.48" y="355.96" width="6.23" height="6.29" fill="#e0e4f9"/>
<rect x="389.67" y="355.96" width="6.23" height="6.29" fill="#f9cdd3"/>
<rect x="395.85" y="355.96" width="6.23" height="6.29" fill="#4c73e2"/>
<rect x="402.03" y="355.96" width="6.23" height="6.29" fill="#ffffff"/>
<rect x="408.22" y="355.96" width="6.23" height="6.29" fill="#ced5f6"/>
<text x="374.30" y="360.78" font-size="6.25" text-anchor="end" fill="#222" stroke="#222" stroke-width="0.22">NUSAP1</text>
<rect x="377.30" y="362.20" width="6.23" height="6.29" fill="#f5adb5"/>
<rect x="383.48" y="362.20" width="6.23" height="6.29" fill="#ffffff"/>
<rect x="389.67" y="362.20" width="6.23" height="6.29" fill="#fbdade"/>
<rect x="395.85" y="362.20" width="6.23" height="6.29" fill="#4c73e2"/>
<rect x="402.03" y="362.20" width="6.23" height="6.29" fill="#ffffff"/>
<rect x="408.22" y="362.20" width="6.23" height="6.29" fill="#e0e4f9"/>
<text x="374.30" y="367.02" font-size="6.25" text-anchor="end" fill="#222" stroke="#222" stroke-width="0.22">NDC80</text>
<rect x="377.30" y="368.44" width="6.23" height="6.29" fill="#ffffff"/>
<rect x="383.48" y="368.44" width="6.23" height="6.29" fill="#ee8289"/>
<rect x="389.67" y="368.44" width="6.23" height="6.29" fill="#ffffff"/>
<rect x="395.85" y="368.44" width="6.23" height="6.29" fill="#e0e4f9"/>
<rect x="402.03" y="368.44" width="6.23" height="6.29" fill="#aab7f1"/>
<rect x="408.22" y="368.44" width="6.23" height="6.29" fill="#e0e4f9"/>
<text x="374.30" y="373.26" font-size="6.25" text-anchor="end" fill="#222" stroke="#222" stroke-width="0.22">E2F2</text>
<rect x="377.30" y="374.68" width="6.23" height="6.29" fill="#f5adb5"/>
<rect x="383.48" y="374.68" width="6.23" height="6.29" fill="#ffffff"/>
<rect x="389.67" y="374.68" width="6.23" height="6.29" fill="#ffffff"/>
<rect x="395.85" y="374.68" width="6.23" height="6.29" fill="#7d94ea"/>
<rect x="402.03" y="374.68" width="6.23" height="6.29" fill="#e0e4f9"/>
<rect x="408.22" y="374.68" width="6.23" height="6.29" fill="#e0e4f9"/>
<text x="374.30" y="379.50" font-size="6.25" text-anchor="end" fill="#222" stroke="#222" stroke-width="0.22">KIF20B</text>
<rect x="377.30" y="380.92" width="6.23" height="6.29" fill="#f9cdd3"/>
<rect x="383.48" y="380.92" width="6.23" height="6.29" fill="#ffffff"/>
<rect x="389.67" y="380.92" width="6.23" height="6.29" fill="#ffffff"/>
<rect x="395.85" y="380.92" width="6.23" height="6.29" fill="#ced5f6"/>
<rect x="402.03" y="380.92" width="6.23" height="6.29" fill="#e0e4f9"/>
<rect x="408.22" y="380.92" width="6.23" height="6.29" fill="#7d94ea"/>
<text x="374.30" y="385.74" font-size="6.25" text-anchor="end" fill="#222" stroke="#222" stroke-width="0.22">KNL1</text>
<rect x="377.30" y="387.16" width="6.23" height="6.29" fill="#f9cdd3"/>
<rect x="383.48" y="387.16" width="6.23" height="6.29" fill="#ffffff"/>
<rect x="389.67" y="387.16" width="6.23" height="6.29" fill="#fbdade"/>
<rect x="395.85" y="387.16" width="6.23" height="6.29" fill="#ced5f6"/>
<rect x="402.03" y="387.16" width="6.23" height="6.29" fill="#e0e4f9"/>
<rect x="408.22" y="387.16" width="6.23" height="6.29" fill="#e0e4f9"/>
<text x="374.30" y="391.98" font-size="6.25" text-anchor="end" fill="#222" stroke="#222" stroke-width="0.22">KIF23</text>
<rect x="377.30" y="393.40" width="6.23" height="6.29" fill="#fbdade"/>
<rect x="383.48" y="393.40" width="6.23" height="6.29" fill="#fbdade"/>
<rect x="389.67" y="393.40" width="6.23" height="6.29" fill="#fbdade"/>
<rect x="395.85" y="393.40" width="6.23" height="6.29" fill="#ffffff"/>
<rect x="402.03" y="393.40" width="6.23" height="6.29" fill="#ced5f6"/>
<rect x="408.22" y="393.40" width="6.23" height="6.29" fill="#aab7f1"/>
<text x="374.30" y="398.22" font-size="6.25" text-anchor="end" fill="#222" stroke="#222" stroke-width="0.22">SLC7A1</text>
<rect x="377.30" y="399.64" width="6.23" height="6.29" fill="#ee8289"/>
<rect x="383.48" y="399.64" width="6.23" height="6.29" fill="#ced5f6"/>
<rect x="389.67" y="399.64" width="6.23" height="6.29" fill="#f5adb5"/>
<rect x="395.85" y="399.64" width="6.23" height="6.29" fill="#1651e0"/>
<rect x="402.03" y="399.64" width="6.23" height="6.29" fill="#ffffff"/>
<rect x="408.22" y="399.64" width="6.23" height="6.29" fill="#e0e4f9"/>
<text x="374.30" y="404.46" font-size="6.25" text-anchor="end" fill="#222" stroke="#222" stroke-width="0.22">PBK</text>
<rect x="377.30" y="405.88" width="6.23" height="6.29" fill="#f9cdd3"/>
<rect x="383.48" y="405.88" width="6.23" height="6.29" fill="#ffffff"/>
<rect x="389.67" y="405.88" width="6.23" height="6.29" fill="#ffffff"/>
<rect x="395.85" y="405.88" width="6.23" height="6.29" fill="#aab7f1"/>
<rect x="402.03" y="405.88" width="6.23" height="6.29" fill="#ffffff"/>
<rect x="408.22" y="405.88" width="6.23" height="6.29" fill="#e0e4f9"/>
<text x="374.30" y="410.70" font-size="6.25" text-anchor="end" fill="#222" stroke="#222" stroke-width="0.22">NUP50</text>
<rect x="377.30" y="412.12" width="6.23" height="6.29" fill="#f9cdd3"/>
<rect x="383.48" y="412.12" width="6.23" height="6.29" fill="#ffffff"/>
<rect x="389.67" y="412.12" width="6.23" height="6.29" fill="#f5adb5"/>
<rect x="395.85" y="412.12" width="6.23" height="6.29" fill="#13677f"/>
<rect x="402.03" y="412.12" width="6.23" height="6.29" fill="#ffffff"/>
<rect x="408.22" y="412.12" width="6.23" height="6.29" fill="#e0e4f9"/>
<text x="374.30" y="416.94" font-size="6.25" text-anchor="end" fill="#222" stroke="#222" stroke-width="0.22">FBXO5</text>
<rect x="377.30" y="418.36" width="6.23" height="6.29" fill="#ee8289"/>
<rect x="383.48" y="418.36" width="6.23" height="6.29" fill="#ced5f6"/>
<rect x="389.67" y="418.36" width="6.23" height="6.29" fill="#fbdade"/>
<rect x="395.85" y="418.36" width="6.23" height="6.29" fill="#ced5f6"/>
<rect x="402.03" y="418.36" width="6.23" height="6.29" fill="#ced5f6"/>
<rect x="408.22" y="418.36" width="6.23" height="6.29" fill="#e0e4f9"/>
<text x="374.30" y="423.18" font-size="6.25" text-anchor="end" fill="#222" stroke="#222" stroke-width="0.22">ORC5</text>
<rect x="377.30" y="424.60" width="6.23" height="6.29" fill="#e64a4c"/>
<rect x="383.48" y="424.60" width="6.23" height="6.29" fill="#7d94ea"/>
<rect x="389.67" y="424.60" width="6.23" height="6.29" fill="#f5adb5"/>
<rect x="395.85" y="424.60" width="6.23" height="6.29" fill="#ced5f6"/>
<rect x="402.03" y="424.60" width="6.23" height="6.29" fill="#aab7f1"/>
<rect x="408.22" y="424.60" width="6.23" height="6.29" fill="#e0e4f9"/>
<text x="374.30" y="429.42" font-size="6.25" text-anchor="end" fill="#222" stroke="#222" stroke-width="0.22">TTK</text>
<rect x="377.30" y="430.84" width="6.23" height="6.29" fill="#ffffff"/>
<rect x="383.48" y="430.84" width="6.23" height="6.29" fill="#e64a4c"/>
<rect x="389.67" y="430.84" width="6.23" height="6.29" fill="#e0e4f9"/>
<rect x="395.85" y="430.84" width="6.23" height="6.29" fill="#ffffff"/>
<rect x="402.03" y="430.84" width="6.23" height="6.29" fill="#1651e0"/>
<rect x="408.22" y="430.84" width="6.23" height="6.29" fill="#ced5f6"/>
<text x="374.30" y="435.66" font-size="6.25" text-anchor="end" fill="#222" stroke="#222" stroke-width="0.22">HIRA</text>
<rect x="377.30" y="437.08" width="6.23" height="6.29" fill="#fbdade"/>
<rect x="383.48" y="437.08" width="6.23" height="6.29" fill="#ffffff"/>
<rect x="389.67" y="437.08" width="6.23" height="6.29" fill="#fbdade"/>
<rect x="395.85" y="437.08" width="6.23" height="6.29" fill="#aab7f1"/>
<rect x="402.03" y="437.08" width="6.23" height="6.29" fill="#e0e4f9"/>
<rect x="408.22" y="437.08" width="6.23" height="6.29" fill="#e0e4f9"/>
<text x="374.30" y="441.90" font-size="6.25" text-anchor="end" fill="#222" stroke="#222" stroke-width="0.22">EXO1</text>
<rect x="377.30" y="443.32" width="6.23" height="6.29" fill="#ee8289"/>
<rect x="383.48" y="443.32" width="6.23" height="6.29" fill="#e0e4f9"/>
<rect x="389.67" y="443.32" width="6.23" height="6.29" fill="#ffffff"/>
<rect x="395.85" y="443.32" width="6.23" height="6.29" fill="#13677f"/>
<rect x="402.03" y="443.32" width="6.23" height="6.29" fill="#ffffff"/>
<rect x="408.22" y="443.32" width="6.23" height="6.29" fill="#e0e4f9"/>
<text x="374.30" y="448.14" font-size="6.25" text-anchor="end" fill="#222" stroke="#222" stroke-width="0.22">KIF11</text>
<rect x="377.30" y="449.56" width="6.23" height="6.29" fill="#f9cdd3"/>
<rect x="383.48" y="449.56" width="6.23" height="6.29" fill="#ffffff"/>
<rect x="389.67" y="449.56" width="6.23" height="6.29" fill="#fbdade"/>
<rect x="395.85" y="449.56" width="6.23" height="6.29" fill="#ffffff"/>
<rect x="402.03" y="449.56" width="6.23" height="6.29" fill="#aab7f1"/>
<rect x="408.22" y="449.56" width="6.23" height="6.29" fill="#e0e4f9"/>
<text x="374.30" y="454.38" font-size="6.25" text-anchor="end" fill="#222" stroke="#222" stroke-width="0.22">WRN</text>
<rect x="377.30" y="331.00" width="37.10" height="124.80" fill="none" stroke="#111" stroke-width="1.3"/>
<text x="470.00" y="317.00" font-size="8.2" text-anchor="middle" fill="#222" stroke="#222" stroke-width="0.22" textLength="31.9" lengthAdjust="spacingAndGlyphs">mTORC1</text>
<text x="459.60" y="327.20" font-size="8.0" text-anchor="middle" fill="#d8305a" stroke="#d8305a" stroke-width="0.22">N1</text>
<text x="479.40" y="327.20" font-size="8.0" text-anchor="middle" fill="#3c7dc0" stroke="#3c7dc0" stroke-width="0.22">Ctrl</text>
<rect x="452.10" y="331.00" width="6.28" height="6.29" fill="#f9cdd3"/>
<rect x="458.33" y="331.00" width="6.28" height="6.29" fill="#fbdade"/>
<rect x="464.57" y="331.00" width="6.28" height="6.29" fill="#f9cdd3"/>
<rect x="470.80" y="331.00" width="6.28" height="6.29" fill="#4c73e2"/>
<rect x="477.03" y="331.00" width="6.28" height="6.29" fill="#ced5f6"/>
<rect x="483.27" y="331.00" width="6.28" height="6.29" fill="#e0e4f9"/>
<text x="448.40" y="335.82" font-size="6.25" text-anchor="end" fill="#222" stroke="#222" stroke-width="0.22">POLR3G</text>
<rect x="452.10" y="337.24" width="6.28" height="6.29" fill="#f5adb5"/>
<rect x="458.33" y="337.24" width="6.28" height="6.29" fill="#ffffff"/>
<rect x="464.57" y="337.24" width="6.28" height="6.29" fill="#f9cdd3"/>
<rect x="470.80" y="337.24" width="6.28" height="6.29" fill="#4c73e2"/>
<rect x="477.03" y="337.24" width="6.28" height="6.29" fill="#aab7f1"/>
<rect x="483.27" y="337.24" width="6.28" height="6.29" fill="#e0e4f9"/>
<text x="448.40" y="342.06" font-size="6.25" text-anchor="end" fill="#222" stroke="#222" stroke-width="0.22">NAMPT</text>
<rect x="452.10" y="343.48" width="6.28" height="6.29" fill="#f9cdd3"/>
<rect x="458.33" y="343.48" width="6.28" height="6.29" fill="#fbdade"/>
<rect x="464.57" y="343.48" width="6.28" height="6.29" fill="#ffffff"/>
<rect x="470.80" y="343.48" width="6.28" height="6.29" fill="#e0e4f9"/>
<rect x="477.03" y="343.48" width="6.28" height="6.29" fill="#ffffff"/>
<rect x="483.27" y="343.48" width="6.28" height="6.29" fill="#7d94ea"/>
<text x="448.40" y="348.30" font-size="6.25" text-anchor="end" fill="#222" stroke="#222" stroke-width="0.22">CTSC</text>
<rect x="452.10" y="349.72" width="6.28" height="6.29" fill="#f9cdd3"/>
<rect x="458.33" y="349.72" width="6.28" height="6.29" fill="#ffffff"/>
<rect x="464.57" y="349.72" width="6.28" height="6.29" fill="#fbdade"/>
<rect x="470.80" y="349.72" width="6.28" height="6.29" fill="#ced5f6"/>
<rect x="477.03" y="349.72" width="6.28" height="6.29" fill="#aab7f1"/>
<rect x="483.27" y="349.72" width="6.28" height="6.29" fill="#ffffff"/>
<text x="448.40" y="354.54" font-size="6.25" text-anchor="end" fill="#222" stroke="#222" stroke-width="0.22">CACYBP</text>
<rect x="452.10" y="355.96" width="6.28" height="6.29" fill="#e64a4c"/>
<rect x="458.33" y="355.96" width="6.28" height="6.29" fill="#13677f"/>
<rect x="464.57" y="355.96" width="6.28" height="6.29" fill="#e8102e"/>
<rect x="470.80" y="355.96" width="6.28" height="6.29" fill="#13677f"/>
<rect x="477.03" y="355.96" width="6.28" height="6.29" fill="#13677f"/>
<rect x="483.27" y="355.96" width="6.28" height="6.29" fill="#e0e4f9"/>
<text x="448.40" y="360.78" font-size="6.25" text-anchor="end" fill="#222" stroke="#222" stroke-width="0.22">SLC7A11</text>
<rect x="452.10" y="362.20" width="6.28" height="6.29" fill="#f5adb5"/>
<rect x="458.33" y="362.20" width="6.28" height="6.29" fill="#ffffff"/>
<rect x="464.57" y="362.20" width="6.28" height="6.29" fill="#ffffff"/>
<rect x="470.80" y="362.20" width="6.28" height="6.29" fill="#aab7f1"/>
<rect x="477.03" y="362.20" width="6.28" height="6.29" fill="#e0e4f9"/>
<rect x="483.27" y="362.20" width="6.28" height="6.29" fill="#e0e4f9"/>
<text x="448.40" y="367.02" font-size="6.25" text-anchor="end" fill="#222" stroke="#222" stroke-width="0.22">PSMD12</text>
<rect x="452.10" y="368.44" width="6.28" height="6.29" fill="#f5adb5"/>
<rect x="458.33" y="368.44" width="6.28" height="6.29" fill="#ffffff"/>
<rect x="464.57" y="368.44" width="6.28" height="6.29" fill="#fbdade"/>
<rect x="470.80" y="368.44" width="6.28" height="6.29" fill="#4c73e2"/>
<rect x="477.03" y="368.44" width="6.28" height="6.29" fill="#ffffff"/>
<rect x="483.27" y="368.44" width="6.28" height="6.29" fill="#e0e4f9"/>
<text x="448.40" y="373.26" font-size="6.25" text-anchor="end" fill="#222" stroke="#222" stroke-width="0.22">TBK1</text>
<rect x="452.10" y="374.68" width="6.28" height="6.29" fill="#f5adb5"/>
<rect x="458.33" y="374.68" width="6.28" height="6.29" fill="#e0e4f9"/>
<rect x="464.57" y="374.68" width="6.28" height="6.29" fill="#fbdade"/>
<rect x="470.80" y="374.68" width="6.28" height="6.29" fill="#ced5f6"/>
<rect x="477.03" y="374.68" width="6.28" height="6.29" fill="#ced5f6"/>
<rect x="483.27" y="374.68" width="6.28" height="6.29" fill="#e0e4f9"/>
<text x="448.40" y="379.50" font-size="6.25" text-anchor="end" fill="#222" stroke="#222" stroke-width="0.22">PPA1</text>
<rect x="452.10" y="380.92" width="6.28" height="6.29" fill="#f5adb5"/>
<rect x="458.33" y="380.92" width="6.28" height="6.29" fill="#e0e4f9"/>
<rect x="464.57" y="380.92" width="6.28" height="6.29" fill="#fbdade"/>
<rect x="470.80" y="380.92" width="6.28" height="6.29" fill="#ced5f6"/>
<rect x="477.03" y="380.92" width="6.28" height="6.29" fill="#aab7f1"/>
<rect x="483.27" y="380.92" width="6.28" height="6.29" fill="#e0e4f9"/>
<text x="448.40" y="385.74" font-size="6.25" text-anchor="end" fill="#222" stroke="#222" stroke-width="0.22">PSME3</text>
<rect x="452.10" y="387.16" width="6.28" height="6.29" fill="#f5adb5"/>
<rect x="458.33" y="387.16" width="6.28" height="6.29" fill="#e0e4f9"/>
<rect x="464.57" y="387.16" width="6.28" height="6.29" fill="#fbdade"/>
<rect x="470.80" y="387.16" width="6.28" height="6.29" fill="#aab7f1"/>
<rect x="477.03" y="387.16" width="6.28" height="6.29" fill="#ced5f6"/>
<rect x="483.27" y="387.16" width="6.28" height="6.29" fill="#e0e4f9"/>
<text x="448.40" y="391.98" font-size="6.25" text-anchor="end" fill="#222" stroke="#222" stroke-width="0.22">UCHL5</text>
<rect x="452.10" y="393.40" width="6.28" height="6.29" fill="#e64a4c"/>
<rect x="458.33" y="393.40" width="6.28" height="6.29" fill="#e0e4f9"/>
<rect x="464.57" y="393.40" width="6.28" height="6.29" fill="#ffffff"/>
<rect x="470.80" y="393.40" width="6.28" height="6.29" fill="#13677f"/>
<rect x="477.03" y="393.40" width="6.28" height="6.29" fill="#ffffff"/>
<rect x="483.27" y="393.40" width="6.28" height="6.29" fill="#ced5f6"/>
<text x="448.40" y="398.22" font-size="6.25" text-anchor="end" fill="#222" stroke="#222" stroke-width="0.22">HMGCS1</text>
<rect x="452.10" y="399.64" width="6.28" height="6.29" fill="#fbdade"/>
<rect x="458.33" y="399.64" width="6.28" height="6.29" fill="#fbdade"/>
<rect x="464.57" y="399.64" width="6.28" height="6.29" fill="#ee8289"/>
<rect x="470.80" y="399.64" width="6.28" height="6.29" fill="#4c73e2"/>
<rect x="477.03" y="399.64" width="6.28" height="6.29" fill="#aab7f1"/>
<rect x="483.27" y="399.64" width="6.28" height="6.29" fill="#e0e4f9"/>
<text x="448.40" y="404.46" font-size="6.25" text-anchor="end" fill="#222" stroke="#222" stroke-width="0.22">INSIG1</text>
<rect x="452.10" y="405.88" width="6.28" height="6.29" fill="#f9cdd3"/>
<rect x="458.33" y="405.88" width="6.28" height="6.29" fill="#ffffff"/>
<rect x="464.57" y="405.88" width="6.28" height="6.29" fill="#fbdade"/>
<rect x="470.80" y="405.88" width="6.28" height="6.29" fill="#aab7f1"/>
<rect x="477.03" y="405.88" width="6.28" height="6.29" fill="#e0e4f9"/>
<rect x="483.27" y="405.88" width="6.28" height="6.29" fill="#e0e4f9"/>
<text x="448.40" y="410.70" font-size="6.25" text-anchor="end" fill="#222" stroke="#222" stroke-width="0.22">PSMG1</text>
<rect x="452.10" y="412.12" width="6.28" height="6.29" fill="#f9cdd3"/>
<rect x="458.33" y="412.12" width="6.28" height="6.29" fill="#fbdade"/>
<rect x="464.57" y="412.12" width="6.28" height="6.29" fill="#ffffff"/>
<rect x="470.80" y="412.12" width="6.28" height="6.29" fill="#aab7f1"/>
<rect x="477.03" y="412.12" width="6.28" height="6.29" fill="#e0e4f9"/>
<rect x="483.27" y="412.12" width="6.28" height="6.29" fill="#e0e4f9"/>
<text x="448.40" y="416.94" font-size="6.25" text-anchor="end" fill="#222" stroke="#222" stroke-width="0.22">ARPC5L</text>
<rect x="452.10" y="418.36" width="6.28" height="6.29" fill="#f5adb5"/>
<rect x="458.33" y="418.36" width="6.28" height="6.29" fill="#ffffff"/>
<rect x="464.57" y="418.36" width="6.28" height="6.29" fill="#ffffff"/>
<rect x="470.80" y="418.36" width="6.28" height="6.29" fill="#e0e4f9"/>
<rect x="477.03" y="418.36" width="6.28" height="6.29" fill="#ced5f6"/>
<rect x="483.27" y="418.36" width="6.28" height="6.29" fill="#e0e4f9"/>
<text x="448.40" y="423.18" font-size="6.25" text-anchor="end" fill="#222" stroke="#222" stroke-width="0.22">GTF2H1</text>
<rect x="452.10" y="424.60" width="6.28" height="6.29" fill="#f5adb5"/>
<rect x="458.33" y="424.60" width="6.28" height="6.29" fill="#ffffff"/>
<rect x="464.57" y="424.60" width="6.28" height="6.29" fill="#fbdade"/>
<rect x="470.80" y="424.60" width="6.28" height="6.29" fill="#aab7f1"/>
<rect x="477.03" y="424.60" width="6.28" height="6.29" fill="#ced5f6"/>
<rect x="483.27" y="424.60" width="6.28" height="6.29" fill="#ffffff"/>
<text x="448.40" y="429.42" font-size="6.25" text-anchor="end" fill="#222" stroke="#222" stroke-width="0.22">PSMA3</text>
<rect x="452.10" y="430.84" width="6.28" height="6.29" fill="#f5adb5"/>
<rect x="458.33" y="430.84" width="6.28" height="6.29" fill="#ffffff"/>
<rect x="464.57" y="430.84" width="6.28" height="6.29" fill="#ffffff"/>
<rect x="470.80" y="430.84" width="6.28" height="6.29" fill="#e0e4f9"/>
<rect x="477.03" y="430.84" width="6.28" height="6.29" fill="#ffffff"/>
<rect x="483.27" y="430.84" width="6.28" height="6.29" fill="#aab7f1"/>
<text x="448.40" y="435.66" font-size="6.25" text-anchor="end" fill="#222" stroke="#222" stroke-width="0.22">TCEA1</text>
<rect x="452.10" y="437.08" width="6.28" height="6.29" fill="#f9cdd3"/>
<rect x="458.33" y="437.08" width="6.28" height="6.29" fill="#ffffff"/>
<rect x="464.57" y="437.08" width="6.28" height="6.29" fill="#fbdade"/>
<rect x="470.80" y="437.08" width="6.28" height="6.29" fill="#e0e4f9"/>
<rect x="477.03" y="437.08" width="6.28" height="6.29" fill="#ced5f6"/>
<rect x="483.27" y="437.08" width="6.28" height="6.29" fill="#ced5f6"/>
<text x="448.40" y="441.90" font-size="6.25" text-anchor="end" fill="#222" stroke="#222" stroke-width="0.22">PHGDH</text>
<rect x="452.10" y="443.32" width="6.28" height="6.29" fill="#f9cdd3"/>
<rect x="458.33" y="443.32" width="6.28" height="6.29" fill="#e0e4f9"/>
<rect x="464.57" y="443.32" width="6.28" height="6.29" fill="#e0e4f9"/>
<rect x="470.80" y="443.32" width="6.28" height="6.29" fill="#e0e4f9"/>
<rect x="477.03" y="443.32" width="6.28" height="6.29" fill="#aab7f1"/>
<rect x="483.27" y="443.32" width="6.28" height="6.29" fill="#e0e4f9"/>
<text x="448.40" y="448.14" font-size="6.25" text-anchor="end" fill="#222" stroke="#222" stroke-width="0.22">ASNS</text>
<rect x="452.10" y="449.56" width="6.28" height="6.29" fill="#f5adb5"/>
<rect x="458.33" y="449.56" width="6.28" height="6.29" fill="#e0e4f9"/>
<rect x="464.57" y="449.56" width="6.28" height="6.29" fill="#fbdade"/>
<rect x="470.80" y="449.56" width="6.28" height="6.29" fill="#ffffff"/>
<rect x="477.03" y="449.56" width="6.28" height="6.29" fill="#aab7f1"/>
<rect x="483.27" y="449.56" width="6.28" height="6.29" fill="#e0e4f9"/>
<text x="448.40" y="454.38" font-size="6.25" text-anchor="end" fill="#222" stroke="#222" stroke-width="0.22">PSAT1</text>
<rect x="452.10" y="331.00" width="37.40" height="124.80" fill="none" stroke="#111" stroke-width="1.3"/>
<linearGradient id="cbar" x1="0" x2="0" y1="0" y2="1"><stop offset="0" stop-color="#e8302a"/><stop offset="0.5" stop-color="#ffffff"/><stop offset="1" stop-color="#1a4fd8"/></linearGradient>
<rect x="494.20" y="379.40" width="12.60" height="30.20" fill="url(#cbar)" stroke="#111" stroke-width="1.1"/>
<line x1="494.20" y1="394.60" x2="496.00" y2="394.60" stroke="#111" stroke-width="0.9"/>
<line x1="505.00" y1="394.60" x2="506.80" y2="394.60" stroke="#111" stroke-width="0.9"/>
<text x="511.20" y="382.20" font-size="7.6" fill="#222" stroke="#222" stroke-width="0.22">1</text>
<text x="510.60" y="396.60" font-size="7.6" fill="#222" stroke="#222" stroke-width="0.22">0</text>
<text x="509.20" y="411.20" font-size="7.6" fill="#222" stroke="#222" stroke-width="0.22" textLength="8" lengthAdjust="spacingAndGlyphs">−1</text>
</svg>
</body></html>
